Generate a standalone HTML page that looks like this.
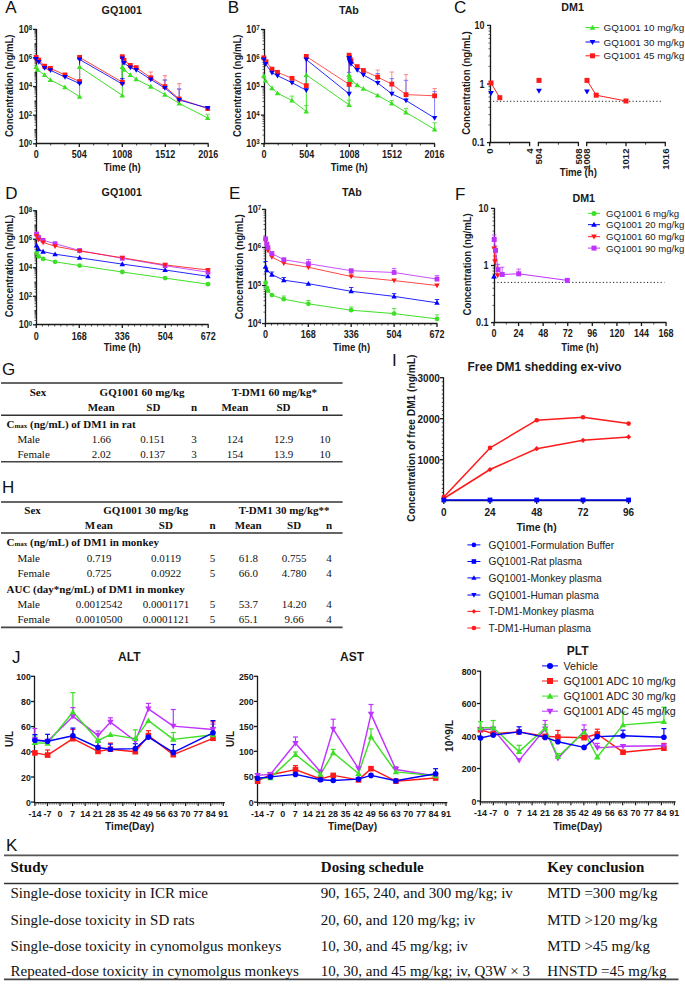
<!DOCTYPE html><html><head><meta charset="utf-8"><style>html,body{margin:0;padding:0;background:#fff;width:685px;height:984px;overflow:hidden}svg{display:block}</style></head><body>
<svg width="685" height="984" viewBox="0 0 685 984">
<rect width="685" height="984" fill="#fff"/>
<text x="5.2" y="13.2" font-family="Liberation Sans" font-size="17" font-weight="normal" text-anchor="start" fill="#111" >A</text>
<text x="227.7" y="13.2" font-family="Liberation Sans" font-size="17" font-weight="normal" text-anchor="start" fill="#111" >B</text>
<text x="454" y="13.2" font-family="Liberation Sans" font-size="17" font-weight="normal" text-anchor="start" fill="#111" >C</text>
<text x="5.2" y="198.5" font-family="Liberation Sans" font-size="17" font-weight="normal" text-anchor="start" fill="#111" >D</text>
<text x="229" y="199" font-family="Liberation Sans" font-size="17" font-weight="normal" text-anchor="start" fill="#111" >E</text>
<text x="455" y="199.5" font-family="Liberation Sans" font-size="17" font-weight="normal" text-anchor="start" fill="#111" >F</text>
<text x="2" y="374.6" font-family="Liberation Sans" font-size="17" font-weight="normal" text-anchor="start" fill="#111" >G</text>
<text x="2" y="493" font-family="Liberation Sans" font-size="17" font-weight="normal" text-anchor="start" fill="#111" >H</text>
<text x="392" y="366" font-family="Liberation Sans" font-size="17" font-weight="normal" text-anchor="start" fill="#111" >I</text>
<text x="12" y="663" font-family="Liberation Sans" font-size="17" font-weight="normal" text-anchor="start" fill="#111" >J</text>
<text x="6" y="851" font-family="Liberation Sans" font-size="17" font-weight="normal" text-anchor="start" fill="#111" >K</text>
<text x="121.8" y="13.6" font-family="Liberation Sans" font-size="10.7" font-weight="bold" text-anchor="middle" fill="#1a1a1a" >GQ1001</text>
<line x1="36.5" y1="28.9" x2="36.5" y2="144.4" stroke="#1a1a1a" stroke-width="1.3" />
<line x1="33" y1="143.8" x2="36.5" y2="143.8" stroke="#1a1a1a" stroke-width="1.3" />
<line x1="34.5" y1="139.5" x2="36.5" y2="139.5" stroke="#1a1a1a" stroke-width="0.7" />
<line x1="34.5" y1="136.98" x2="36.5" y2="136.98" stroke="#1a1a1a" stroke-width="0.7" />
<line x1="34.5" y1="135.19" x2="36.5" y2="135.19" stroke="#1a1a1a" stroke-width="0.7" />
<line x1="34.5" y1="133.8" x2="36.5" y2="133.8" stroke="#1a1a1a" stroke-width="0.7" />
<line x1="34.5" y1="132.67" x2="36.5" y2="132.67" stroke="#1a1a1a" stroke-width="0.7" />
<line x1="34.5" y1="131.72" x2="36.5" y2="131.72" stroke="#1a1a1a" stroke-width="0.7" />
<line x1="34.5" y1="130.89" x2="36.5" y2="130.89" stroke="#1a1a1a" stroke-width="0.7" />
<line x1="34.5" y1="130.15" x2="36.5" y2="130.15" stroke="#1a1a1a" stroke-width="0.7" />
<line x1="34.5" y1="129.5" x2="36.5" y2="129.5" stroke="#1a1a1a" stroke-width="0.9" />
<line x1="34.5" y1="125.2" x2="36.5" y2="125.2" stroke="#1a1a1a" stroke-width="0.7" />
<line x1="34.5" y1="122.68" x2="36.5" y2="122.68" stroke="#1a1a1a" stroke-width="0.7" />
<line x1="34.5" y1="120.89" x2="36.5" y2="120.89" stroke="#1a1a1a" stroke-width="0.7" />
<line x1="34.5" y1="119.5" x2="36.5" y2="119.5" stroke="#1a1a1a" stroke-width="0.7" />
<line x1="34.5" y1="118.37" x2="36.5" y2="118.37" stroke="#1a1a1a" stroke-width="0.7" />
<line x1="34.5" y1="117.42" x2="36.5" y2="117.42" stroke="#1a1a1a" stroke-width="0.7" />
<line x1="34.5" y1="116.59" x2="36.5" y2="116.59" stroke="#1a1a1a" stroke-width="0.7" />
<line x1="34.5" y1="115.85" x2="36.5" y2="115.85" stroke="#1a1a1a" stroke-width="0.7" />
<line x1="33" y1="115.2" x2="36.5" y2="115.2" stroke="#1a1a1a" stroke-width="1.3" />
<line x1="34.5" y1="110.9" x2="36.5" y2="110.9" stroke="#1a1a1a" stroke-width="0.7" />
<line x1="34.5" y1="108.38" x2="36.5" y2="108.38" stroke="#1a1a1a" stroke-width="0.7" />
<line x1="34.5" y1="106.59" x2="36.5" y2="106.59" stroke="#1a1a1a" stroke-width="0.7" />
<line x1="34.5" y1="105.2" x2="36.5" y2="105.2" stroke="#1a1a1a" stroke-width="0.7" />
<line x1="34.5" y1="104.07" x2="36.5" y2="104.07" stroke="#1a1a1a" stroke-width="0.7" />
<line x1="34.5" y1="103.12" x2="36.5" y2="103.12" stroke="#1a1a1a" stroke-width="0.7" />
<line x1="34.5" y1="102.29" x2="36.5" y2="102.29" stroke="#1a1a1a" stroke-width="0.7" />
<line x1="34.5" y1="101.55" x2="36.5" y2="101.55" stroke="#1a1a1a" stroke-width="0.7" />
<line x1="34.5" y1="100.9" x2="36.5" y2="100.9" stroke="#1a1a1a" stroke-width="0.9" />
<line x1="34.5" y1="96.6" x2="36.5" y2="96.6" stroke="#1a1a1a" stroke-width="0.7" />
<line x1="34.5" y1="94.08" x2="36.5" y2="94.08" stroke="#1a1a1a" stroke-width="0.7" />
<line x1="34.5" y1="92.29" x2="36.5" y2="92.29" stroke="#1a1a1a" stroke-width="0.7" />
<line x1="34.5" y1="90.9" x2="36.5" y2="90.9" stroke="#1a1a1a" stroke-width="0.7" />
<line x1="34.5" y1="89.77" x2="36.5" y2="89.77" stroke="#1a1a1a" stroke-width="0.7" />
<line x1="34.5" y1="88.82" x2="36.5" y2="88.82" stroke="#1a1a1a" stroke-width="0.7" />
<line x1="34.5" y1="87.99" x2="36.5" y2="87.99" stroke="#1a1a1a" stroke-width="0.7" />
<line x1="34.5" y1="87.25" x2="36.5" y2="87.25" stroke="#1a1a1a" stroke-width="0.7" />
<line x1="33" y1="86.6" x2="36.5" y2="86.6" stroke="#1a1a1a" stroke-width="1.3" />
<line x1="34.5" y1="82.3" x2="36.5" y2="82.3" stroke="#1a1a1a" stroke-width="0.7" />
<line x1="34.5" y1="79.78" x2="36.5" y2="79.78" stroke="#1a1a1a" stroke-width="0.7" />
<line x1="34.5" y1="77.99" x2="36.5" y2="77.99" stroke="#1a1a1a" stroke-width="0.7" />
<line x1="34.5" y1="76.6" x2="36.5" y2="76.6" stroke="#1a1a1a" stroke-width="0.7" />
<line x1="34.5" y1="75.47" x2="36.5" y2="75.47" stroke="#1a1a1a" stroke-width="0.7" />
<line x1="34.5" y1="74.52" x2="36.5" y2="74.52" stroke="#1a1a1a" stroke-width="0.7" />
<line x1="34.5" y1="73.69" x2="36.5" y2="73.69" stroke="#1a1a1a" stroke-width="0.7" />
<line x1="34.5" y1="72.95" x2="36.5" y2="72.95" stroke="#1a1a1a" stroke-width="0.7" />
<line x1="34.5" y1="72.3" x2="36.5" y2="72.3" stroke="#1a1a1a" stroke-width="0.9" />
<line x1="34.5" y1="68" x2="36.5" y2="68" stroke="#1a1a1a" stroke-width="0.7" />
<line x1="34.5" y1="65.48" x2="36.5" y2="65.48" stroke="#1a1a1a" stroke-width="0.7" />
<line x1="34.5" y1="63.69" x2="36.5" y2="63.69" stroke="#1a1a1a" stroke-width="0.7" />
<line x1="34.5" y1="62.3" x2="36.5" y2="62.3" stroke="#1a1a1a" stroke-width="0.7" />
<line x1="34.5" y1="61.17" x2="36.5" y2="61.17" stroke="#1a1a1a" stroke-width="0.7" />
<line x1="34.5" y1="60.22" x2="36.5" y2="60.22" stroke="#1a1a1a" stroke-width="0.7" />
<line x1="34.5" y1="59.39" x2="36.5" y2="59.39" stroke="#1a1a1a" stroke-width="0.7" />
<line x1="34.5" y1="58.65" x2="36.5" y2="58.65" stroke="#1a1a1a" stroke-width="0.7" />
<line x1="33" y1="58" x2="36.5" y2="58" stroke="#1a1a1a" stroke-width="1.3" />
<line x1="34.5" y1="53.7" x2="36.5" y2="53.7" stroke="#1a1a1a" stroke-width="0.7" />
<line x1="34.5" y1="51.18" x2="36.5" y2="51.18" stroke="#1a1a1a" stroke-width="0.7" />
<line x1="34.5" y1="49.39" x2="36.5" y2="49.39" stroke="#1a1a1a" stroke-width="0.7" />
<line x1="34.5" y1="48" x2="36.5" y2="48" stroke="#1a1a1a" stroke-width="0.7" />
<line x1="34.5" y1="46.87" x2="36.5" y2="46.87" stroke="#1a1a1a" stroke-width="0.7" />
<line x1="34.5" y1="45.92" x2="36.5" y2="45.92" stroke="#1a1a1a" stroke-width="0.7" />
<line x1="34.5" y1="45.09" x2="36.5" y2="45.09" stroke="#1a1a1a" stroke-width="0.7" />
<line x1="34.5" y1="44.35" x2="36.5" y2="44.35" stroke="#1a1a1a" stroke-width="0.7" />
<line x1="34.5" y1="43.7" x2="36.5" y2="43.7" stroke="#1a1a1a" stroke-width="0.9" />
<line x1="34.5" y1="39.4" x2="36.5" y2="39.4" stroke="#1a1a1a" stroke-width="0.7" />
<line x1="34.5" y1="36.88" x2="36.5" y2="36.88" stroke="#1a1a1a" stroke-width="0.7" />
<line x1="34.5" y1="35.09" x2="36.5" y2="35.09" stroke="#1a1a1a" stroke-width="0.7" />
<line x1="34.5" y1="33.7" x2="36.5" y2="33.7" stroke="#1a1a1a" stroke-width="0.7" />
<line x1="34.5" y1="32.57" x2="36.5" y2="32.57" stroke="#1a1a1a" stroke-width="0.7" />
<line x1="34.5" y1="31.62" x2="36.5" y2="31.62" stroke="#1a1a1a" stroke-width="0.7" />
<line x1="34.5" y1="30.79" x2="36.5" y2="30.79" stroke="#1a1a1a" stroke-width="0.7" />
<line x1="34.5" y1="30.05" x2="36.5" y2="30.05" stroke="#1a1a1a" stroke-width="0.7" />
<line x1="33" y1="29.4" x2="36.5" y2="29.4" stroke="#1a1a1a" stroke-width="1.3" />
<text transform="translate(32.1 147.4) scale(1 1.13)" font-family="Liberation Sans" font-weight="bold" font-size="9" text-anchor="end" fill="#1a1a1a">10<tspan font-size="6.2" dy="-2.5">0</tspan></text>
<text transform="translate(32.1 118.8) scale(1 1.13)" font-family="Liberation Sans" font-weight="bold" font-size="9" text-anchor="end" fill="#1a1a1a">10<tspan font-size="6.2" dy="-2.5">2</tspan></text>
<text transform="translate(32.1 90.2) scale(1 1.13)" font-family="Liberation Sans" font-weight="bold" font-size="9" text-anchor="end" fill="#1a1a1a">10<tspan font-size="6.2" dy="-2.5">4</tspan></text>
<text transform="translate(32.1 61.6) scale(1 1.13)" font-family="Liberation Sans" font-weight="bold" font-size="9" text-anchor="end" fill="#1a1a1a">10<tspan font-size="6.2" dy="-2.5">6</tspan></text>
<text transform="translate(32.1 33) scale(1 1.13)" font-family="Liberation Sans" font-weight="bold" font-size="9" text-anchor="end" fill="#1a1a1a">10<tspan font-size="6.2" dy="-2.5">8</tspan></text>
<line x1="35.7" y1="143.5" x2="208.6" y2="143.5" stroke="#1a1a1a" stroke-width="1.3" />
<line x1="36.3" y1="143.5" x2="36.3" y2="147" stroke="#1a1a1a" stroke-width="1.3" />
<line x1="79.3" y1="143.5" x2="79.3" y2="147" stroke="#1a1a1a" stroke-width="1.3" />
<line x1="122.3" y1="143.5" x2="122.3" y2="147" stroke="#1a1a1a" stroke-width="1.3" />
<line x1="165.3" y1="143.5" x2="165.3" y2="147" stroke="#1a1a1a" stroke-width="1.3" />
<line x1="208.2" y1="143.5" x2="208.2" y2="147" stroke="#1a1a1a" stroke-width="1.3" />
<line x1="50.63" y1="143.5" x2="50.63" y2="145.5" stroke="#1a1a1a" stroke-width="0.8" />
<line x1="64.96" y1="143.5" x2="64.96" y2="145.5" stroke="#1a1a1a" stroke-width="0.8" />
<line x1="93.62" y1="143.5" x2="93.62" y2="145.5" stroke="#1a1a1a" stroke-width="0.8" />
<line x1="107.95" y1="143.5" x2="107.95" y2="145.5" stroke="#1a1a1a" stroke-width="0.8" />
<line x1="136.61" y1="143.5" x2="136.61" y2="145.5" stroke="#1a1a1a" stroke-width="0.8" />
<line x1="150.94" y1="143.5" x2="150.94" y2="145.5" stroke="#1a1a1a" stroke-width="0.8" />
<line x1="179.6" y1="143.5" x2="179.6" y2="145.5" stroke="#1a1a1a" stroke-width="0.8" />
<line x1="193.93" y1="143.5" x2="193.93" y2="145.5" stroke="#1a1a1a" stroke-width="0.8" />
<text transform="translate(36.3 158) scale(1 1.13)" font-family="Liberation Sans" font-size="9" font-weight="bold" text-anchor="middle" fill="#1a1a1a" >0</text>
<text transform="translate(79.3 158) scale(1 1.13)" font-family="Liberation Sans" font-size="9" font-weight="bold" text-anchor="middle" fill="#1a1a1a" >504</text>
<text transform="translate(122.3 158) scale(1 1.13)" font-family="Liberation Sans" font-size="9" font-weight="bold" text-anchor="middle" fill="#1a1a1a" >1008</text>
<text transform="translate(165.3 158) scale(1 1.13)" font-family="Liberation Sans" font-size="9" font-weight="bold" text-anchor="middle" fill="#1a1a1a" >1512</text>
<text transform="translate(208.2 158) scale(1 1.13)" font-family="Liberation Sans" font-size="9" font-weight="bold" text-anchor="middle" fill="#1a1a1a" >2016</text>
<text transform="translate(122.2 170.6) scale(1 1.13)" font-family="Liberation Sans" font-size="9.6" font-weight="bold" text-anchor="middle" fill="#1a1a1a" >Time (h)</text>
<text x="0" y="0" transform="translate(13.3,85.8) rotate(-90)" font-family="Liberation Sans" font-weight="bold" font-size="10.5" text-anchor="middle" fill="#1a1a1a" textLength="102.5" lengthAdjust="spacingAndGlyphs">Concentration (ng/mL)</text>
<polyline points="36.1,57.4 38.8,60 44.6,66.2 50.4,68.4 65,74.9 79.6,81.5 79.6,57.4 122.3,82.2 122.3,56.7 124,60.3 130.3,65.4 136.2,67.6 150.8,77.8 164.9,86.6 179.2,99 207.7,108.5" fill="none" stroke="#ff1a1a" stroke-width="1" stroke-linejoin="round" stroke-opacity="0.85"/>
<polyline points="36.1,59 38.8,62 44.6,68 50.4,70.3 65,77 79.6,83.5 79.6,59.5 122.3,84 122.3,58.5 124,63 130.3,67.5 136.2,70 150.8,79.5 164.9,88 179.2,100 207.7,108" fill="none" stroke="#0000ff" stroke-width="1" stroke-linejoin="round" stroke-opacity="0.85"/>
<polyline points="36.1,66.9 37.5,69.8 44.6,74.9 50.4,80 65,87.3 79.6,96.8 79.6,66.9 122.3,95.4 122.3,66.9 124,69.8 130.3,74.9 136.2,79.3 150.8,86.6 164.9,94.6 179.2,103.4 207.7,118" fill="none" stroke="#3ee026" stroke-width="1" stroke-linejoin="round" stroke-opacity="1"/>
<line x1="207.7" y1="114.3" x2="207.7" y2="118" stroke="#3ee026" stroke-width="0.8" />
<line x1="205.5" y1="114.3" x2="209.9" y2="114.3" stroke="#3ee026" stroke-width="0.8" />
<line x1="164.9" y1="80" x2="164.9" y2="88" stroke="#0000ff" stroke-width="0.8" />
<line x1="162.7" y1="80" x2="167.1" y2="80" stroke="#0000ff" stroke-width="0.8" />
<line x1="179.2" y1="89" x2="179.2" y2="100" stroke="#0000ff" stroke-width="0.8" />
<line x1="177" y1="89" x2="181.4" y2="89" stroke="#0000ff" stroke-width="0.8" />
<line x1="122.3" y1="78.6" x2="122.3" y2="84" stroke="#0000ff" stroke-width="0.8" />
<line x1="120.1" y1="78.6" x2="124.5" y2="78.6" stroke="#0000ff" stroke-width="0.8" />
<line x1="150.8" y1="72" x2="150.8" y2="77.8" stroke="#ff6060" stroke-width="0.8" />
<line x1="148.6" y1="72" x2="153" y2="72" stroke="#ff6060" stroke-width="0.8" />
<line x1="164.9" y1="75.7" x2="164.9" y2="86.6" stroke="#ff6060" stroke-width="0.8" />
<line x1="162.7" y1="75.7" x2="167.1" y2="75.7" stroke="#ff6060" stroke-width="0.8" />
<line x1="179.2" y1="83.7" x2="179.2" y2="99" stroke="#ff6060" stroke-width="0.8" />
<line x1="177" y1="83.7" x2="181.4" y2="83.7" stroke="#ff6060" stroke-width="0.8" />
<polygon points="36.1,64.14 38.86,68.94 33.34,68.94" fill="#3ee026"/>
<polygon points="37.5,67.04 40.26,71.84 34.74,71.84" fill="#3ee026"/>
<polygon points="44.6,72.14 47.36,76.94 41.84,76.94" fill="#3ee026"/>
<polygon points="50.4,77.24 53.16,82.04 47.64,82.04" fill="#3ee026"/>
<polygon points="65,84.54 67.76,89.34 62.24,89.34" fill="#3ee026"/>
<polygon points="79.6,94.04 82.36,98.84 76.84,98.84" fill="#3ee026"/>
<polygon points="79.6,64.14 82.36,68.94 76.84,68.94" fill="#3ee026"/>
<polygon points="122.3,92.64 125.06,97.44 119.54,97.44" fill="#3ee026"/>
<polygon points="122.3,64.14 125.06,68.94 119.54,68.94" fill="#3ee026"/>
<polygon points="124,67.04 126.76,71.84 121.24,71.84" fill="#3ee026"/>
<polygon points="130.3,72.14 133.06,76.94 127.54,76.94" fill="#3ee026"/>
<polygon points="136.2,76.54 138.96,81.34 133.44,81.34" fill="#3ee026"/>
<polygon points="150.8,83.84 153.56,88.64 148.04,88.64" fill="#3ee026"/>
<polygon points="164.9,91.84 167.66,96.64 162.14,96.64" fill="#3ee026"/>
<polygon points="179.2,100.64 181.96,105.44 176.44,105.44" fill="#3ee026"/>
<polygon points="207.7,115.24 210.46,120.04 204.94,120.04" fill="#3ee026"/>
<rect x="33.7" y="55" width="4.8" height="4.8" fill="#ff1a1a"/>
<rect x="36.4" y="57.6" width="4.8" height="4.8" fill="#ff1a1a"/>
<rect x="42.2" y="63.8" width="4.8" height="4.8" fill="#ff1a1a"/>
<rect x="48" y="66" width="4.8" height="4.8" fill="#ff1a1a"/>
<rect x="62.6" y="72.5" width="4.8" height="4.8" fill="#ff1a1a"/>
<rect x="77.2" y="79.1" width="4.8" height="4.8" fill="#ff1a1a"/>
<rect x="77.2" y="55" width="4.8" height="4.8" fill="#ff1a1a"/>
<rect x="119.9" y="79.8" width="4.8" height="4.8" fill="#ff1a1a"/>
<rect x="119.9" y="54.3" width="4.8" height="4.8" fill="#ff1a1a"/>
<rect x="121.6" y="57.9" width="4.8" height="4.8" fill="#ff1a1a"/>
<rect x="127.9" y="63" width="4.8" height="4.8" fill="#ff1a1a"/>
<rect x="133.8" y="65.2" width="4.8" height="4.8" fill="#ff1a1a"/>
<rect x="148.4" y="75.4" width="4.8" height="4.8" fill="#ff1a1a"/>
<rect x="162.5" y="84.2" width="4.8" height="4.8" fill="#ff1a1a"/>
<rect x="176.8" y="96.6" width="4.8" height="4.8" fill="#ff1a1a"/>
<rect x="205.3" y="106.1" width="4.8" height="4.8" fill="#ff1a1a"/>
<polygon points="36.1,61.76 38.86,56.96 33.34,56.96" fill="#0000ff"/>
<polygon points="38.8,64.76 41.56,59.96 36.04,59.96" fill="#0000ff"/>
<polygon points="44.6,70.76 47.36,65.96 41.84,65.96" fill="#0000ff"/>
<polygon points="50.4,73.06 53.16,68.26 47.64,68.26" fill="#0000ff"/>
<polygon points="65,79.76 67.76,74.96 62.24,74.96" fill="#0000ff"/>
<polygon points="79.6,86.26 82.36,81.46 76.84,81.46" fill="#0000ff"/>
<polygon points="79.6,62.26 82.36,57.46 76.84,57.46" fill="#0000ff"/>
<polygon points="122.3,86.76 125.06,81.96 119.54,81.96" fill="#0000ff"/>
<polygon points="122.3,61.26 125.06,56.46 119.54,56.46" fill="#0000ff"/>
<polygon points="124,65.76 126.76,60.96 121.24,60.96" fill="#0000ff"/>
<polygon points="130.3,70.26 133.06,65.46 127.54,65.46" fill="#0000ff"/>
<polygon points="136.2,72.76 138.96,67.96 133.44,67.96" fill="#0000ff"/>
<polygon points="150.8,82.26 153.56,77.46 148.04,77.46" fill="#0000ff"/>
<polygon points="164.9,90.76 167.66,85.96 162.14,85.96" fill="#0000ff"/>
<polygon points="179.2,102.76 181.96,97.96 176.44,97.96" fill="#0000ff"/>
<polygon points="207.7,110.76 210.46,105.96 204.94,105.96" fill="#0000ff"/>
<text x="348.9" y="13.6" font-family="Liberation Sans" font-size="10.7" font-weight="bold" text-anchor="middle" fill="#1a1a1a" >TAb</text>
<line x1="264.5" y1="29" x2="264.5" y2="144.3" stroke="#1a1a1a" stroke-width="1.3" />
<line x1="261" y1="143.7" x2="264.5" y2="143.7" stroke="#1a1a1a" stroke-width="1.3" />
<line x1="262.5" y1="135.11" x2="264.5" y2="135.11" stroke="#1a1a1a" stroke-width="0.7" />
<line x1="262.5" y1="130.08" x2="264.5" y2="130.08" stroke="#1a1a1a" stroke-width="0.7" />
<line x1="262.5" y1="126.51" x2="264.5" y2="126.51" stroke="#1a1a1a" stroke-width="0.7" />
<line x1="262.5" y1="123.74" x2="264.5" y2="123.74" stroke="#1a1a1a" stroke-width="0.7" />
<line x1="262.5" y1="121.48" x2="264.5" y2="121.48" stroke="#1a1a1a" stroke-width="0.7" />
<line x1="262.5" y1="119.57" x2="264.5" y2="119.57" stroke="#1a1a1a" stroke-width="0.7" />
<line x1="262.5" y1="117.92" x2="264.5" y2="117.92" stroke="#1a1a1a" stroke-width="0.7" />
<line x1="262.5" y1="116.46" x2="264.5" y2="116.46" stroke="#1a1a1a" stroke-width="0.7" />
<line x1="261" y1="115.15" x2="264.5" y2="115.15" stroke="#1a1a1a" stroke-width="1.3" />
<line x1="262.5" y1="106.56" x2="264.5" y2="106.56" stroke="#1a1a1a" stroke-width="0.7" />
<line x1="262.5" y1="101.53" x2="264.5" y2="101.53" stroke="#1a1a1a" stroke-width="0.7" />
<line x1="262.5" y1="97.96" x2="264.5" y2="97.96" stroke="#1a1a1a" stroke-width="0.7" />
<line x1="262.5" y1="95.19" x2="264.5" y2="95.19" stroke="#1a1a1a" stroke-width="0.7" />
<line x1="262.5" y1="92.93" x2="264.5" y2="92.93" stroke="#1a1a1a" stroke-width="0.7" />
<line x1="262.5" y1="91.02" x2="264.5" y2="91.02" stroke="#1a1a1a" stroke-width="0.7" />
<line x1="262.5" y1="89.37" x2="264.5" y2="89.37" stroke="#1a1a1a" stroke-width="0.7" />
<line x1="262.5" y1="87.91" x2="264.5" y2="87.91" stroke="#1a1a1a" stroke-width="0.7" />
<line x1="261" y1="86.6" x2="264.5" y2="86.6" stroke="#1a1a1a" stroke-width="1.3" />
<line x1="262.5" y1="78.01" x2="264.5" y2="78.01" stroke="#1a1a1a" stroke-width="0.7" />
<line x1="262.5" y1="72.98" x2="264.5" y2="72.98" stroke="#1a1a1a" stroke-width="0.7" />
<line x1="262.5" y1="69.41" x2="264.5" y2="69.41" stroke="#1a1a1a" stroke-width="0.7" />
<line x1="262.5" y1="66.64" x2="264.5" y2="66.64" stroke="#1a1a1a" stroke-width="0.7" />
<line x1="262.5" y1="64.38" x2="264.5" y2="64.38" stroke="#1a1a1a" stroke-width="0.7" />
<line x1="262.5" y1="62.47" x2="264.5" y2="62.47" stroke="#1a1a1a" stroke-width="0.7" />
<line x1="262.5" y1="60.82" x2="264.5" y2="60.82" stroke="#1a1a1a" stroke-width="0.7" />
<line x1="262.5" y1="59.36" x2="264.5" y2="59.36" stroke="#1a1a1a" stroke-width="0.7" />
<line x1="261" y1="58.05" x2="264.5" y2="58.05" stroke="#1a1a1a" stroke-width="1.3" />
<line x1="262.5" y1="49.46" x2="264.5" y2="49.46" stroke="#1a1a1a" stroke-width="0.7" />
<line x1="262.5" y1="44.43" x2="264.5" y2="44.43" stroke="#1a1a1a" stroke-width="0.7" />
<line x1="262.5" y1="40.86" x2="264.5" y2="40.86" stroke="#1a1a1a" stroke-width="0.7" />
<line x1="262.5" y1="38.09" x2="264.5" y2="38.09" stroke="#1a1a1a" stroke-width="0.7" />
<line x1="262.5" y1="35.83" x2="264.5" y2="35.83" stroke="#1a1a1a" stroke-width="0.7" />
<line x1="262.5" y1="33.92" x2="264.5" y2="33.92" stroke="#1a1a1a" stroke-width="0.7" />
<line x1="262.5" y1="32.27" x2="264.5" y2="32.27" stroke="#1a1a1a" stroke-width="0.7" />
<line x1="262.5" y1="30.81" x2="264.5" y2="30.81" stroke="#1a1a1a" stroke-width="0.7" />
<line x1="261" y1="29.5" x2="264.5" y2="29.5" stroke="#1a1a1a" stroke-width="1.3" />
<text transform="translate(259.8 147.3) scale(1 1.13)" font-family="Liberation Sans" font-weight="bold" font-size="9" text-anchor="end" fill="#1a1a1a">10<tspan font-size="6.2" dy="-2.5">3</tspan></text>
<text transform="translate(259.8 118.75) scale(1 1.13)" font-family="Liberation Sans" font-weight="bold" font-size="9" text-anchor="end" fill="#1a1a1a">10<tspan font-size="6.2" dy="-2.5">4</tspan></text>
<text transform="translate(259.8 90.2) scale(1 1.13)" font-family="Liberation Sans" font-weight="bold" font-size="9" text-anchor="end" fill="#1a1a1a">10<tspan font-size="6.2" dy="-2.5">5</tspan></text>
<text transform="translate(259.8 61.65) scale(1 1.13)" font-family="Liberation Sans" font-weight="bold" font-size="9" text-anchor="end" fill="#1a1a1a">10<tspan font-size="6.2" dy="-2.5">6</tspan></text>
<text transform="translate(259.8 33.1) scale(1 1.13)" font-family="Liberation Sans" font-weight="bold" font-size="9" text-anchor="end" fill="#1a1a1a">10<tspan font-size="6.2" dy="-2.5">7</tspan></text>
<line x1="263.4" y1="143.5" x2="434.9" y2="143.5" stroke="#1a1a1a" stroke-width="1.3" />
<line x1="264" y1="143.5" x2="264" y2="147" stroke="#1a1a1a" stroke-width="1.3" />
<line x1="306.8" y1="143.5" x2="306.8" y2="147" stroke="#1a1a1a" stroke-width="1.3" />
<line x1="349.4" y1="143.5" x2="349.4" y2="147" stroke="#1a1a1a" stroke-width="1.3" />
<line x1="392" y1="143.5" x2="392" y2="147" stroke="#1a1a1a" stroke-width="1.3" />
<line x1="434.6" y1="143.5" x2="434.6" y2="147" stroke="#1a1a1a" stroke-width="1.3" />
<line x1="278.22" y1="143.5" x2="278.22" y2="145.5" stroke="#1a1a1a" stroke-width="0.8" />
<line x1="292.44" y1="143.5" x2="292.44" y2="145.5" stroke="#1a1a1a" stroke-width="0.8" />
<line x1="320.88" y1="143.5" x2="320.88" y2="145.5" stroke="#1a1a1a" stroke-width="0.8" />
<line x1="335.1" y1="143.5" x2="335.1" y2="145.5" stroke="#1a1a1a" stroke-width="0.8" />
<line x1="363.54" y1="143.5" x2="363.54" y2="145.5" stroke="#1a1a1a" stroke-width="0.8" />
<line x1="377.76" y1="143.5" x2="377.76" y2="145.5" stroke="#1a1a1a" stroke-width="0.8" />
<line x1="406.2" y1="143.5" x2="406.2" y2="145.5" stroke="#1a1a1a" stroke-width="0.8" />
<line x1="420.42" y1="143.5" x2="420.42" y2="145.5" stroke="#1a1a1a" stroke-width="0.8" />
<text transform="translate(264 157.9) scale(1 1.13)" font-family="Liberation Sans" font-size="9" font-weight="bold" text-anchor="middle" fill="#1a1a1a" >0</text>
<text transform="translate(306.8 157.9) scale(1 1.13)" font-family="Liberation Sans" font-size="9" font-weight="bold" text-anchor="middle" fill="#1a1a1a" >504</text>
<text transform="translate(349.4 157.9) scale(1 1.13)" font-family="Liberation Sans" font-size="9" font-weight="bold" text-anchor="middle" fill="#1a1a1a" >1008</text>
<text transform="translate(392 157.9) scale(1 1.13)" font-family="Liberation Sans" font-size="9" font-weight="bold" text-anchor="middle" fill="#1a1a1a" >1512</text>
<text transform="translate(434.6 157.9) scale(1 1.13)" font-family="Liberation Sans" font-size="9" font-weight="bold" text-anchor="middle" fill="#1a1a1a" >2016</text>
<text transform="translate(349.2 170.6) scale(1 1.13)" font-family="Liberation Sans" font-size="9.6" font-weight="bold" text-anchor="middle" fill="#1a1a1a" >Time (h)</text>
<text x="0" y="0" transform="translate(240.8,85.8) rotate(-90)" font-family="Liberation Sans" font-weight="bold" font-size="10.5" text-anchor="middle" fill="#1a1a1a" textLength="102.5" lengthAdjust="spacingAndGlyphs">Concentration (ng/mL)</text>
<polyline points="263.8,57.8 266,61.8 272,69.1 277.5,72.3 292,78.3 306.3,85.6 306.3,56.4 349.1,84.4 349.1,55.2 351,61 357.2,66.6 363.4,70.5 377.7,77.1 391.8,84.1 406,94.6 434.6,95.8" fill="none" stroke="#ff1a1a" stroke-width="1" stroke-linejoin="round" stroke-opacity="0.75"/>
<polyline points="264,59.6 265.5,64 272,72.7 277.5,75.7 292,82.7 306.3,90.3 306.3,59.6 349.1,93.9 349.1,58.1 351,64 357.2,70.1 363.4,74.9 377.7,83 391.8,93.9 406,100.5 434.6,118" fill="none" stroke="#0000ff" stroke-width="1" stroke-linejoin="round" stroke-opacity="0.85"/>
<polyline points="263.8,75.7 265.5,80.8 272,88.1 277.5,93.2 292,100.5 306.3,111.4 306.3,74.9 349.1,104.9 349.1,74.9 351,80 357.2,85.1 363.4,88.8 377.7,95.4 391.8,103.4 406,112.4 434.6,129.4" fill="none" stroke="#3ee026" stroke-width="1" stroke-linejoin="round" stroke-opacity="1"/>
<line x1="292" y1="96.1" x2="292" y2="100.5" stroke="#3ee026" stroke-width="0.8" />
<line x1="289.8" y1="96.1" x2="294.2" y2="96.1" stroke="#3ee026" stroke-width="0.8" />
<line x1="306.3" y1="105.6" x2="306.3" y2="111.4" stroke="#3ee026" stroke-width="0.8" />
<line x1="304.1" y1="105.6" x2="308.5" y2="105.6" stroke="#3ee026" stroke-width="0.8" />
<line x1="349.1" y1="100.2" x2="349.1" y2="104.9" stroke="#3ee026" stroke-width="0.8" />
<line x1="346.9" y1="100.2" x2="351.3" y2="100.2" stroke="#3ee026" stroke-width="0.8" />
<line x1="391.8" y1="100.5" x2="391.8" y2="103.4" stroke="#3ee026" stroke-width="0.8" />
<line x1="389.6" y1="100.5" x2="394" y2="100.5" stroke="#3ee026" stroke-width="0.8" />
<line x1="406" y1="108.5" x2="406" y2="112.4" stroke="#3ee026" stroke-width="0.8" />
<line x1="403.8" y1="108.5" x2="408.2" y2="108.5" stroke="#3ee026" stroke-width="0.8" />
<line x1="434.6" y1="122.7" x2="434.6" y2="129.4" stroke="#3ee026" stroke-width="0.8" />
<line x1="432.4" y1="122.7" x2="436.8" y2="122.7" stroke="#3ee026" stroke-width="0.8" />
<line x1="377.7" y1="70.1" x2="377.7" y2="77.1" stroke="#ff7070" stroke-width="0.8" />
<line x1="375.5" y1="70.1" x2="379.9" y2="70.1" stroke="#ff7070" stroke-width="0.8" />
<line x1="391.8" y1="72" x2="391.8" y2="84.1" stroke="#ff7070" stroke-width="0.8" />
<line x1="389.6" y1="72" x2="394" y2="72" stroke="#ff7070" stroke-width="0.8" />
<line x1="406" y1="74.6" x2="406" y2="94.6" stroke="#ff7070" stroke-width="0.8" />
<line x1="403.8" y1="74.6" x2="408.2" y2="74.6" stroke="#ff7070" stroke-width="0.8" />
<line x1="434.6" y1="88.5" x2="434.6" y2="95.8" stroke="#ff7070" stroke-width="0.8" />
<line x1="432.4" y1="88.5" x2="436.8" y2="88.5" stroke="#ff7070" stroke-width="0.8" />
<line x1="349.1" y1="72.4" x2="349.1" y2="93.9" stroke="#6060ff" stroke-width="0.8" />
<line x1="346.9" y1="72.4" x2="351.3" y2="72.4" stroke="#6060ff" stroke-width="0.8" />
<line x1="377.7" y1="73.5" x2="377.7" y2="83" stroke="#6060ff" stroke-width="0.8" />
<line x1="375.5" y1="73.5" x2="379.9" y2="73.5" stroke="#6060ff" stroke-width="0.8" />
<line x1="391.8" y1="78.6" x2="391.8" y2="93.9" stroke="#6060ff" stroke-width="0.8" />
<line x1="389.6" y1="78.6" x2="394" y2="78.6" stroke="#6060ff" stroke-width="0.8" />
<line x1="406" y1="80.3" x2="406" y2="100.5" stroke="#6060ff" stroke-width="0.8" />
<line x1="403.8" y1="80.3" x2="408.2" y2="80.3" stroke="#6060ff" stroke-width="0.8" />
<line x1="434.6" y1="91.4" x2="434.6" y2="118" stroke="#6060ff" stroke-width="0.8" />
<line x1="432.4" y1="91.4" x2="436.8" y2="91.4" stroke="#6060ff" stroke-width="0.8" />
<polygon points="263.8,72.94 266.56,77.74 261.04,77.74" fill="#3ee026"/>
<polygon points="265.5,78.04 268.26,82.84 262.74,82.84" fill="#3ee026"/>
<polygon points="272,85.34 274.76,90.14 269.24,90.14" fill="#3ee026"/>
<polygon points="277.5,90.44 280.26,95.24 274.74,95.24" fill="#3ee026"/>
<polygon points="292,97.74 294.76,102.54 289.24,102.54" fill="#3ee026"/>
<polygon points="306.3,108.64 309.06,113.44 303.54,113.44" fill="#3ee026"/>
<polygon points="306.3,72.14 309.06,76.94 303.54,76.94" fill="#3ee026"/>
<polygon points="349.1,102.14 351.86,106.94 346.34,106.94" fill="#3ee026"/>
<polygon points="349.1,72.14 351.86,76.94 346.34,76.94" fill="#3ee026"/>
<polygon points="351,77.24 353.76,82.04 348.24,82.04" fill="#3ee026"/>
<polygon points="357.2,82.34 359.96,87.14 354.44,87.14" fill="#3ee026"/>
<polygon points="363.4,86.04 366.16,90.84 360.64,90.84" fill="#3ee026"/>
<polygon points="377.7,92.64 380.46,97.44 374.94,97.44" fill="#3ee026"/>
<polygon points="391.8,100.64 394.56,105.44 389.04,105.44" fill="#3ee026"/>
<polygon points="406,109.64 408.76,114.44 403.24,114.44" fill="#3ee026"/>
<polygon points="434.6,126.64 437.36,131.44 431.84,131.44" fill="#3ee026"/>
<polygon points="349.3,74.44 352.06,79.24 346.54,79.24" fill="#3ee026"/>
<polygon points="349.7,76.74 352.46,81.54 346.94,81.54" fill="#3ee026"/>
<polygon points="350.3,79.24 353.06,84.04 347.54,84.04" fill="#3ee026"/>
<rect x="261.4" y="55.4" width="4.8" height="4.8" fill="#ff1a1a"/>
<rect x="263.6" y="59.4" width="4.8" height="4.8" fill="#ff1a1a"/>
<rect x="269.6" y="66.7" width="4.8" height="4.8" fill="#ff1a1a"/>
<rect x="275.1" y="69.9" width="4.8" height="4.8" fill="#ff1a1a"/>
<rect x="289.6" y="75.9" width="4.8" height="4.8" fill="#ff1a1a"/>
<rect x="303.9" y="83.2" width="4.8" height="4.8" fill="#ff1a1a"/>
<rect x="303.9" y="54" width="4.8" height="4.8" fill="#ff1a1a"/>
<rect x="346.7" y="82" width="4.8" height="4.8" fill="#ff1a1a"/>
<rect x="346.7" y="52.8" width="4.8" height="4.8" fill="#ff1a1a"/>
<rect x="348.6" y="58.6" width="4.8" height="4.8" fill="#ff1a1a"/>
<rect x="354.8" y="64.2" width="4.8" height="4.8" fill="#ff1a1a"/>
<rect x="361" y="68.1" width="4.8" height="4.8" fill="#ff1a1a"/>
<rect x="375.3" y="74.7" width="4.8" height="4.8" fill="#ff1a1a"/>
<rect x="389.4" y="81.7" width="4.8" height="4.8" fill="#ff1a1a"/>
<rect x="403.6" y="92.2" width="4.8" height="4.8" fill="#ff1a1a"/>
<rect x="432.2" y="93.4" width="4.8" height="4.8" fill="#ff1a1a"/>
<rect x="347.1" y="55.1" width="4.8" height="4.8" fill="#ff1a1a"/>
<rect x="347.8" y="57.1" width="4.8" height="4.8" fill="#ff1a1a"/>
<polygon points="264,62.36 266.76,57.56 261.24,57.56" fill="#0000ff"/>
<polygon points="265.5,66.76 268.26,61.96 262.74,61.96" fill="#0000ff"/>
<polygon points="272,75.46 274.76,70.66 269.24,70.66" fill="#0000ff"/>
<polygon points="277.5,78.46 280.26,73.66 274.74,73.66" fill="#0000ff"/>
<polygon points="292,85.46 294.76,80.66 289.24,80.66" fill="#0000ff"/>
<polygon points="306.3,93.06 309.06,88.26 303.54,88.26" fill="#0000ff"/>
<polygon points="306.3,62.36 309.06,57.56 303.54,57.56" fill="#0000ff"/>
<polygon points="349.1,96.66 351.86,91.86 346.34,91.86" fill="#0000ff"/>
<polygon points="349.1,60.86 351.86,56.06 346.34,56.06" fill="#0000ff"/>
<polygon points="351,66.76 353.76,61.96 348.24,61.96" fill="#0000ff"/>
<polygon points="357.2,72.86 359.96,68.06 354.44,68.06" fill="#0000ff"/>
<polygon points="363.4,77.66 366.16,72.86 360.64,72.86" fill="#0000ff"/>
<polygon points="377.7,85.76 380.46,80.96 374.94,80.96" fill="#0000ff"/>
<polygon points="391.8,96.66 394.56,91.86 389.04,91.86" fill="#0000ff"/>
<polygon points="406,103.26 408.76,98.46 403.24,98.46" fill="#0000ff"/>
<polygon points="434.6,120.76 437.36,115.96 431.84,115.96" fill="#0000ff"/>
<polygon points="349.5,63.26 352.26,58.46 346.74,58.46" fill="#0000ff"/>
<polygon points="350.2,65.26 352.96,60.46 347.44,60.46" fill="#0000ff"/>
<text x="572.6" y="11.3" font-family="Liberation Sans" font-size="10.7" font-weight="bold" text-anchor="middle" fill="#1a1a1a" >DM1</text>
<line x1="490.5" y1="24.9" x2="490.5" y2="143.2" stroke="#1a1a1a" stroke-width="1.3" />
<line x1="487" y1="142.6" x2="490.5" y2="142.6" stroke="#1a1a1a" stroke-width="1.3" />
<line x1="488.5" y1="124.96" x2="490.5" y2="124.96" stroke="#1a1a1a" stroke-width="0.7" />
<line x1="488.5" y1="114.64" x2="490.5" y2="114.64" stroke="#1a1a1a" stroke-width="0.7" />
<line x1="488.5" y1="107.32" x2="490.5" y2="107.32" stroke="#1a1a1a" stroke-width="0.7" />
<line x1="488.5" y1="101.64" x2="490.5" y2="101.64" stroke="#1a1a1a" stroke-width="0.7" />
<line x1="488.5" y1="97" x2="490.5" y2="97" stroke="#1a1a1a" stroke-width="0.7" />
<line x1="488.5" y1="93.08" x2="490.5" y2="93.08" stroke="#1a1a1a" stroke-width="0.7" />
<line x1="488.5" y1="89.68" x2="490.5" y2="89.68" stroke="#1a1a1a" stroke-width="0.7" />
<line x1="488.5" y1="86.68" x2="490.5" y2="86.68" stroke="#1a1a1a" stroke-width="0.7" />
<line x1="487" y1="84" x2="490.5" y2="84" stroke="#1a1a1a" stroke-width="1.3" />
<line x1="488.5" y1="66.36" x2="490.5" y2="66.36" stroke="#1a1a1a" stroke-width="0.7" />
<line x1="488.5" y1="56.04" x2="490.5" y2="56.04" stroke="#1a1a1a" stroke-width="0.7" />
<line x1="488.5" y1="48.72" x2="490.5" y2="48.72" stroke="#1a1a1a" stroke-width="0.7" />
<line x1="488.5" y1="43.04" x2="490.5" y2="43.04" stroke="#1a1a1a" stroke-width="0.7" />
<line x1="488.5" y1="38.4" x2="490.5" y2="38.4" stroke="#1a1a1a" stroke-width="0.7" />
<line x1="488.5" y1="34.48" x2="490.5" y2="34.48" stroke="#1a1a1a" stroke-width="0.7" />
<line x1="488.5" y1="31.08" x2="490.5" y2="31.08" stroke="#1a1a1a" stroke-width="0.7" />
<line x1="488.5" y1="28.08" x2="490.5" y2="28.08" stroke="#1a1a1a" stroke-width="0.7" />
<line x1="487" y1="25.4" x2="490.5" y2="25.4" stroke="#1a1a1a" stroke-width="1.3" />
<text transform="translate(484.5 146.3) scale(1 1.13)" font-family="Liberation Sans" font-size="9" font-weight="bold" text-anchor="end" fill="#1a1a1a" >0.1</text>
<text transform="translate(484.5 87.7) scale(1 1.13)" font-family="Liberation Sans" font-size="9" font-weight="bold" text-anchor="end" fill="#1a1a1a" >1</text>
<text transform="translate(484.5 29.1) scale(1 1.13)" font-family="Liberation Sans" font-size="9" font-weight="bold" text-anchor="end" fill="#1a1a1a" >10</text>
<line x1="489.1" y1="142.5" x2="530.2" y2="142.5" stroke="#1a1a1a" stroke-width="1.3" />
<line x1="489.7" y1="142.5" x2="489.7" y2="146.2" stroke="#1a1a1a" stroke-width="1.3" />
<line x1="529.6" y1="142.5" x2="529.6" y2="146.2" stroke="#1a1a1a" stroke-width="1.3" />
<line x1="509.65" y1="142.5" x2="509.65" y2="144.7" stroke="#1a1a1a" stroke-width="0.9" />
<line x1="537.8" y1="142.5" x2="579" y2="142.5" stroke="#1a1a1a" stroke-width="1.3" />
<line x1="538.4" y1="142.5" x2="538.4" y2="146.2" stroke="#1a1a1a" stroke-width="1.3" />
<line x1="578.4" y1="142.5" x2="578.4" y2="146.2" stroke="#1a1a1a" stroke-width="1.3" />
<line x1="558.4" y1="142.5" x2="558.4" y2="144.7" stroke="#1a1a1a" stroke-width="0.9" />
<line x1="586.1" y1="142.5" x2="665.9" y2="142.5" stroke="#1a1a1a" stroke-width="1.3" />
<line x1="586.7" y1="142.5" x2="586.7" y2="146.2" stroke="#1a1a1a" stroke-width="1.3" />
<line x1="626" y1="142.5" x2="626" y2="146.2" stroke="#1a1a1a" stroke-width="1.3" />
<line x1="665.3" y1="142.5" x2="665.3" y2="146.2" stroke="#1a1a1a" stroke-width="1.3" />
<line x1="606.35" y1="142.5" x2="606.35" y2="144.7" stroke="#1a1a1a" stroke-width="0.9" />
<line x1="645.65" y1="142.5" x2="645.65" y2="144.7" stroke="#1a1a1a" stroke-width="0.9" />
<text x="0" y="0" transform="translate(493,148.5) rotate(-90)" font-family="Liberation Sans" font-weight="bold" font-size="9.6" text-anchor="end" fill="#1a1a1a">0</text>
<text x="0" y="0" transform="translate(532.9,148.5) rotate(-90)" font-family="Liberation Sans" font-weight="bold" font-size="9.6" text-anchor="end" fill="#1a1a1a">4</text>
<text x="0" y="0" transform="translate(541.7,148.5) rotate(-90)" font-family="Liberation Sans" font-weight="bold" font-size="9.6" text-anchor="end" fill="#1a1a1a">504</text>
<text x="0" y="0" transform="translate(581.7,148.5) rotate(-90)" font-family="Liberation Sans" font-weight="bold" font-size="9.6" text-anchor="end" fill="#1a1a1a">508</text>
<text x="0" y="0" transform="translate(590,148.5) rotate(-90)" font-family="Liberation Sans" font-weight="bold" font-size="9.6" text-anchor="end" fill="#1a1a1a">1008</text>
<text x="0" y="0" transform="translate(629.3,148.5) rotate(-90)" font-family="Liberation Sans" font-weight="bold" font-size="9.6" text-anchor="end" fill="#1a1a1a">1012</text>
<text x="0" y="0" transform="translate(668.6,148.5) rotate(-90)" font-family="Liberation Sans" font-weight="bold" font-size="9.6" text-anchor="end" fill="#1a1a1a">1016</text>
<text transform="translate(578.3 176) scale(1 1.13)" font-family="Liberation Sans" font-size="9.6" font-weight="bold" text-anchor="middle" fill="#1a1a1a" >Time (h)</text>
<text x="0" y="0" transform="translate(470.4,83.1) rotate(-90)" font-family="Liberation Sans" font-weight="bold" font-size="10.5" text-anchor="middle" fill="#1a1a1a" textLength="103.5" lengthAdjust="spacingAndGlyphs">Concentration (ng/mL)</text>
<line x1="489.7" y1="101.3" x2="663" y2="101.3" stroke="#222" stroke-width="1" stroke-dasharray="1.2 2.2"/>
<polyline points="491,83 499.8,97.7" fill="none" stroke="#ff1a1a" stroke-width="1" stroke-linejoin="round" stroke-opacity="1"/>
<polyline points="587,80.4 596.2,95.2 626,101" fill="none" stroke="#ff1a1a" stroke-width="1" stroke-linejoin="round" stroke-opacity="1"/>
<rect x="488.5" y="80.5" width="5" height="5" fill="#ff1a1a"/>
<rect x="497.3" y="95.2" width="5" height="5" fill="#ff1a1a"/>
<rect x="536.5" y="77.9" width="5" height="5" fill="#ff1a1a"/>
<rect x="584.5" y="77.9" width="5" height="5" fill="#ff1a1a"/>
<rect x="593.7" y="92.7" width="5" height="5" fill="#ff1a1a"/>
<rect x="623.5" y="98.5" width="5" height="5" fill="#ff1a1a"/>
<polygon points="491,95.88 493.88,90.88 488.12,90.88" fill="#0000ff"/>
<polygon points="539,93.67 541.88,88.67 536.12,88.67" fill="#0000ff"/>
<polygon points="587,94.58 589.88,89.58 584.12,89.58" fill="#0000ff"/>
<line x1="585.5" y1="27.6" x2="599.5" y2="27.6" stroke="#3ee026" stroke-width="1" />
<polygon points="592.5,24.73 595.38,29.73 589.62,29.73" fill="#3ee026"/>
<text x="603.5" y="31.16" font-family="Liberation Sans" font-size="9.9" font-weight="normal" text-anchor="start" fill="#222" >GQ1001 10 mg/kg</text>
<line x1="585.5" y1="42" x2="599.5" y2="42" stroke="#0000ff" stroke-width="1" />
<polygon points="592.5,44.88 595.38,39.88 589.62,39.88" fill="#0000ff"/>
<text x="603.5" y="45.56" font-family="Liberation Sans" font-size="9.9" font-weight="normal" text-anchor="start" fill="#222" >GQ1001 30 mg/kg</text>
<line x1="585.5" y1="55.8" x2="599.5" y2="55.8" stroke="#ff1a1a" stroke-width="1" />
<rect x="590" y="53.3" width="5" height="5" fill="#ff1a1a"/>
<text x="603.5" y="59.36" font-family="Liberation Sans" font-size="9.9" font-weight="normal" text-anchor="start" fill="#222" >GQ1001 45 mg/kg</text>
<text x="121.8" y="196.2" font-family="Liberation Sans" font-size="10.7" font-weight="bold" text-anchor="middle" fill="#1a1a1a" >GQ1001</text>
<line x1="36.5" y1="210.22" x2="36.5" y2="325.4" stroke="#1a1a1a" stroke-width="1.3" />
<line x1="33" y1="324.8" x2="36.5" y2="324.8" stroke="#1a1a1a" stroke-width="1.3" />
<line x1="34.5" y1="320.51" x2="36.5" y2="320.51" stroke="#1a1a1a" stroke-width="0.7" />
<line x1="34.5" y1="318" x2="36.5" y2="318" stroke="#1a1a1a" stroke-width="0.7" />
<line x1="34.5" y1="316.21" x2="36.5" y2="316.21" stroke="#1a1a1a" stroke-width="0.7" />
<line x1="34.5" y1="314.83" x2="36.5" y2="314.83" stroke="#1a1a1a" stroke-width="0.7" />
<line x1="34.5" y1="313.7" x2="36.5" y2="313.7" stroke="#1a1a1a" stroke-width="0.7" />
<line x1="34.5" y1="312.75" x2="36.5" y2="312.75" stroke="#1a1a1a" stroke-width="0.7" />
<line x1="34.5" y1="311.92" x2="36.5" y2="311.92" stroke="#1a1a1a" stroke-width="0.7" />
<line x1="34.5" y1="311.19" x2="36.5" y2="311.19" stroke="#1a1a1a" stroke-width="0.7" />
<line x1="34.5" y1="310.54" x2="36.5" y2="310.54" stroke="#1a1a1a" stroke-width="0.9" />
<line x1="34.5" y1="306.25" x2="36.5" y2="306.25" stroke="#1a1a1a" stroke-width="0.7" />
<line x1="34.5" y1="303.74" x2="36.5" y2="303.74" stroke="#1a1a1a" stroke-width="0.7" />
<line x1="34.5" y1="301.95" x2="36.5" y2="301.95" stroke="#1a1a1a" stroke-width="0.7" />
<line x1="34.5" y1="300.57" x2="36.5" y2="300.57" stroke="#1a1a1a" stroke-width="0.7" />
<line x1="34.5" y1="299.44" x2="36.5" y2="299.44" stroke="#1a1a1a" stroke-width="0.7" />
<line x1="34.5" y1="298.49" x2="36.5" y2="298.49" stroke="#1a1a1a" stroke-width="0.7" />
<line x1="34.5" y1="297.66" x2="36.5" y2="297.66" stroke="#1a1a1a" stroke-width="0.7" />
<line x1="34.5" y1="296.93" x2="36.5" y2="296.93" stroke="#1a1a1a" stroke-width="0.7" />
<line x1="33" y1="296.28" x2="36.5" y2="296.28" stroke="#1a1a1a" stroke-width="1.3" />
<line x1="34.5" y1="291.99" x2="36.5" y2="291.99" stroke="#1a1a1a" stroke-width="0.7" />
<line x1="34.5" y1="289.48" x2="36.5" y2="289.48" stroke="#1a1a1a" stroke-width="0.7" />
<line x1="34.5" y1="287.69" x2="36.5" y2="287.69" stroke="#1a1a1a" stroke-width="0.7" />
<line x1="34.5" y1="286.31" x2="36.5" y2="286.31" stroke="#1a1a1a" stroke-width="0.7" />
<line x1="34.5" y1="285.18" x2="36.5" y2="285.18" stroke="#1a1a1a" stroke-width="0.7" />
<line x1="34.5" y1="284.23" x2="36.5" y2="284.23" stroke="#1a1a1a" stroke-width="0.7" />
<line x1="34.5" y1="283.4" x2="36.5" y2="283.4" stroke="#1a1a1a" stroke-width="0.7" />
<line x1="34.5" y1="282.67" x2="36.5" y2="282.67" stroke="#1a1a1a" stroke-width="0.7" />
<line x1="34.5" y1="282.02" x2="36.5" y2="282.02" stroke="#1a1a1a" stroke-width="0.9" />
<line x1="34.5" y1="277.73" x2="36.5" y2="277.73" stroke="#1a1a1a" stroke-width="0.7" />
<line x1="34.5" y1="275.22" x2="36.5" y2="275.22" stroke="#1a1a1a" stroke-width="0.7" />
<line x1="34.5" y1="273.43" x2="36.5" y2="273.43" stroke="#1a1a1a" stroke-width="0.7" />
<line x1="34.5" y1="272.05" x2="36.5" y2="272.05" stroke="#1a1a1a" stroke-width="0.7" />
<line x1="34.5" y1="270.92" x2="36.5" y2="270.92" stroke="#1a1a1a" stroke-width="0.7" />
<line x1="34.5" y1="269.97" x2="36.5" y2="269.97" stroke="#1a1a1a" stroke-width="0.7" />
<line x1="34.5" y1="269.14" x2="36.5" y2="269.14" stroke="#1a1a1a" stroke-width="0.7" />
<line x1="34.5" y1="268.41" x2="36.5" y2="268.41" stroke="#1a1a1a" stroke-width="0.7" />
<line x1="33" y1="267.76" x2="36.5" y2="267.76" stroke="#1a1a1a" stroke-width="1.3" />
<line x1="34.5" y1="263.47" x2="36.5" y2="263.47" stroke="#1a1a1a" stroke-width="0.7" />
<line x1="34.5" y1="260.96" x2="36.5" y2="260.96" stroke="#1a1a1a" stroke-width="0.7" />
<line x1="34.5" y1="259.17" x2="36.5" y2="259.17" stroke="#1a1a1a" stroke-width="0.7" />
<line x1="34.5" y1="257.79" x2="36.5" y2="257.79" stroke="#1a1a1a" stroke-width="0.7" />
<line x1="34.5" y1="256.66" x2="36.5" y2="256.66" stroke="#1a1a1a" stroke-width="0.7" />
<line x1="34.5" y1="255.71" x2="36.5" y2="255.71" stroke="#1a1a1a" stroke-width="0.7" />
<line x1="34.5" y1="254.88" x2="36.5" y2="254.88" stroke="#1a1a1a" stroke-width="0.7" />
<line x1="34.5" y1="254.15" x2="36.5" y2="254.15" stroke="#1a1a1a" stroke-width="0.7" />
<line x1="34.5" y1="253.5" x2="36.5" y2="253.5" stroke="#1a1a1a" stroke-width="0.9" />
<line x1="34.5" y1="249.21" x2="36.5" y2="249.21" stroke="#1a1a1a" stroke-width="0.7" />
<line x1="34.5" y1="246.7" x2="36.5" y2="246.7" stroke="#1a1a1a" stroke-width="0.7" />
<line x1="34.5" y1="244.91" x2="36.5" y2="244.91" stroke="#1a1a1a" stroke-width="0.7" />
<line x1="34.5" y1="243.53" x2="36.5" y2="243.53" stroke="#1a1a1a" stroke-width="0.7" />
<line x1="34.5" y1="242.4" x2="36.5" y2="242.4" stroke="#1a1a1a" stroke-width="0.7" />
<line x1="34.5" y1="241.45" x2="36.5" y2="241.45" stroke="#1a1a1a" stroke-width="0.7" />
<line x1="34.5" y1="240.62" x2="36.5" y2="240.62" stroke="#1a1a1a" stroke-width="0.7" />
<line x1="34.5" y1="239.89" x2="36.5" y2="239.89" stroke="#1a1a1a" stroke-width="0.7" />
<line x1="33" y1="239.24" x2="36.5" y2="239.24" stroke="#1a1a1a" stroke-width="1.3" />
<line x1="34.5" y1="234.95" x2="36.5" y2="234.95" stroke="#1a1a1a" stroke-width="0.7" />
<line x1="34.5" y1="232.44" x2="36.5" y2="232.44" stroke="#1a1a1a" stroke-width="0.7" />
<line x1="34.5" y1="230.65" x2="36.5" y2="230.65" stroke="#1a1a1a" stroke-width="0.7" />
<line x1="34.5" y1="229.27" x2="36.5" y2="229.27" stroke="#1a1a1a" stroke-width="0.7" />
<line x1="34.5" y1="228.14" x2="36.5" y2="228.14" stroke="#1a1a1a" stroke-width="0.7" />
<line x1="34.5" y1="227.19" x2="36.5" y2="227.19" stroke="#1a1a1a" stroke-width="0.7" />
<line x1="34.5" y1="226.36" x2="36.5" y2="226.36" stroke="#1a1a1a" stroke-width="0.7" />
<line x1="34.5" y1="225.63" x2="36.5" y2="225.63" stroke="#1a1a1a" stroke-width="0.7" />
<line x1="34.5" y1="224.98" x2="36.5" y2="224.98" stroke="#1a1a1a" stroke-width="0.9" />
<line x1="34.5" y1="220.69" x2="36.5" y2="220.69" stroke="#1a1a1a" stroke-width="0.7" />
<line x1="34.5" y1="218.18" x2="36.5" y2="218.18" stroke="#1a1a1a" stroke-width="0.7" />
<line x1="34.5" y1="216.39" x2="36.5" y2="216.39" stroke="#1a1a1a" stroke-width="0.7" />
<line x1="34.5" y1="215.01" x2="36.5" y2="215.01" stroke="#1a1a1a" stroke-width="0.7" />
<line x1="34.5" y1="213.88" x2="36.5" y2="213.88" stroke="#1a1a1a" stroke-width="0.7" />
<line x1="34.5" y1="212.93" x2="36.5" y2="212.93" stroke="#1a1a1a" stroke-width="0.7" />
<line x1="34.5" y1="212.1" x2="36.5" y2="212.1" stroke="#1a1a1a" stroke-width="0.7" />
<line x1="34.5" y1="211.37" x2="36.5" y2="211.37" stroke="#1a1a1a" stroke-width="0.7" />
<line x1="33" y1="210.72" x2="36.5" y2="210.72" stroke="#1a1a1a" stroke-width="1.3" />
<text transform="translate(32.1 328.4) scale(1 1.13)" font-family="Liberation Sans" font-weight="bold" font-size="9" text-anchor="end" fill="#1a1a1a">10<tspan font-size="6.2" dy="-2.5">0</tspan></text>
<text transform="translate(32.1 299.88) scale(1 1.13)" font-family="Liberation Sans" font-weight="bold" font-size="9" text-anchor="end" fill="#1a1a1a">10<tspan font-size="6.2" dy="-2.5">2</tspan></text>
<text transform="translate(32.1 271.36) scale(1 1.13)" font-family="Liberation Sans" font-weight="bold" font-size="9" text-anchor="end" fill="#1a1a1a">10<tspan font-size="6.2" dy="-2.5">4</tspan></text>
<text transform="translate(32.1 242.84) scale(1 1.13)" font-family="Liberation Sans" font-weight="bold" font-size="9" text-anchor="end" fill="#1a1a1a">10<tspan font-size="6.2" dy="-2.5">6</tspan></text>
<text transform="translate(32.1 214.32) scale(1 1.13)" font-family="Liberation Sans" font-weight="bold" font-size="9" text-anchor="end" fill="#1a1a1a">10<tspan font-size="6.2" dy="-2.5">8</tspan></text>
<line x1="35.7" y1="324.5" x2="208.6" y2="324.5" stroke="#1a1a1a" stroke-width="1.3" />
<line x1="36.3" y1="324.5" x2="36.3" y2="328" stroke="#1a1a1a" stroke-width="1.3" />
<line x1="79.3" y1="324.5" x2="79.3" y2="328" stroke="#1a1a1a" stroke-width="1.3" />
<line x1="122.3" y1="324.5" x2="122.3" y2="328" stroke="#1a1a1a" stroke-width="1.3" />
<line x1="165.3" y1="324.5" x2="165.3" y2="328" stroke="#1a1a1a" stroke-width="1.3" />
<line x1="208.2" y1="324.5" x2="208.2" y2="328" stroke="#1a1a1a" stroke-width="1.3" />
<line x1="42.44" y1="324.5" x2="42.44" y2="326.5" stroke="#1a1a1a" stroke-width="0.8" />
<line x1="48.57" y1="324.5" x2="48.57" y2="326.5" stroke="#1a1a1a" stroke-width="0.8" />
<line x1="54.71" y1="324.5" x2="54.71" y2="326.5" stroke="#1a1a1a" stroke-width="0.8" />
<line x1="60.85" y1="324.5" x2="60.85" y2="326.5" stroke="#1a1a1a" stroke-width="0.8" />
<line x1="66.98" y1="324.5" x2="66.98" y2="326.5" stroke="#1a1a1a" stroke-width="0.8" />
<line x1="73.12" y1="324.5" x2="73.12" y2="326.5" stroke="#1a1a1a" stroke-width="0.8" />
<line x1="85.4" y1="324.5" x2="85.4" y2="326.5" stroke="#1a1a1a" stroke-width="0.8" />
<line x1="91.53" y1="324.5" x2="91.53" y2="326.5" stroke="#1a1a1a" stroke-width="0.8" />
<line x1="97.67" y1="324.5" x2="97.67" y2="326.5" stroke="#1a1a1a" stroke-width="0.8" />
<line x1="103.81" y1="324.5" x2="103.81" y2="326.5" stroke="#1a1a1a" stroke-width="0.8" />
<line x1="109.94" y1="324.5" x2="109.94" y2="326.5" stroke="#1a1a1a" stroke-width="0.8" />
<line x1="116.08" y1="324.5" x2="116.08" y2="326.5" stroke="#1a1a1a" stroke-width="0.8" />
<line x1="128.35" y1="324.5" x2="128.35" y2="326.5" stroke="#1a1a1a" stroke-width="0.8" />
<line x1="134.49" y1="324.5" x2="134.49" y2="326.5" stroke="#1a1a1a" stroke-width="0.8" />
<line x1="140.63" y1="324.5" x2="140.63" y2="326.5" stroke="#1a1a1a" stroke-width="0.8" />
<line x1="146.77" y1="324.5" x2="146.77" y2="326.5" stroke="#1a1a1a" stroke-width="0.8" />
<line x1="152.9" y1="324.5" x2="152.9" y2="326.5" stroke="#1a1a1a" stroke-width="0.8" />
<line x1="159.04" y1="324.5" x2="159.04" y2="326.5" stroke="#1a1a1a" stroke-width="0.8" />
<line x1="171.31" y1="324.5" x2="171.31" y2="326.5" stroke="#1a1a1a" stroke-width="0.8" />
<line x1="177.45" y1="324.5" x2="177.45" y2="326.5" stroke="#1a1a1a" stroke-width="0.8" />
<line x1="183.59" y1="324.5" x2="183.59" y2="326.5" stroke="#1a1a1a" stroke-width="0.8" />
<line x1="189.72" y1="324.5" x2="189.72" y2="326.5" stroke="#1a1a1a" stroke-width="0.8" />
<line x1="195.86" y1="324.5" x2="195.86" y2="326.5" stroke="#1a1a1a" stroke-width="0.8" />
<line x1="202" y1="324.5" x2="202" y2="326.5" stroke="#1a1a1a" stroke-width="0.8" />
<text transform="translate(36.3 339.6) scale(1 1.13)" font-family="Liberation Sans" font-size="9" font-weight="bold" text-anchor="middle" fill="#1a1a1a" >0</text>
<text transform="translate(79.3 339.6) scale(1 1.13)" font-family="Liberation Sans" font-size="9" font-weight="bold" text-anchor="middle" fill="#1a1a1a" >168</text>
<text transform="translate(122.3 339.6) scale(1 1.13)" font-family="Liberation Sans" font-size="9" font-weight="bold" text-anchor="middle" fill="#1a1a1a" >336</text>
<text transform="translate(165.3 339.6) scale(1 1.13)" font-family="Liberation Sans" font-size="9" font-weight="bold" text-anchor="middle" fill="#1a1a1a" >504</text>
<text transform="translate(208.2 339.6) scale(1 1.13)" font-family="Liberation Sans" font-size="9" font-weight="bold" text-anchor="middle" fill="#1a1a1a" >672</text>
<text transform="translate(122.2 351.4) scale(1 1.13)" font-family="Liberation Sans" font-size="9.6" font-weight="bold" text-anchor="middle" fill="#1a1a1a" >Time (h)</text>
<text x="0" y="0" transform="translate(13.3,266) rotate(-90)" font-family="Liberation Sans" font-weight="bold" font-size="10.5" text-anchor="middle" fill="#1a1a1a" textLength="102.5" lengthAdjust="spacingAndGlyphs">Concentration (ng/mL)</text>
<polyline points="36.6,252.7 38.5,256.4 43.1,258.9 55.1,261.8 79.6,265.6 122.3,272 165.1,278.1 208,284.2" fill="none" stroke="#3ee026" stroke-width="1" stroke-linejoin="round" stroke-opacity="1"/>
<polyline points="36.6,245.4 38.5,249.1 43.1,251.6 55.1,254.2 79.6,257.8 122.3,264.1 165.1,270 208,276.3" fill="none" stroke="#0000ff" stroke-width="1" stroke-linejoin="round" stroke-opacity="0.85"/>
<polyline points="36.6,234 38.5,237.4 43.1,240.3 55.1,243.7 79.6,250.5 122.3,258.3 165.1,265.7 208,272.2" fill="none" stroke="#bf33ff" stroke-width="1" stroke-linejoin="round" stroke-opacity="0.85"/>
<polyline points="36.6,236 38.5,239.6 43.1,242.5 55.1,246.2 79.6,251 122.3,257.8 165.1,264.9 208,270" fill="none" stroke="#ff1a1a" stroke-width="1" stroke-linejoin="round" stroke-opacity="0.85"/>
<circle cx="36.6" cy="252.7" r="2.4" fill="#3ee026"/>
<circle cx="38.5" cy="256.4" r="2.4" fill="#3ee026"/>
<circle cx="43.1" cy="258.9" r="2.4" fill="#3ee026"/>
<circle cx="55.1" cy="261.8" r="2.4" fill="#3ee026"/>
<circle cx="79.6" cy="265.6" r="2.4" fill="#3ee026"/>
<circle cx="122.3" cy="272" r="2.4" fill="#3ee026"/>
<circle cx="165.1" cy="278.1" r="2.4" fill="#3ee026"/>
<circle cx="208" cy="284.2" r="2.4" fill="#3ee026"/>
<polygon points="36.6,242.64 39.36,247.44 33.84,247.44" fill="#0000ff"/>
<polygon points="38.5,246.34 41.26,251.14 35.74,251.14" fill="#0000ff"/>
<polygon points="43.1,248.84 45.86,253.64 40.34,253.64" fill="#0000ff"/>
<polygon points="55.1,251.44 57.86,256.24 52.34,256.24" fill="#0000ff"/>
<polygon points="79.6,255.04 82.36,259.84 76.84,259.84" fill="#0000ff"/>
<polygon points="122.3,261.34 125.06,266.14 119.54,266.14" fill="#0000ff"/>
<polygon points="165.1,267.24 167.86,272.04 162.34,272.04" fill="#0000ff"/>
<polygon points="208,273.54 210.76,278.34 205.24,278.34" fill="#0000ff"/>
<rect x="34.2" y="231.6" width="4.8" height="4.8" fill="#bf33ff"/>
<rect x="36.1" y="235" width="4.8" height="4.8" fill="#bf33ff"/>
<rect x="40.7" y="237.9" width="4.8" height="4.8" fill="#bf33ff"/>
<rect x="52.7" y="241.3" width="4.8" height="4.8" fill="#bf33ff"/>
<rect x="77.2" y="248.1" width="4.8" height="4.8" fill="#bf33ff"/>
<rect x="119.9" y="255.9" width="4.8" height="4.8" fill="#bf33ff"/>
<rect x="162.7" y="263.3" width="4.8" height="4.8" fill="#bf33ff"/>
<rect x="205.6" y="269.8" width="4.8" height="4.8" fill="#bf33ff"/>
<polygon points="36.6,238.76 39.36,233.96 33.84,233.96" fill="#ff1a1a"/>
<polygon points="38.5,242.36 41.26,237.56 35.74,237.56" fill="#ff1a1a"/>
<polygon points="43.1,245.26 45.86,240.46 40.34,240.46" fill="#ff1a1a"/>
<polygon points="55.1,248.96 57.86,244.16 52.34,244.16" fill="#ff1a1a"/>
<polygon points="79.6,253.76 82.36,248.96 76.84,248.96" fill="#ff1a1a"/>
<polygon points="122.3,260.56 125.06,255.76 119.54,255.76" fill="#ff1a1a"/>
<polygon points="165.1,267.66 167.86,262.86 162.34,262.86" fill="#ff1a1a"/>
<polygon points="208,272.76 210.76,267.96 205.24,267.96" fill="#ff1a1a"/>
<text x="351.9" y="196.2" font-family="Liberation Sans" font-size="10.7" font-weight="bold" text-anchor="middle" fill="#1a1a1a" >TAb</text>
<line x1="265.5" y1="208.89" x2="265.5" y2="324.2" stroke="#1a1a1a" stroke-width="1.3" />
<line x1="262" y1="323.6" x2="265.5" y2="323.6" stroke="#1a1a1a" stroke-width="1.3" />
<line x1="263.5" y1="312.14" x2="265.5" y2="312.14" stroke="#1a1a1a" stroke-width="0.7" />
<line x1="263.5" y1="305.44" x2="265.5" y2="305.44" stroke="#1a1a1a" stroke-width="0.7" />
<line x1="263.5" y1="300.68" x2="265.5" y2="300.68" stroke="#1a1a1a" stroke-width="0.7" />
<line x1="263.5" y1="296.99" x2="265.5" y2="296.99" stroke="#1a1a1a" stroke-width="0.7" />
<line x1="263.5" y1="293.98" x2="265.5" y2="293.98" stroke="#1a1a1a" stroke-width="0.7" />
<line x1="263.5" y1="291.43" x2="265.5" y2="291.43" stroke="#1a1a1a" stroke-width="0.7" />
<line x1="263.5" y1="289.22" x2="265.5" y2="289.22" stroke="#1a1a1a" stroke-width="0.7" />
<line x1="263.5" y1="287.27" x2="265.5" y2="287.27" stroke="#1a1a1a" stroke-width="0.7" />
<line x1="262" y1="285.53" x2="265.5" y2="285.53" stroke="#1a1a1a" stroke-width="1.3" />
<line x1="263.5" y1="274.07" x2="265.5" y2="274.07" stroke="#1a1a1a" stroke-width="0.7" />
<line x1="263.5" y1="267.37" x2="265.5" y2="267.37" stroke="#1a1a1a" stroke-width="0.7" />
<line x1="263.5" y1="262.61" x2="265.5" y2="262.61" stroke="#1a1a1a" stroke-width="0.7" />
<line x1="263.5" y1="258.92" x2="265.5" y2="258.92" stroke="#1a1a1a" stroke-width="0.7" />
<line x1="263.5" y1="255.91" x2="265.5" y2="255.91" stroke="#1a1a1a" stroke-width="0.7" />
<line x1="263.5" y1="253.36" x2="265.5" y2="253.36" stroke="#1a1a1a" stroke-width="0.7" />
<line x1="263.5" y1="251.15" x2="265.5" y2="251.15" stroke="#1a1a1a" stroke-width="0.7" />
<line x1="263.5" y1="249.2" x2="265.5" y2="249.2" stroke="#1a1a1a" stroke-width="0.7" />
<line x1="262" y1="247.46" x2="265.5" y2="247.46" stroke="#1a1a1a" stroke-width="1.3" />
<line x1="263.5" y1="236" x2="265.5" y2="236" stroke="#1a1a1a" stroke-width="0.7" />
<line x1="263.5" y1="229.3" x2="265.5" y2="229.3" stroke="#1a1a1a" stroke-width="0.7" />
<line x1="263.5" y1="224.54" x2="265.5" y2="224.54" stroke="#1a1a1a" stroke-width="0.7" />
<line x1="263.5" y1="220.85" x2="265.5" y2="220.85" stroke="#1a1a1a" stroke-width="0.7" />
<line x1="263.5" y1="217.84" x2="265.5" y2="217.84" stroke="#1a1a1a" stroke-width="0.7" />
<line x1="263.5" y1="215.29" x2="265.5" y2="215.29" stroke="#1a1a1a" stroke-width="0.7" />
<line x1="263.5" y1="213.08" x2="265.5" y2="213.08" stroke="#1a1a1a" stroke-width="0.7" />
<line x1="263.5" y1="211.13" x2="265.5" y2="211.13" stroke="#1a1a1a" stroke-width="0.7" />
<line x1="262" y1="209.39" x2="265.5" y2="209.39" stroke="#1a1a1a" stroke-width="1.3" />
<text transform="translate(261.2 327.2) scale(1 1.13)" font-family="Liberation Sans" font-weight="bold" font-size="9" text-anchor="end" fill="#1a1a1a">10<tspan font-size="6.2" dy="-2.5">4</tspan></text>
<text transform="translate(261.2 289.13) scale(1 1.13)" font-family="Liberation Sans" font-weight="bold" font-size="9" text-anchor="end" fill="#1a1a1a">10<tspan font-size="6.2" dy="-2.5">5</tspan></text>
<text transform="translate(261.2 251.06) scale(1 1.13)" font-family="Liberation Sans" font-weight="bold" font-size="9" text-anchor="end" fill="#1a1a1a">10<tspan font-size="6.2" dy="-2.5">6</tspan></text>
<text transform="translate(261.2 212.99) scale(1 1.13)" font-family="Liberation Sans" font-weight="bold" font-size="9" text-anchor="end" fill="#1a1a1a">10<tspan font-size="6.2" dy="-2.5">7</tspan></text>
<line x1="264.8" y1="323.5" x2="437.4" y2="323.5" stroke="#1a1a1a" stroke-width="1.3" />
<line x1="265.4" y1="323.5" x2="265.4" y2="327" stroke="#1a1a1a" stroke-width="1.3" />
<line x1="308.3" y1="323.5" x2="308.3" y2="327" stroke="#1a1a1a" stroke-width="1.3" />
<line x1="351.2" y1="323.5" x2="351.2" y2="327" stroke="#1a1a1a" stroke-width="1.3" />
<line x1="394.1" y1="323.5" x2="394.1" y2="327" stroke="#1a1a1a" stroke-width="1.3" />
<line x1="437" y1="323.5" x2="437" y2="327" stroke="#1a1a1a" stroke-width="1.3" />
<line x1="271.53" y1="323.5" x2="271.53" y2="325.5" stroke="#1a1a1a" stroke-width="0.8" />
<line x1="277.66" y1="323.5" x2="277.66" y2="325.5" stroke="#1a1a1a" stroke-width="0.8" />
<line x1="283.79" y1="323.5" x2="283.79" y2="325.5" stroke="#1a1a1a" stroke-width="0.8" />
<line x1="289.92" y1="323.5" x2="289.92" y2="325.5" stroke="#1a1a1a" stroke-width="0.8" />
<line x1="296.05" y1="323.5" x2="296.05" y2="325.5" stroke="#1a1a1a" stroke-width="0.8" />
<line x1="302.18" y1="323.5" x2="302.18" y2="325.5" stroke="#1a1a1a" stroke-width="0.8" />
<line x1="314.44" y1="323.5" x2="314.44" y2="325.5" stroke="#1a1a1a" stroke-width="0.8" />
<line x1="320.57" y1="323.5" x2="320.57" y2="325.5" stroke="#1a1a1a" stroke-width="0.8" />
<line x1="326.7" y1="323.5" x2="326.7" y2="325.5" stroke="#1a1a1a" stroke-width="0.8" />
<line x1="332.83" y1="323.5" x2="332.83" y2="325.5" stroke="#1a1a1a" stroke-width="0.8" />
<line x1="338.96" y1="323.5" x2="338.96" y2="325.5" stroke="#1a1a1a" stroke-width="0.8" />
<line x1="345.09" y1="323.5" x2="345.09" y2="325.5" stroke="#1a1a1a" stroke-width="0.8" />
<line x1="357.35" y1="323.5" x2="357.35" y2="325.5" stroke="#1a1a1a" stroke-width="0.8" />
<line x1="363.48" y1="323.5" x2="363.48" y2="325.5" stroke="#1a1a1a" stroke-width="0.8" />
<line x1="369.61" y1="323.5" x2="369.61" y2="325.5" stroke="#1a1a1a" stroke-width="0.8" />
<line x1="375.74" y1="323.5" x2="375.74" y2="325.5" stroke="#1a1a1a" stroke-width="0.8" />
<line x1="381.87" y1="323.5" x2="381.87" y2="325.5" stroke="#1a1a1a" stroke-width="0.8" />
<line x1="388" y1="323.5" x2="388" y2="325.5" stroke="#1a1a1a" stroke-width="0.8" />
<line x1="400.26" y1="323.5" x2="400.26" y2="325.5" stroke="#1a1a1a" stroke-width="0.8" />
<line x1="406.39" y1="323.5" x2="406.39" y2="325.5" stroke="#1a1a1a" stroke-width="0.8" />
<line x1="412.52" y1="323.5" x2="412.52" y2="325.5" stroke="#1a1a1a" stroke-width="0.8" />
<line x1="418.65" y1="323.5" x2="418.65" y2="325.5" stroke="#1a1a1a" stroke-width="0.8" />
<line x1="424.78" y1="323.5" x2="424.78" y2="325.5" stroke="#1a1a1a" stroke-width="0.8" />
<line x1="430.91" y1="323.5" x2="430.91" y2="325.5" stroke="#1a1a1a" stroke-width="0.8" />
<text transform="translate(265.4 337.8) scale(1 1.13)" font-family="Liberation Sans" font-size="9" font-weight="bold" text-anchor="middle" fill="#1a1a1a" >0</text>
<text transform="translate(308.3 337.8) scale(1 1.13)" font-family="Liberation Sans" font-size="9" font-weight="bold" text-anchor="middle" fill="#1a1a1a" >168</text>
<text transform="translate(351.2 337.8) scale(1 1.13)" font-family="Liberation Sans" font-size="9" font-weight="bold" text-anchor="middle" fill="#1a1a1a" >336</text>
<text transform="translate(394.1 337.8) scale(1 1.13)" font-family="Liberation Sans" font-size="9" font-weight="bold" text-anchor="middle" fill="#1a1a1a" >504</text>
<text transform="translate(437 337.8) scale(1 1.13)" font-family="Liberation Sans" font-size="9" font-weight="bold" text-anchor="middle" fill="#1a1a1a" >672</text>
<text transform="translate(351.6 350.8) scale(1 1.13)" font-family="Liberation Sans" font-size="9.6" font-weight="bold" text-anchor="middle" fill="#1a1a1a" >Time (h)</text>
<text x="0" y="0" transform="translate(242.8,266.7) rotate(-90)" font-family="Liberation Sans" font-weight="bold" font-size="10.5" text-anchor="middle" fill="#1a1a1a" textLength="105" lengthAdjust="spacingAndGlyphs">Concentration (ng/mL)</text>
<polyline points="265.6,282.7 266.8,287.8 267.9,290.7 271.9,295.1 283.8,299.2 308.4,303.8 351.2,310.2 394.1,313.6 437,318.9" fill="none" stroke="#3ee026" stroke-width="1" stroke-linejoin="round" stroke-opacity="1"/>
<polyline points="265.6,266.6 266.8,270.3 271.9,274.6 283.8,280.2 308.4,283.7 351.2,291.3 394.1,296.4 437,302.8" fill="none" stroke="#0000ff" stroke-width="1" stroke-linejoin="round" stroke-opacity="0.85"/>
<polyline points="265.6,241.1 266.8,245.5 267.9,250.5 271.9,257.1 283.8,263.2 308.4,267.3 351.2,276.5 394.1,280.6 437,285.5" fill="none" stroke="#ff1a1a" stroke-width="1" stroke-linejoin="round" stroke-opacity="0.8"/>
<polyline points="265.6,238.9 266.8,244 267.9,247.6 271.9,253.5 283.8,259.7 308.4,263.7 351.2,270.7 394.1,272.5 437,279.1" fill="none" stroke="#bf33ff" stroke-width="1" stroke-linejoin="round" stroke-opacity="0.85"/>
<line x1="394.1" y1="268.4" x2="394.1" y2="272.5" stroke="#bf33ff" stroke-width="0.8" />
<line x1="391.9" y1="268.4" x2="396.3" y2="268.4" stroke="#bf33ff" stroke-width="0.8" />
<line x1="437" y1="275.6" x2="437" y2="279.1" stroke="#bf33ff" stroke-width="0.8" />
<line x1="434.8" y1="275.6" x2="439.2" y2="275.6" stroke="#bf33ff" stroke-width="0.8" />
<line x1="308.4" y1="259.5" x2="308.4" y2="263.7" stroke="#bf33ff" stroke-width="0.8" />
<line x1="306.2" y1="259.5" x2="310.6" y2="259.5" stroke="#bf33ff" stroke-width="0.8" />
<line x1="265.6" y1="261.5" x2="265.6" y2="266.6" stroke="#0000ff" stroke-width="0.8" />
<line x1="263.4" y1="261.5" x2="267.8" y2="261.5" stroke="#0000ff" stroke-width="0.8" />
<line x1="351.2" y1="287.5" x2="351.2" y2="291.3" stroke="#0000ff" stroke-width="0.8" />
<line x1="349" y1="287.5" x2="353.4" y2="287.5" stroke="#0000ff" stroke-width="0.8" />
<line x1="394.1" y1="293.6" x2="394.1" y2="296.4" stroke="#0000ff" stroke-width="0.8" />
<line x1="391.9" y1="293.6" x2="396.3" y2="293.6" stroke="#0000ff" stroke-width="0.8" />
<line x1="437" y1="299.5" x2="437" y2="302.8" stroke="#0000ff" stroke-width="0.8" />
<line x1="434.8" y1="299.5" x2="439.2" y2="299.5" stroke="#0000ff" stroke-width="0.8" />
<line x1="283.8" y1="277.5" x2="283.8" y2="280.2" stroke="#0000ff" stroke-width="0.8" />
<line x1="281.6" y1="277.5" x2="286" y2="277.5" stroke="#0000ff" stroke-width="0.8" />
<line x1="271.9" y1="272" x2="271.9" y2="274.6" stroke="#0000ff" stroke-width="0.8" />
<line x1="269.7" y1="272" x2="274.1" y2="272" stroke="#0000ff" stroke-width="0.8" />
<line x1="351.2" y1="307.1" x2="351.2" y2="310.2" stroke="#3ee026" stroke-width="0.8" />
<line x1="349" y1="307.1" x2="353.4" y2="307.1" stroke="#3ee026" stroke-width="0.8" />
<line x1="394.1" y1="308.5" x2="394.1" y2="313.6" stroke="#3ee026" stroke-width="0.8" />
<line x1="391.9" y1="308.5" x2="396.3" y2="308.5" stroke="#3ee026" stroke-width="0.8" />
<line x1="437" y1="314.8" x2="437" y2="318.9" stroke="#3ee026" stroke-width="0.8" />
<line x1="434.8" y1="314.8" x2="439.2" y2="314.8" stroke="#3ee026" stroke-width="0.8" />
<line x1="283.8" y1="296" x2="283.8" y2="299.2" stroke="#3ee026" stroke-width="0.8" />
<line x1="281.6" y1="296" x2="286" y2="296" stroke="#3ee026" stroke-width="0.8" />
<line x1="308.4" y1="300.5" x2="308.4" y2="303.8" stroke="#3ee026" stroke-width="0.8" />
<line x1="306.2" y1="300.5" x2="310.6" y2="300.5" stroke="#3ee026" stroke-width="0.8" />
<line x1="351.2" y1="273" x2="351.2" y2="276.5" stroke="#ff1a1a" stroke-width="0.8" />
<line x1="349" y1="273" x2="353.4" y2="273" stroke="#ff1a1a" stroke-width="0.8" />
<circle cx="265.6" cy="282.7" r="2.4" fill="#3ee026"/>
<circle cx="266.8" cy="287.8" r="2.4" fill="#3ee026"/>
<circle cx="267.9" cy="290.7" r="2.4" fill="#3ee026"/>
<circle cx="271.9" cy="295.1" r="2.4" fill="#3ee026"/>
<circle cx="283.8" cy="299.2" r="2.4" fill="#3ee026"/>
<circle cx="308.4" cy="303.8" r="2.4" fill="#3ee026"/>
<circle cx="351.2" cy="310.2" r="2.4" fill="#3ee026"/>
<circle cx="394.1" cy="313.6" r="2.4" fill="#3ee026"/>
<circle cx="437" cy="318.9" r="2.4" fill="#3ee026"/>
<polygon points="265.6,263.84 268.36,268.64 262.84,268.64" fill="#0000ff"/>
<polygon points="266.8,267.54 269.56,272.34 264.04,272.34" fill="#0000ff"/>
<polygon points="271.9,271.84 274.66,276.64 269.14,276.64" fill="#0000ff"/>
<polygon points="283.8,277.44 286.56,282.24 281.04,282.24" fill="#0000ff"/>
<polygon points="308.4,280.94 311.16,285.74 305.64,285.74" fill="#0000ff"/>
<polygon points="351.2,288.54 353.96,293.34 348.44,293.34" fill="#0000ff"/>
<polygon points="394.1,293.64 396.86,298.44 391.34,298.44" fill="#0000ff"/>
<polygon points="437,300.04 439.76,304.84 434.24,304.84" fill="#0000ff"/>
<polygon points="265.6,243.86 268.36,239.06 262.84,239.06" fill="#ff1a1a"/>
<polygon points="266.8,248.26 269.56,243.46 264.04,243.46" fill="#ff1a1a"/>
<polygon points="267.9,253.26 270.66,248.46 265.14,248.46" fill="#ff1a1a"/>
<polygon points="271.9,259.86 274.66,255.06 269.14,255.06" fill="#ff1a1a"/>
<polygon points="283.8,265.96 286.56,261.16 281.04,261.16" fill="#ff1a1a"/>
<polygon points="308.4,270.06 311.16,265.26 305.64,265.26" fill="#ff1a1a"/>
<polygon points="351.2,279.26 353.96,274.46 348.44,274.46" fill="#ff1a1a"/>
<polygon points="394.1,283.36 396.86,278.56 391.34,278.56" fill="#ff1a1a"/>
<polygon points="437,288.26 439.76,283.46 434.24,283.46" fill="#ff1a1a"/>
<rect x="263.2" y="236.5" width="4.8" height="4.8" fill="#bf33ff"/>
<rect x="264.4" y="241.6" width="4.8" height="4.8" fill="#bf33ff"/>
<rect x="265.5" y="245.2" width="4.8" height="4.8" fill="#bf33ff"/>
<rect x="269.5" y="251.1" width="4.8" height="4.8" fill="#bf33ff"/>
<rect x="281.4" y="257.3" width="4.8" height="4.8" fill="#bf33ff"/>
<rect x="306" y="261.3" width="4.8" height="4.8" fill="#bf33ff"/>
<rect x="348.8" y="268.3" width="4.8" height="4.8" fill="#bf33ff"/>
<rect x="391.7" y="270.1" width="4.8" height="4.8" fill="#bf33ff"/>
<rect x="434.6" y="276.7" width="4.8" height="4.8" fill="#bf33ff"/>
<text x="583.8" y="202.2" font-family="Liberation Sans" font-size="10.7" font-weight="bold" text-anchor="middle" fill="#1a1a1a" >DM1</text>
<line x1="494.5" y1="207.9" x2="494.5" y2="323.2" stroke="#1a1a1a" stroke-width="1.3" />
<line x1="491" y1="322.6" x2="494.5" y2="322.6" stroke="#1a1a1a" stroke-width="1.3" />
<line x1="492.5" y1="305.41" x2="494.5" y2="305.41" stroke="#1a1a1a" stroke-width="0.7" />
<line x1="492.5" y1="295.36" x2="494.5" y2="295.36" stroke="#1a1a1a" stroke-width="0.7" />
<line x1="492.5" y1="288.22" x2="494.5" y2="288.22" stroke="#1a1a1a" stroke-width="0.7" />
<line x1="492.5" y1="282.69" x2="494.5" y2="282.69" stroke="#1a1a1a" stroke-width="0.7" />
<line x1="492.5" y1="278.17" x2="494.5" y2="278.17" stroke="#1a1a1a" stroke-width="0.7" />
<line x1="492.5" y1="274.34" x2="494.5" y2="274.34" stroke="#1a1a1a" stroke-width="0.7" />
<line x1="492.5" y1="271.03" x2="494.5" y2="271.03" stroke="#1a1a1a" stroke-width="0.7" />
<line x1="492.5" y1="268.11" x2="494.5" y2="268.11" stroke="#1a1a1a" stroke-width="0.7" />
<line x1="491" y1="265.5" x2="494.5" y2="265.5" stroke="#1a1a1a" stroke-width="1.3" />
<line x1="492.5" y1="248.31" x2="494.5" y2="248.31" stroke="#1a1a1a" stroke-width="0.7" />
<line x1="492.5" y1="238.26" x2="494.5" y2="238.26" stroke="#1a1a1a" stroke-width="0.7" />
<line x1="492.5" y1="231.12" x2="494.5" y2="231.12" stroke="#1a1a1a" stroke-width="0.7" />
<line x1="492.5" y1="225.59" x2="494.5" y2="225.59" stroke="#1a1a1a" stroke-width="0.7" />
<line x1="492.5" y1="221.07" x2="494.5" y2="221.07" stroke="#1a1a1a" stroke-width="0.7" />
<line x1="492.5" y1="217.24" x2="494.5" y2="217.24" stroke="#1a1a1a" stroke-width="0.7" />
<line x1="492.5" y1="213.93" x2="494.5" y2="213.93" stroke="#1a1a1a" stroke-width="0.7" />
<line x1="492.5" y1="211.01" x2="494.5" y2="211.01" stroke="#1a1a1a" stroke-width="0.7" />
<line x1="491" y1="208.4" x2="494.5" y2="208.4" stroke="#1a1a1a" stroke-width="1.3" />
<text transform="translate(488.5 326.3) scale(1 1.13)" font-family="Liberation Sans" font-size="9" font-weight="bold" text-anchor="end" fill="#1a1a1a" >0.1</text>
<text transform="translate(488.5 269.2) scale(1 1.13)" font-family="Liberation Sans" font-size="9" font-weight="bold" text-anchor="end" fill="#1a1a1a" >1</text>
<text transform="translate(488.5 212.1) scale(1 1.13)" font-family="Liberation Sans" font-size="9" font-weight="bold" text-anchor="end" fill="#1a1a1a" >10</text>
<line x1="493.4" y1="322.5" x2="666.4" y2="322.5" stroke="#1a1a1a" stroke-width="1.3" />
<line x1="494" y1="322.5" x2="494" y2="326" stroke="#1a1a1a" stroke-width="1.3" />
<line x1="518.58" y1="322.5" x2="518.58" y2="326" stroke="#1a1a1a" stroke-width="1.3" />
<line x1="543.16" y1="322.5" x2="543.16" y2="326" stroke="#1a1a1a" stroke-width="1.3" />
<line x1="567.74" y1="322.5" x2="567.74" y2="326" stroke="#1a1a1a" stroke-width="1.3" />
<line x1="592.32" y1="322.5" x2="592.32" y2="326" stroke="#1a1a1a" stroke-width="1.3" />
<line x1="616.9" y1="322.5" x2="616.9" y2="326" stroke="#1a1a1a" stroke-width="1.3" />
<line x1="641.48" y1="322.5" x2="641.48" y2="326" stroke="#1a1a1a" stroke-width="1.3" />
<line x1="666.06" y1="322.5" x2="666.06" y2="326" stroke="#1a1a1a" stroke-width="1.3" />
<line x1="506.29" y1="322.5" x2="506.29" y2="324.5" stroke="#1a1a1a" stroke-width="0.8" />
<line x1="530.87" y1="322.5" x2="530.87" y2="324.5" stroke="#1a1a1a" stroke-width="0.8" />
<line x1="555.45" y1="322.5" x2="555.45" y2="324.5" stroke="#1a1a1a" stroke-width="0.8" />
<line x1="580.03" y1="322.5" x2="580.03" y2="324.5" stroke="#1a1a1a" stroke-width="0.8" />
<line x1="604.61" y1="322.5" x2="604.61" y2="324.5" stroke="#1a1a1a" stroke-width="0.8" />
<line x1="629.19" y1="322.5" x2="629.19" y2="324.5" stroke="#1a1a1a" stroke-width="0.8" />
<line x1="653.77" y1="322.5" x2="653.77" y2="324.5" stroke="#1a1a1a" stroke-width="0.8" />
<text transform="translate(494 336.8) scale(1 1.13)" font-family="Liberation Sans" font-size="9" font-weight="bold" text-anchor="middle" fill="#1a1a1a" >0</text>
<text transform="translate(518.58 336.8) scale(1 1.13)" font-family="Liberation Sans" font-size="9" font-weight="bold" text-anchor="middle" fill="#1a1a1a" >24</text>
<text transform="translate(543.16 336.8) scale(1 1.13)" font-family="Liberation Sans" font-size="9" font-weight="bold" text-anchor="middle" fill="#1a1a1a" >48</text>
<text transform="translate(567.74 336.8) scale(1 1.13)" font-family="Liberation Sans" font-size="9" font-weight="bold" text-anchor="middle" fill="#1a1a1a" >72</text>
<text transform="translate(592.32 336.8) scale(1 1.13)" font-family="Liberation Sans" font-size="9" font-weight="bold" text-anchor="middle" fill="#1a1a1a" >96</text>
<text transform="translate(616.9 336.8) scale(1 1.13)" font-family="Liberation Sans" font-size="9" font-weight="bold" text-anchor="middle" fill="#1a1a1a" >120</text>
<text transform="translate(641.48 336.8) scale(1 1.13)" font-family="Liberation Sans" font-size="9" font-weight="bold" text-anchor="middle" fill="#1a1a1a" >144</text>
<text transform="translate(666.06 336.8) scale(1 1.13)" font-family="Liberation Sans" font-size="9" font-weight="bold" text-anchor="middle" fill="#1a1a1a" >168</text>
<text transform="translate(579.8 351) scale(1 1.13)" font-family="Liberation Sans" font-size="9.6" font-weight="bold" text-anchor="middle" fill="#1a1a1a" >Time (h)</text>
<text x="0" y="0" transform="translate(471.4,264.4) rotate(-90)" font-family="Liberation Sans" font-weight="bold" font-size="10.5" text-anchor="middle" fill="#1a1a1a" textLength="102.2" lengthAdjust="spacingAndGlyphs">Concentration (ng/mL)</text>
<line x1="494" y1="282.4" x2="664.4" y2="282.4" stroke="#222" stroke-width="1" stroke-dasharray="1.2 2.2"/>
<polyline points="494.2,248.7 495,261.4 497.6,275.3" fill="none" stroke="#ff1a1a" stroke-width="1" stroke-linejoin="round" stroke-opacity="1"/>
<polyline points="494.2,239.5 495.5,250.4 498,269.7 502.2,274.5 518.7,273.8 567.3,280.4" fill="none" stroke="#bf33ff" stroke-width="1" stroke-linejoin="round" stroke-opacity="1"/>
<line x1="498" y1="264.3" x2="498" y2="269.7" stroke="#bf33ff" stroke-width="0.8" />
<line x1="495.8" y1="264.3" x2="500.2" y2="264.3" stroke="#bf33ff" stroke-width="0.8" />
<line x1="502.2" y1="267.2" x2="502.2" y2="274.5" stroke="#bf33ff" stroke-width="0.8" />
<line x1="500" y1="267.2" x2="504.4" y2="267.2" stroke="#bf33ff" stroke-width="0.8" />
<line x1="518.7" y1="269.1" x2="518.7" y2="273.8" stroke="#bf33ff" stroke-width="0.8" />
<line x1="516.5" y1="269.1" x2="520.9" y2="269.1" stroke="#bf33ff" stroke-width="0.8" />
<line x1="494.2" y1="235" x2="494.2" y2="239.5" stroke="#bf33ff" stroke-width="0.8" />
<line x1="492" y1="235" x2="496.4" y2="235" stroke="#bf33ff" stroke-width="0.8" />
<line x1="495.5" y1="246" x2="495.5" y2="250.4" stroke="#bf33ff" stroke-width="0.8" />
<line x1="493.3" y1="246" x2="497.7" y2="246" stroke="#bf33ff" stroke-width="0.8" />
<line x1="495" y1="256" x2="495" y2="261.4" stroke="#ff1a1a" stroke-width="0.8" />
<line x1="492.8" y1="256" x2="497.2" y2="256" stroke="#ff1a1a" stroke-width="0.8" />
<polygon points="494,273.52 496.88,278.52 491.12,278.52" fill="#0000ff"/>
<polygon points="494.2,251.57 497.07,246.57 491.32,246.57" fill="#ff1a1a"/>
<polygon points="495,264.27 497.88,259.27 492.12,259.27" fill="#ff1a1a"/>
<polygon points="497.6,278.18 500.48,273.18 494.73,273.18" fill="#ff1a1a"/>
<rect x="491.7" y="237" width="5" height="5" fill="#bf33ff"/>
<rect x="493" y="247.9" width="5" height="5" fill="#bf33ff"/>
<rect x="495.5" y="267.2" width="5" height="5" fill="#bf33ff"/>
<rect x="499.7" y="272" width="5" height="5" fill="#bf33ff"/>
<rect x="516.2" y="271.3" width="5" height="5" fill="#bf33ff"/>
<rect x="564.8" y="277.9" width="5" height="5" fill="#bf33ff"/>
<line x1="588" y1="213.4" x2="600" y2="213.4" stroke="#3ee026" stroke-width="1" />
<circle cx="594" cy="213.4" r="2.5" fill="#3ee026"/>
<text x="606" y="216.86" font-family="Liberation Sans" font-size="9.6" font-weight="normal" text-anchor="start" fill="#222" >GQ1001 6 mg/kg</text>
<line x1="588" y1="224.7" x2="600" y2="224.7" stroke="#0000ff" stroke-width="1" />
<polygon points="594,221.82 596.88,226.82 591.12,226.82" fill="#0000ff"/>
<text x="606" y="228.16" font-family="Liberation Sans" font-size="9.6" font-weight="normal" text-anchor="start" fill="#222" >GQ1001 20 mg/kg</text>
<line x1="588" y1="236.7" x2="600" y2="236.7" stroke="#ff1a1a" stroke-width="1" />
<polygon points="594,239.57 596.88,234.57 591.12,234.57" fill="#ff1a1a"/>
<text x="606" y="240.16" font-family="Liberation Sans" font-size="9.6" font-weight="normal" text-anchor="start" fill="#222" >GQ1001 60 mg/kg</text>
<line x1="588" y1="248.1" x2="600" y2="248.1" stroke="#bf33ff" stroke-width="1" />
<rect x="591.5" y="245.6" width="5" height="5" fill="#bf33ff"/>
<text x="606" y="251.56" font-family="Liberation Sans" font-size="9.6" font-weight="normal" text-anchor="start" fill="#222" >GQ1001 90 mg/kg</text>
<line x1="1" y1="383" x2="342.6" y2="383" stroke="#666" stroke-width="2" />
<line x1="1" y1="415.3" x2="342.6" y2="415.3" stroke="#333" stroke-width="1.5" />
<line x1="1" y1="461.8" x2="342.6" y2="461.8" stroke="#444" stroke-width="1.6" />
<text x="37.9" y="395.8" font-family="Liberation Serif" font-size="11" font-weight="bold" text-anchor="middle" fill="#111" >Sex</text>
<text x="142.1" y="395.8" font-family="Liberation Serif" font-size="11" font-weight="bold" text-anchor="middle" fill="#111" >GQ1001 60 mg/kg</text>
<text x="274.4" y="395.8" font-family="Liberation Serif" font-size="11" font-weight="bold" text-anchor="middle" fill="#111" >T-DM1 60 mg/kg*</text>
<text x="101.1" y="410.9" font-family="Liberation Serif" font-size="11" font-weight="bold" text-anchor="middle" fill="#111" >Mean</text>
<text x="153.3" y="410.9" font-family="Liberation Serif" font-size="11" font-weight="bold" text-anchor="middle" fill="#111" >SD</text>
<text x="194" y="410.9" font-family="Liberation Serif" font-size="11" font-weight="bold" text-anchor="middle" fill="#111" >n</text>
<text x="234.9" y="410.9" font-family="Liberation Serif" font-size="11" font-weight="bold" text-anchor="middle" fill="#111" >Mean</text>
<text x="283.5" y="410.9" font-family="Liberation Serif" font-size="11" font-weight="bold" text-anchor="middle" fill="#111" >SD</text>
<text x="325" y="410.9" font-family="Liberation Serif" font-size="11" font-weight="bold" text-anchor="middle" fill="#111" >n</text>
<text x="6.5" y="427.9" font-family="Liberation Serif" font-size="11" font-weight="bold" fill="#111">C<tspan font-size="7" dy="0.5">max</tspan><tspan dy="-0.5"> (ng/mL) of DM1 in rat</tspan></text>
<text x="17.4" y="443.1" font-family="Liberation Serif" font-size="11" font-weight="normal" text-anchor="start" fill="#111" >Male</text>
<text x="101.4" y="443.1" font-family="Liberation Serif" font-size="11" font-weight="normal" text-anchor="middle" fill="#111" >1.66</text>
<text x="152.7" y="443.1" font-family="Liberation Serif" font-size="11" font-weight="normal" text-anchor="middle" fill="#111" >0.151</text>
<text x="194" y="443.1" font-family="Liberation Serif" font-size="11" font-weight="normal" text-anchor="middle" fill="#111" >3</text>
<text x="234.9" y="443.1" font-family="Liberation Serif" font-size="11" font-weight="normal" text-anchor="middle" fill="#111" >124</text>
<text x="283.5" y="443.1" font-family="Liberation Serif" font-size="11" font-weight="normal" text-anchor="middle" fill="#111" >12.9</text>
<text x="325" y="443.1" font-family="Liberation Serif" font-size="11" font-weight="normal" text-anchor="middle" fill="#111" >10</text>
<text x="17.4" y="458.4" font-family="Liberation Serif" font-size="11" font-weight="normal" text-anchor="start" fill="#111" >Female</text>
<text x="101.4" y="458.4" font-family="Liberation Serif" font-size="11" font-weight="normal" text-anchor="middle" fill="#111" >2.02</text>
<text x="152.7" y="458.4" font-family="Liberation Serif" font-size="11" font-weight="normal" text-anchor="middle" fill="#111" >0.137</text>
<text x="194" y="458.4" font-family="Liberation Serif" font-size="11" font-weight="normal" text-anchor="middle" fill="#111" >3</text>
<text x="234.9" y="458.4" font-family="Liberation Serif" font-size="11" font-weight="normal" text-anchor="middle" fill="#111" >154</text>
<text x="283.5" y="458.4" font-family="Liberation Serif" font-size="11" font-weight="normal" text-anchor="middle" fill="#111" >13.9</text>
<text x="325" y="458.4" font-family="Liberation Serif" font-size="11" font-weight="normal" text-anchor="middle" fill="#111" >10</text>
<line x1="1" y1="502" x2="342.6" y2="502" stroke="#666" stroke-width="2" />
<line x1="1" y1="533" x2="342.6" y2="533" stroke="#333" stroke-width="1.5" />
<line x1="1" y1="627.4" x2="342.6" y2="627.4" stroke="#444" stroke-width="1.6" />
<text x="32.6" y="513.6" font-family="Liberation Serif" font-size="11" font-weight="bold" text-anchor="middle" fill="#111" >Sex</text>
<text x="145.7" y="513.6" font-family="Liberation Serif" font-size="11" font-weight="bold" text-anchor="middle" fill="#111" >GQ1001 30 mg/kg</text>
<text x="284.2" y="513.6" font-family="Liberation Serif" font-size="11" font-weight="bold" text-anchor="middle" fill="#111" >T-DM1 30 mg/kg**</text>
<text x="98.8" y="529.1" font-family="Liberation Serif" font-size="11" font-weight="bold" text-anchor="middle" fill="#111" >M<tspan dx="1.3">ean</tspan></text>
<text x="165.8" y="529.1" font-family="Liberation Serif" font-size="11" font-weight="bold" text-anchor="middle" fill="#111" >SD</text>
<text x="212.6" y="529.1" font-family="Liberation Serif" font-size="11" font-weight="bold" text-anchor="middle" fill="#111" >n</text>
<text x="248.3" y="529.1" font-family="Liberation Serif" font-size="11" font-weight="bold" text-anchor="middle" fill="#111" >Mean</text>
<text x="294.1" y="529.1" font-family="Liberation Serif" font-size="11" font-weight="bold" text-anchor="middle" fill="#111" >SD</text>
<text x="329" y="529.1" font-family="Liberation Serif" font-size="11" font-weight="bold" text-anchor="middle" fill="#111" >n</text>
<text x="6.5" y="545.9" font-family="Liberation Serif" font-size="11" font-weight="bold" fill="#111">C<tspan font-size="7" dy="0.5">max</tspan><tspan dy="-0.5"> (ng/mL) of DM1 in monkey</tspan></text>
<text x="6.5" y="592.9" font-family="Liberation Serif" font-size="11" font-weight="bold" text-anchor="start" fill="#111" >AUC (day*ng/mL) of DM1 in monkey</text>
<text x="17.4" y="561.8" font-family="Liberation Serif" font-size="11" font-weight="normal" text-anchor="start" fill="#111" >Male</text>
<text x="99" y="561.8" font-family="Liberation Serif" font-size="11" font-weight="normal" text-anchor="middle" fill="#111" >0.719</text>
<text x="166" y="561.8" font-family="Liberation Serif" font-size="11" font-weight="normal" text-anchor="middle" fill="#111" >0.0119</text>
<text x="212.6" y="561.8" font-family="Liberation Serif" font-size="11" font-weight="normal" text-anchor="middle" fill="#111" >5</text>
<text x="248.3" y="561.8" font-family="Liberation Serif" font-size="11" font-weight="normal" text-anchor="middle" fill="#111" >61.8</text>
<text x="294.1" y="561.8" font-family="Liberation Serif" font-size="11" font-weight="normal" text-anchor="middle" fill="#111" >0.755</text>
<text x="329" y="561.8" font-family="Liberation Serif" font-size="11" font-weight="normal" text-anchor="middle" fill="#111" >4</text>
<text x="17.4" y="577.1" font-family="Liberation Serif" font-size="11" font-weight="normal" text-anchor="start" fill="#111" >Female</text>
<text x="99" y="577.1" font-family="Liberation Serif" font-size="11" font-weight="normal" text-anchor="middle" fill="#111" >0.725</text>
<text x="166" y="577.1" font-family="Liberation Serif" font-size="11" font-weight="normal" text-anchor="middle" fill="#111" >0.0922</text>
<text x="212.6" y="577.1" font-family="Liberation Serif" font-size="11" font-weight="normal" text-anchor="middle" fill="#111" >5</text>
<text x="248.3" y="577.1" font-family="Liberation Serif" font-size="11" font-weight="normal" text-anchor="middle" fill="#111" >66.0</text>
<text x="294.1" y="577.1" font-family="Liberation Serif" font-size="11" font-weight="normal" text-anchor="middle" fill="#111" >4.780</text>
<text x="329" y="577.1" font-family="Liberation Serif" font-size="11" font-weight="normal" text-anchor="middle" fill="#111" >4</text>
<text x="17.4" y="607.8" font-family="Liberation Serif" font-size="11" font-weight="normal" text-anchor="start" fill="#111" >Male</text>
<text x="99" y="607.8" font-family="Liberation Serif" font-size="11" font-weight="normal" text-anchor="middle" fill="#111" >0.0012542</text>
<text x="166" y="607.8" font-family="Liberation Serif" font-size="11" font-weight="normal" text-anchor="middle" fill="#111" >0.0001171</text>
<text x="212.6" y="607.8" font-family="Liberation Serif" font-size="11" font-weight="normal" text-anchor="middle" fill="#111" >5</text>
<text x="248.3" y="607.8" font-family="Liberation Serif" font-size="11" font-weight="normal" text-anchor="middle" fill="#111" >53.7</text>
<text x="294.1" y="607.8" font-family="Liberation Serif" font-size="11" font-weight="normal" text-anchor="middle" fill="#111" >14.20</text>
<text x="329" y="607.8" font-family="Liberation Serif" font-size="11" font-weight="normal" text-anchor="middle" fill="#111" >4</text>
<text x="17.4" y="623.2" font-family="Liberation Serif" font-size="11" font-weight="normal" text-anchor="start" fill="#111" >Female</text>
<text x="99" y="623.2" font-family="Liberation Serif" font-size="11" font-weight="normal" text-anchor="middle" fill="#111" >0.0010500</text>
<text x="166" y="623.2" font-family="Liberation Serif" font-size="11" font-weight="normal" text-anchor="middle" fill="#111" >0.0001121</text>
<text x="212.6" y="623.2" font-family="Liberation Serif" font-size="11" font-weight="normal" text-anchor="middle" fill="#111" >5</text>
<text x="248.3" y="623.2" font-family="Liberation Serif" font-size="11" font-weight="normal" text-anchor="middle" fill="#111" >65.1</text>
<text x="294.1" y="623.2" font-family="Liberation Serif" font-size="11" font-weight="normal" text-anchor="middle" fill="#111" >9.66</text>
<text x="329" y="623.2" font-family="Liberation Serif" font-size="11" font-weight="normal" text-anchor="middle" fill="#111" >4</text>
<line x1="4" y1="855.3" x2="678.5" y2="855.3" stroke="#555" stroke-width="1.8" />
<line x1="4" y1="883.6" x2="678.5" y2="883.6" stroke="#333" stroke-width="1.5" />
<line x1="4" y1="979.3" x2="678.5" y2="979.3" stroke="#444" stroke-width="1.8" />
<text x="10.5" y="872.3" font-family="Liberation Serif" font-size="15" font-weight="bold" text-anchor="start" fill="#111" >Study</text>
<text x="320.8" y="872.3" font-family="Liberation Serif" font-size="15" font-weight="bold" text-anchor="start" fill="#111" >Dosing schedule</text>
<text x="547.3" y="872.3" font-family="Liberation Serif" font-size="15" font-weight="bold" text-anchor="start" fill="#111" >Key conclusion</text>
<text x="10.5" y="897.8" font-family="Liberation Serif" font-size="15" font-weight="normal" text-anchor="start" fill="#111" >Single-dose toxicity in ICR mice</text>
<text x="320.8" y="897.8" font-family="Liberation Serif" font-size="15" font-weight="normal" text-anchor="start" fill="#111" >90, 165, 240, and 300 mg/kg; iv</text>
<text x="547.3" y="897.8" font-family="Liberation Serif" font-size="15" font-weight="normal" text-anchor="start" fill="#111" >MTD =300 mg/kg</text>
<text x="10.5" y="924.8" font-family="Liberation Serif" font-size="15" font-weight="normal" text-anchor="start" fill="#111" >Single-dose toxicity in SD rats</text>
<text x="320.8" y="924.8" font-family="Liberation Serif" font-size="15" font-weight="normal" text-anchor="start" fill="#111" >20, 60, and 120 mg/kg; iv</text>
<text x="547.3" y="924.8" font-family="Liberation Serif" font-size="15" font-weight="normal" text-anchor="start" fill="#111" >MTD &gt;120 mg/kg</text>
<text x="10.5" y="950.6" font-family="Liberation Serif" font-size="15" font-weight="normal" text-anchor="start" fill="#111" >Single-dose toxicity in cynomolgus monkeys</text>
<text x="320.8" y="950.6" font-family="Liberation Serif" font-size="15" font-weight="normal" text-anchor="start" fill="#111" >10, 30, and 45 mg/kg; iv</text>
<text x="547.3" y="950.6" font-family="Liberation Serif" font-size="15" font-weight="normal" text-anchor="start" fill="#111" >MTD &gt;45 mg/kg</text>
<text x="10.5" y="976.1" font-family="Liberation Serif" font-size="15" font-weight="normal" text-anchor="start" fill="#111" >Repeated-dose toxicity in cynomolgus monkeys</text>
<text x="320.8" y="976.1" font-family="Liberation Serif" font-size="15" font-weight="normal" text-anchor="start" fill="#111" >10, 30, and 45 mg/kg; iv, Q3W × 3</text>
<text x="547.3" y="976.1" font-family="Liberation Serif" font-size="15" font-weight="normal" text-anchor="start" fill="#111" >HNSTD =45 mg/kg</text>
<text x="544.6" y="371.3" font-family="Liberation Sans" font-size="11.9" font-weight="bold" text-anchor="middle" fill="#1a1a1a" >Free DM1 shedding ex-vivo</text>
<line x1="443.5" y1="377.2" x2="443.5" y2="501.3" stroke="#1a1a1a" stroke-width="1.3" />
<line x1="440" y1="377.7" x2="443.5" y2="377.7" stroke="#1a1a1a" stroke-width="1.3" />
<text transform="translate(439.8 381.6) scale(1 1.13)" font-family="Liberation Sans" font-size="10" font-weight="bold" text-anchor="end" fill="#1a1a1a" >3000</text>
<line x1="440" y1="418.7" x2="443.5" y2="418.7" stroke="#1a1a1a" stroke-width="1.3" />
<text transform="translate(439.8 422.6) scale(1 1.13)" font-family="Liberation Sans" font-size="10" font-weight="bold" text-anchor="end" fill="#1a1a1a" >2000</text>
<line x1="440" y1="459.7" x2="443.5" y2="459.7" stroke="#1a1a1a" stroke-width="1.3" />
<text transform="translate(439.8 463.6) scale(1 1.13)" font-family="Liberation Sans" font-size="10" font-weight="bold" text-anchor="end" fill="#1a1a1a" >1000</text>
<line x1="443.2" y1="500.5" x2="629" y2="500.5" stroke="#1a1a1a" stroke-width="1.3" />
<line x1="443.8" y1="500.5" x2="443.8" y2="504" stroke="#1a1a1a" stroke-width="1.3" />
<line x1="490" y1="500.5" x2="490" y2="504" stroke="#1a1a1a" stroke-width="1.3" />
<line x1="536.7" y1="500.5" x2="536.7" y2="504" stroke="#1a1a1a" stroke-width="1.3" />
<line x1="583" y1="500.5" x2="583" y2="504" stroke="#1a1a1a" stroke-width="1.3" />
<line x1="628.6" y1="500.5" x2="628.6" y2="504" stroke="#1a1a1a" stroke-width="1.3" />
<text transform="translate(443.8 516) scale(1 1.13)" font-family="Liberation Sans" font-size="10" font-weight="bold" text-anchor="middle" fill="#1a1a1a" >0</text>
<text transform="translate(490 516) scale(1 1.13)" font-family="Liberation Sans" font-size="10" font-weight="bold" text-anchor="middle" fill="#1a1a1a" >24</text>
<text transform="translate(536.7 516) scale(1 1.13)" font-family="Liberation Sans" font-size="10" font-weight="bold" text-anchor="middle" fill="#1a1a1a" >48</text>
<text transform="translate(583 516) scale(1 1.13)" font-family="Liberation Sans" font-size="10" font-weight="bold" text-anchor="middle" fill="#1a1a1a" >72</text>
<text transform="translate(628.6 516) scale(1 1.13)" font-family="Liberation Sans" font-size="10" font-weight="bold" text-anchor="middle" fill="#1a1a1a" >96</text>
<text transform="translate(536.5 531.3) scale(1 1.13)" font-family="Liberation Sans" font-size="10.4" font-weight="bold" text-anchor="middle" fill="#1a1a1a" >Time (h)</text>
<text x="0" y="0" transform="translate(414.8,438.2) rotate(-90)" font-family="Liberation Sans" font-weight="bold" font-size="10.8" text-anchor="middle" fill="#1a1a1a" textLength="167" lengthAdjust="spacingAndGlyphs">Concentration of free DM1 (ng/mL)</text>
<line x1="441.8" y1="496.6" x2="443.8" y2="496.6" stroke="#1a1a1a" stroke-width="0.8" />
<line x1="441.8" y1="492.5" x2="443.8" y2="492.5" stroke="#1a1a1a" stroke-width="0.8" />
<line x1="441.8" y1="488.4" x2="443.8" y2="488.4" stroke="#1a1a1a" stroke-width="0.8" />
<line x1="441.8" y1="484.3" x2="443.8" y2="484.3" stroke="#1a1a1a" stroke-width="0.8" />
<line x1="441.8" y1="480.2" x2="443.8" y2="480.2" stroke="#1a1a1a" stroke-width="0.8" />
<line x1="441.8" y1="476.1" x2="443.8" y2="476.1" stroke="#1a1a1a" stroke-width="0.8" />
<line x1="441.8" y1="472" x2="443.8" y2="472" stroke="#1a1a1a" stroke-width="0.8" />
<line x1="441.8" y1="467.9" x2="443.8" y2="467.9" stroke="#1a1a1a" stroke-width="0.8" />
<line x1="441.8" y1="463.8" x2="443.8" y2="463.8" stroke="#1a1a1a" stroke-width="0.8" />
<line x1="441.8" y1="455.6" x2="443.8" y2="455.6" stroke="#1a1a1a" stroke-width="0.8" />
<line x1="441.8" y1="451.5" x2="443.8" y2="451.5" stroke="#1a1a1a" stroke-width="0.8" />
<line x1="441.8" y1="447.4" x2="443.8" y2="447.4" stroke="#1a1a1a" stroke-width="0.8" />
<line x1="441.8" y1="443.3" x2="443.8" y2="443.3" stroke="#1a1a1a" stroke-width="0.8" />
<line x1="441.8" y1="439.2" x2="443.8" y2="439.2" stroke="#1a1a1a" stroke-width="0.8" />
<line x1="441.8" y1="435.1" x2="443.8" y2="435.1" stroke="#1a1a1a" stroke-width="0.8" />
<line x1="441.8" y1="431" x2="443.8" y2="431" stroke="#1a1a1a" stroke-width="0.8" />
<line x1="441.8" y1="426.9" x2="443.8" y2="426.9" stroke="#1a1a1a" stroke-width="0.8" />
<line x1="441.8" y1="422.8" x2="443.8" y2="422.8" stroke="#1a1a1a" stroke-width="0.8" />
<line x1="441.8" y1="414.6" x2="443.8" y2="414.6" stroke="#1a1a1a" stroke-width="0.8" />
<line x1="441.8" y1="410.5" x2="443.8" y2="410.5" stroke="#1a1a1a" stroke-width="0.8" />
<line x1="441.8" y1="406.4" x2="443.8" y2="406.4" stroke="#1a1a1a" stroke-width="0.8" />
<line x1="441.8" y1="402.3" x2="443.8" y2="402.3" stroke="#1a1a1a" stroke-width="0.8" />
<line x1="441.8" y1="398.2" x2="443.8" y2="398.2" stroke="#1a1a1a" stroke-width="0.8" />
<line x1="441.8" y1="394.1" x2="443.8" y2="394.1" stroke="#1a1a1a" stroke-width="0.8" />
<line x1="441.8" y1="390" x2="443.8" y2="390" stroke="#1a1a1a" stroke-width="0.8" />
<line x1="441.8" y1="385.9" x2="443.8" y2="385.9" stroke="#1a1a1a" stroke-width="0.8" />
<line x1="441.8" y1="381.8" x2="443.8" y2="381.8" stroke="#1a1a1a" stroke-width="0.8" />
<polyline points="443.8,496.9 490,447.9 536.7,420.2 583,417.2 628.6,423.6" fill="none" stroke="#ff1a1a" stroke-width="1.5" stroke-linejoin="round" stroke-opacity="1"/>
<polyline points="443.8,498.5 490,469.5 536.7,448.7 583,440.3 628.6,436.9" fill="none" stroke="#ff1a1a" stroke-width="1.5" stroke-linejoin="round" stroke-opacity="1"/>
<polyline points="443.8,500 490,500 536.7,500 583,500 628.6,500" fill="none" stroke="#0000ff" stroke-width="1.5" stroke-linejoin="round" stroke-opacity="1"/>
<circle cx="443.8" cy="496.9" r="2.3" fill="#ff1a1a"/>
<circle cx="490" cy="447.9" r="2.3" fill="#ff1a1a"/>
<circle cx="536.7" cy="420.2" r="2.3" fill="#ff1a1a"/>
<circle cx="583" cy="417.2" r="2.3" fill="#ff1a1a"/>
<circle cx="628.6" cy="423.6" r="2.3" fill="#ff1a1a"/>
<polygon points="443.8,495.9 446.4,498.5 443.8,501.1 441.2,498.5" fill="#ff1a1a"/>
<polygon points="490,466.9 492.6,469.5 490,472.1 487.4,469.5" fill="#ff1a1a"/>
<polygon points="536.7,446.1 539.3,448.7 536.7,451.3 534.1,448.7" fill="#ff1a1a"/>
<polygon points="583,437.7 585.6,440.3 583,442.9 580.4,440.3" fill="#ff1a1a"/>
<polygon points="628.6,434.3 631.2,436.9 628.6,439.5 626,436.9" fill="#ff1a1a"/>
<rect x="441.4" y="497.6" width="4.8" height="4.8" fill="#0000ff"/>
<rect x="487.6" y="497.6" width="4.8" height="4.8" fill="#0000ff"/>
<rect x="534.3" y="497.6" width="4.8" height="4.8" fill="#0000ff"/>
<rect x="580.6" y="497.6" width="4.8" height="4.8" fill="#0000ff"/>
<rect x="626.2" y="497.6" width="4.8" height="4.8" fill="#0000ff"/>
<line x1="467.4" y1="544.9" x2="480.4" y2="544.9" stroke="#0000ff" stroke-width="1" />
<circle cx="473.9" cy="544.9" r="2.3" fill="#0000ff"/>
<text x="488.5" y="548.57" font-family="Liberation Sans" font-size="10.2" font-weight="normal" text-anchor="start" fill="#222" >GQ1001-Formulation Buffer</text>
<line x1="467.4" y1="561.5" x2="480.4" y2="561.5" stroke="#0000ff" stroke-width="1" />
<rect x="471.6" y="559.2" width="4.6" height="4.6" fill="#0000ff"/>
<text x="488.5" y="565.17" font-family="Liberation Sans" font-size="10.2" font-weight="normal" text-anchor="start" fill="#222" >GQ1001-Rat plasma</text>
<line x1="467.4" y1="577.9" x2="480.4" y2="577.9" stroke="#0000ff" stroke-width="1" />
<polygon points="473.9,575.25 476.54,579.86 471.25,579.86" fill="#0000ff"/>
<text x="488.5" y="581.57" font-family="Liberation Sans" font-size="10.2" font-weight="normal" text-anchor="start" fill="#222" >GQ1001-Monkey plasma</text>
<line x1="467.4" y1="595" x2="480.4" y2="595" stroke="#0000ff" stroke-width="1" />
<polygon points="473.9,597.64 476.54,593.04 471.25,593.04" fill="#0000ff"/>
<text x="488.5" y="598.67" font-family="Liberation Sans" font-size="10.2" font-weight="normal" text-anchor="start" fill="#222" >GQ1001-Human plasma</text>
<line x1="467.4" y1="611.4" x2="480.4" y2="611.4" stroke="#ff1a1a" stroke-width="1" />
<polygon points="473.9,609.1 476.2,611.4 473.9,613.7 471.6,611.4" fill="#ff1a1a"/>
<text x="488.5" y="615.07" font-family="Liberation Sans" font-size="10.2" font-weight="normal" text-anchor="start" fill="#222" >T-DM1-Monkey plasma</text>
<line x1="467.4" y1="628" x2="480.4" y2="628" stroke="#ff1a1a" stroke-width="1" />
<circle cx="473.9" cy="628" r="2.3" fill="#ff1a1a"/>
<text x="488.5" y="631.67" font-family="Liberation Sans" font-size="10.2" font-weight="normal" text-anchor="start" fill="#222" >T-DM1-Human plasma</text>
<text x="129.3" y="660.8" font-family="Liberation Sans" font-size="12" font-weight="bold" text-anchor="middle" fill="#1a1a1a" >ALT</text>
<line x1="34.5" y1="675.8" x2="34.5" y2="803.2" stroke="#1a1a1a" stroke-width="1.3" />
<line x1="31" y1="676.3" x2="34.5" y2="676.3" stroke="#1a1a1a" stroke-width="1.3" />
<text transform="translate(30.9 679.8) scale(1 1.13)" font-family="Liberation Sans" font-size="8.8" font-weight="bold" text-anchor="end" fill="#1a1a1a" >100</text>
<line x1="31" y1="701.5" x2="34.5" y2="701.5" stroke="#1a1a1a" stroke-width="1.3" />
<text transform="translate(30.9 705) scale(1 1.13)" font-family="Liberation Sans" font-size="8.8" font-weight="bold" text-anchor="end" fill="#1a1a1a" >80</text>
<line x1="31" y1="726.6" x2="34.5" y2="726.6" stroke="#1a1a1a" stroke-width="1.3" />
<text transform="translate(30.9 730.1) scale(1 1.13)" font-family="Liberation Sans" font-size="8.8" font-weight="bold" text-anchor="end" fill="#1a1a1a" >60</text>
<line x1="31" y1="751.8" x2="34.5" y2="751.8" stroke="#1a1a1a" stroke-width="1.3" />
<text transform="translate(30.9 755.3) scale(1 1.13)" font-family="Liberation Sans" font-size="8.8" font-weight="bold" text-anchor="end" fill="#1a1a1a" >40</text>
<line x1="31" y1="777" x2="34.5" y2="777" stroke="#1a1a1a" stroke-width="1.3" />
<text transform="translate(30.9 780.5) scale(1 1.13)" font-family="Liberation Sans" font-size="8.8" font-weight="bold" text-anchor="end" fill="#1a1a1a" >20</text>
<line x1="31" y1="802.1" x2="34.5" y2="802.1" stroke="#1a1a1a" stroke-width="1.3" />
<text transform="translate(30.9 805.6) scale(1 1.13)" font-family="Liberation Sans" font-size="8.8" font-weight="bold" text-anchor="end" fill="#1a1a1a" >0</text>
<line x1="34.3" y1="802.6" x2="224.8" y2="802.6" stroke="#1a1a1a" stroke-width="1.3" />
<line x1="34.9" y1="802.6" x2="34.9" y2="806.1" stroke="#1a1a1a" stroke-width="1.2" />
<line x1="36.69" y1="802.6" x2="36.69" y2="804.6" stroke="#1a1a1a" stroke-width="0.6" />
<line x1="38.49" y1="802.6" x2="38.49" y2="804.6" stroke="#1a1a1a" stroke-width="0.6" />
<line x1="40.28" y1="802.6" x2="40.28" y2="804.6" stroke="#1a1a1a" stroke-width="0.6" />
<line x1="42.08" y1="802.6" x2="42.08" y2="804.6" stroke="#1a1a1a" stroke-width="0.6" />
<line x1="43.87" y1="802.6" x2="43.87" y2="804.6" stroke="#1a1a1a" stroke-width="0.6" />
<line x1="45.67" y1="802.6" x2="45.67" y2="804.6" stroke="#1a1a1a" stroke-width="0.6" />
<line x1="47.46" y1="802.6" x2="47.46" y2="806.1" stroke="#1a1a1a" stroke-width="1.2" />
<line x1="49.25" y1="802.6" x2="49.25" y2="804.6" stroke="#1a1a1a" stroke-width="0.6" />
<line x1="51.05" y1="802.6" x2="51.05" y2="804.6" stroke="#1a1a1a" stroke-width="0.6" />
<line x1="52.84" y1="802.6" x2="52.84" y2="804.6" stroke="#1a1a1a" stroke-width="0.6" />
<line x1="54.64" y1="802.6" x2="54.64" y2="804.6" stroke="#1a1a1a" stroke-width="0.6" />
<line x1="56.43" y1="802.6" x2="56.43" y2="804.6" stroke="#1a1a1a" stroke-width="0.6" />
<line x1="58.23" y1="802.6" x2="58.23" y2="804.6" stroke="#1a1a1a" stroke-width="0.6" />
<line x1="60.02" y1="802.6" x2="60.02" y2="806.1" stroke="#1a1a1a" stroke-width="1.2" />
<line x1="61.81" y1="802.6" x2="61.81" y2="804.6" stroke="#1a1a1a" stroke-width="0.6" />
<line x1="63.61" y1="802.6" x2="63.61" y2="804.6" stroke="#1a1a1a" stroke-width="0.6" />
<line x1="65.4" y1="802.6" x2="65.4" y2="804.6" stroke="#1a1a1a" stroke-width="0.6" />
<line x1="67.2" y1="802.6" x2="67.2" y2="804.6" stroke="#1a1a1a" stroke-width="0.6" />
<line x1="68.99" y1="802.6" x2="68.99" y2="804.6" stroke="#1a1a1a" stroke-width="0.6" />
<line x1="70.79" y1="802.6" x2="70.79" y2="804.6" stroke="#1a1a1a" stroke-width="0.6" />
<line x1="72.58" y1="802.6" x2="72.58" y2="806.1" stroke="#1a1a1a" stroke-width="1.2" />
<line x1="74.37" y1="802.6" x2="74.37" y2="804.6" stroke="#1a1a1a" stroke-width="0.6" />
<line x1="76.17" y1="802.6" x2="76.17" y2="804.6" stroke="#1a1a1a" stroke-width="0.6" />
<line x1="77.96" y1="802.6" x2="77.96" y2="804.6" stroke="#1a1a1a" stroke-width="0.6" />
<line x1="79.76" y1="802.6" x2="79.76" y2="804.6" stroke="#1a1a1a" stroke-width="0.6" />
<line x1="81.55" y1="802.6" x2="81.55" y2="804.6" stroke="#1a1a1a" stroke-width="0.6" />
<line x1="83.35" y1="802.6" x2="83.35" y2="804.6" stroke="#1a1a1a" stroke-width="0.6" />
<line x1="85.14" y1="802.6" x2="85.14" y2="806.1" stroke="#1a1a1a" stroke-width="1.2" />
<line x1="86.93" y1="802.6" x2="86.93" y2="804.6" stroke="#1a1a1a" stroke-width="0.6" />
<line x1="88.73" y1="802.6" x2="88.73" y2="804.6" stroke="#1a1a1a" stroke-width="0.6" />
<line x1="90.52" y1="802.6" x2="90.52" y2="804.6" stroke="#1a1a1a" stroke-width="0.6" />
<line x1="92.32" y1="802.6" x2="92.32" y2="804.6" stroke="#1a1a1a" stroke-width="0.6" />
<line x1="94.11" y1="802.6" x2="94.11" y2="804.6" stroke="#1a1a1a" stroke-width="0.6" />
<line x1="95.91" y1="802.6" x2="95.91" y2="804.6" stroke="#1a1a1a" stroke-width="0.6" />
<line x1="97.7" y1="802.6" x2="97.7" y2="806.1" stroke="#1a1a1a" stroke-width="1.2" />
<line x1="99.49" y1="802.6" x2="99.49" y2="804.6" stroke="#1a1a1a" stroke-width="0.6" />
<line x1="101.29" y1="802.6" x2="101.29" y2="804.6" stroke="#1a1a1a" stroke-width="0.6" />
<line x1="103.08" y1="802.6" x2="103.08" y2="804.6" stroke="#1a1a1a" stroke-width="0.6" />
<line x1="104.88" y1="802.6" x2="104.88" y2="804.6" stroke="#1a1a1a" stroke-width="0.6" />
<line x1="106.67" y1="802.6" x2="106.67" y2="804.6" stroke="#1a1a1a" stroke-width="0.6" />
<line x1="108.47" y1="802.6" x2="108.47" y2="804.6" stroke="#1a1a1a" stroke-width="0.6" />
<line x1="110.26" y1="802.6" x2="110.26" y2="806.1" stroke="#1a1a1a" stroke-width="1.2" />
<line x1="112.05" y1="802.6" x2="112.05" y2="804.6" stroke="#1a1a1a" stroke-width="0.6" />
<line x1="113.85" y1="802.6" x2="113.85" y2="804.6" stroke="#1a1a1a" stroke-width="0.6" />
<line x1="115.64" y1="802.6" x2="115.64" y2="804.6" stroke="#1a1a1a" stroke-width="0.6" />
<line x1="117.44" y1="802.6" x2="117.44" y2="804.6" stroke="#1a1a1a" stroke-width="0.6" />
<line x1="119.23" y1="802.6" x2="119.23" y2="804.6" stroke="#1a1a1a" stroke-width="0.6" />
<line x1="121.03" y1="802.6" x2="121.03" y2="804.6" stroke="#1a1a1a" stroke-width="0.6" />
<line x1="122.82" y1="802.6" x2="122.82" y2="806.1" stroke="#1a1a1a" stroke-width="1.2" />
<line x1="124.61" y1="802.6" x2="124.61" y2="804.6" stroke="#1a1a1a" stroke-width="0.6" />
<line x1="126.41" y1="802.6" x2="126.41" y2="804.6" stroke="#1a1a1a" stroke-width="0.6" />
<line x1="128.2" y1="802.6" x2="128.2" y2="804.6" stroke="#1a1a1a" stroke-width="0.6" />
<line x1="130" y1="802.6" x2="130" y2="804.6" stroke="#1a1a1a" stroke-width="0.6" />
<line x1="131.79" y1="802.6" x2="131.79" y2="804.6" stroke="#1a1a1a" stroke-width="0.6" />
<line x1="133.59" y1="802.6" x2="133.59" y2="804.6" stroke="#1a1a1a" stroke-width="0.6" />
<line x1="135.38" y1="802.6" x2="135.38" y2="806.1" stroke="#1a1a1a" stroke-width="1.2" />
<line x1="137.17" y1="802.6" x2="137.17" y2="804.6" stroke="#1a1a1a" stroke-width="0.6" />
<line x1="138.97" y1="802.6" x2="138.97" y2="804.6" stroke="#1a1a1a" stroke-width="0.6" />
<line x1="140.76" y1="802.6" x2="140.76" y2="804.6" stroke="#1a1a1a" stroke-width="0.6" />
<line x1="142.56" y1="802.6" x2="142.56" y2="804.6" stroke="#1a1a1a" stroke-width="0.6" />
<line x1="144.35" y1="802.6" x2="144.35" y2="804.6" stroke="#1a1a1a" stroke-width="0.6" />
<line x1="146.15" y1="802.6" x2="146.15" y2="804.6" stroke="#1a1a1a" stroke-width="0.6" />
<line x1="147.94" y1="802.6" x2="147.94" y2="806.1" stroke="#1a1a1a" stroke-width="1.2" />
<line x1="149.73" y1="802.6" x2="149.73" y2="804.6" stroke="#1a1a1a" stroke-width="0.6" />
<line x1="151.53" y1="802.6" x2="151.53" y2="804.6" stroke="#1a1a1a" stroke-width="0.6" />
<line x1="153.32" y1="802.6" x2="153.32" y2="804.6" stroke="#1a1a1a" stroke-width="0.6" />
<line x1="155.12" y1="802.6" x2="155.12" y2="804.6" stroke="#1a1a1a" stroke-width="0.6" />
<line x1="156.91" y1="802.6" x2="156.91" y2="804.6" stroke="#1a1a1a" stroke-width="0.6" />
<line x1="158.71" y1="802.6" x2="158.71" y2="804.6" stroke="#1a1a1a" stroke-width="0.6" />
<line x1="160.5" y1="802.6" x2="160.5" y2="806.1" stroke="#1a1a1a" stroke-width="1.2" />
<line x1="162.29" y1="802.6" x2="162.29" y2="804.6" stroke="#1a1a1a" stroke-width="0.6" />
<line x1="164.09" y1="802.6" x2="164.09" y2="804.6" stroke="#1a1a1a" stroke-width="0.6" />
<line x1="165.88" y1="802.6" x2="165.88" y2="804.6" stroke="#1a1a1a" stroke-width="0.6" />
<line x1="167.68" y1="802.6" x2="167.68" y2="804.6" stroke="#1a1a1a" stroke-width="0.6" />
<line x1="169.47" y1="802.6" x2="169.47" y2="804.6" stroke="#1a1a1a" stroke-width="0.6" />
<line x1="171.27" y1="802.6" x2="171.27" y2="804.6" stroke="#1a1a1a" stroke-width="0.6" />
<line x1="173.06" y1="802.6" x2="173.06" y2="806.1" stroke="#1a1a1a" stroke-width="1.2" />
<line x1="174.85" y1="802.6" x2="174.85" y2="804.6" stroke="#1a1a1a" stroke-width="0.6" />
<line x1="176.65" y1="802.6" x2="176.65" y2="804.6" stroke="#1a1a1a" stroke-width="0.6" />
<line x1="178.44" y1="802.6" x2="178.44" y2="804.6" stroke="#1a1a1a" stroke-width="0.6" />
<line x1="180.24" y1="802.6" x2="180.24" y2="804.6" stroke="#1a1a1a" stroke-width="0.6" />
<line x1="182.03" y1="802.6" x2="182.03" y2="804.6" stroke="#1a1a1a" stroke-width="0.6" />
<line x1="183.83" y1="802.6" x2="183.83" y2="804.6" stroke="#1a1a1a" stroke-width="0.6" />
<line x1="185.62" y1="802.6" x2="185.62" y2="806.1" stroke="#1a1a1a" stroke-width="1.2" />
<line x1="187.41" y1="802.6" x2="187.41" y2="804.6" stroke="#1a1a1a" stroke-width="0.6" />
<line x1="189.21" y1="802.6" x2="189.21" y2="804.6" stroke="#1a1a1a" stroke-width="0.6" />
<line x1="191" y1="802.6" x2="191" y2="804.6" stroke="#1a1a1a" stroke-width="0.6" />
<line x1="192.8" y1="802.6" x2="192.8" y2="804.6" stroke="#1a1a1a" stroke-width="0.6" />
<line x1="194.59" y1="802.6" x2="194.59" y2="804.6" stroke="#1a1a1a" stroke-width="0.6" />
<line x1="196.39" y1="802.6" x2="196.39" y2="804.6" stroke="#1a1a1a" stroke-width="0.6" />
<line x1="198.18" y1="802.6" x2="198.18" y2="806.1" stroke="#1a1a1a" stroke-width="1.2" />
<line x1="199.97" y1="802.6" x2="199.97" y2="804.6" stroke="#1a1a1a" stroke-width="0.6" />
<line x1="201.77" y1="802.6" x2="201.77" y2="804.6" stroke="#1a1a1a" stroke-width="0.6" />
<line x1="203.56" y1="802.6" x2="203.56" y2="804.6" stroke="#1a1a1a" stroke-width="0.6" />
<line x1="205.36" y1="802.6" x2="205.36" y2="804.6" stroke="#1a1a1a" stroke-width="0.6" />
<line x1="207.15" y1="802.6" x2="207.15" y2="804.6" stroke="#1a1a1a" stroke-width="0.6" />
<line x1="208.95" y1="802.6" x2="208.95" y2="804.6" stroke="#1a1a1a" stroke-width="0.6" />
<line x1="210.74" y1="802.6" x2="210.74" y2="806.1" stroke="#1a1a1a" stroke-width="1.2" />
<line x1="212.53" y1="802.6" x2="212.53" y2="804.6" stroke="#1a1a1a" stroke-width="0.6" />
<line x1="214.33" y1="802.6" x2="214.33" y2="804.6" stroke="#1a1a1a" stroke-width="0.6" />
<line x1="216.12" y1="802.6" x2="216.12" y2="804.6" stroke="#1a1a1a" stroke-width="0.6" />
<line x1="217.92" y1="802.6" x2="217.92" y2="804.6" stroke="#1a1a1a" stroke-width="0.6" />
<line x1="219.71" y1="802.6" x2="219.71" y2="804.6" stroke="#1a1a1a" stroke-width="0.6" />
<line x1="221.51" y1="802.6" x2="221.51" y2="804.6" stroke="#1a1a1a" stroke-width="0.6" />
<line x1="223.3" y1="802.6" x2="223.3" y2="806.1" stroke="#1a1a1a" stroke-width="1.2" />
<text transform="translate(34.9 816.9) scale(1 1.08)" font-family="Liberation Sans" font-size="9" font-weight="bold" text-anchor="middle" fill="#1a1a1a" >-14</text>
<text transform="translate(47.46 816.9) scale(1 1.08)" font-family="Liberation Sans" font-size="9" font-weight="bold" text-anchor="middle" fill="#1a1a1a" >-7</text>
<text transform="translate(60.02 816.9) scale(1 1.08)" font-family="Liberation Sans" font-size="9" font-weight="bold" text-anchor="middle" fill="#1a1a1a" >0</text>
<text transform="translate(72.58 816.9) scale(1 1.08)" font-family="Liberation Sans" font-size="9" font-weight="bold" text-anchor="middle" fill="#1a1a1a" >7</text>
<text transform="translate(85.14 816.9) scale(1 1.08)" font-family="Liberation Sans" font-size="9" font-weight="bold" text-anchor="middle" fill="#1a1a1a" >14</text>
<text transform="translate(97.7 816.9) scale(1 1.08)" font-family="Liberation Sans" font-size="9" font-weight="bold" text-anchor="middle" fill="#1a1a1a" >21</text>
<text transform="translate(110.26 816.9) scale(1 1.08)" font-family="Liberation Sans" font-size="9" font-weight="bold" text-anchor="middle" fill="#1a1a1a" >28</text>
<text transform="translate(122.82 816.9) scale(1 1.08)" font-family="Liberation Sans" font-size="9" font-weight="bold" text-anchor="middle" fill="#1a1a1a" >35</text>
<text transform="translate(135.38 816.9) scale(1 1.08)" font-family="Liberation Sans" font-size="9" font-weight="bold" text-anchor="middle" fill="#1a1a1a" >42</text>
<text transform="translate(147.94 816.9) scale(1 1.08)" font-family="Liberation Sans" font-size="9" font-weight="bold" text-anchor="middle" fill="#1a1a1a" >49</text>
<text transform="translate(160.5 816.9) scale(1 1.08)" font-family="Liberation Sans" font-size="9" font-weight="bold" text-anchor="middle" fill="#1a1a1a" >56</text>
<text transform="translate(173.06 816.9) scale(1 1.08)" font-family="Liberation Sans" font-size="9" font-weight="bold" text-anchor="middle" fill="#1a1a1a" >63</text>
<text transform="translate(185.62 816.9) scale(1 1.08)" font-family="Liberation Sans" font-size="9" font-weight="bold" text-anchor="middle" fill="#1a1a1a" >70</text>
<text transform="translate(198.18 816.9) scale(1 1.08)" font-family="Liberation Sans" font-size="9" font-weight="bold" text-anchor="middle" fill="#1a1a1a" >77</text>
<text transform="translate(210.74 816.9) scale(1 1.08)" font-family="Liberation Sans" font-size="9" font-weight="bold" text-anchor="middle" fill="#1a1a1a" >84</text>
<text transform="translate(223.3 816.9) scale(1 1.08)" font-family="Liberation Sans" font-size="9" font-weight="bold" text-anchor="middle" fill="#1a1a1a" >91</text>
<polyline points="34.9,752.9 47.6,755.1 72.9,738.7 98,751.4 110.4,749.2 135.3,751.7 148.4,735.6 173.3,754.7 213,738.3" fill="none" stroke="#ff1a1a" stroke-width="1.45" stroke-linejoin="round" stroke-opacity="1"/>
<polyline points="34.9,739.7 47.6,741.2 72.9,716.4 98,735.4 110.4,722.2 135.3,741 148.4,708.8 173.3,726.1 213,729.5" fill="none" stroke="#bf33ff" stroke-width="1.45" stroke-linejoin="round" stroke-opacity="1"/>
<polyline points="34.9,742.7 47.6,743.4 72.9,712 98,740.5 110.4,734.6 135.3,738.6 148.4,720.6 173.3,739.4 213,734.8" fill="none" stroke="#3ee026" stroke-width="1.45" stroke-linejoin="round" stroke-opacity="1"/>
<polyline points="34.9,740.2 47.6,741.2 72.9,735.8 98,747.5 110.4,749.2 135.3,748.6 148.4,737.1 173.3,752.4 213,732.8" fill="none" stroke="#0000ff" stroke-width="1.45" stroke-linejoin="round" stroke-opacity="1"/>
<line x1="72.9" y1="692.6" x2="72.9" y2="712" stroke="#3ee026" stroke-width="1.2" />
<line x1="70.4" y1="692.6" x2="75.4" y2="692.6" stroke="#3ee026" stroke-width="1.2" />
<line x1="135.3" y1="729.8" x2="135.3" y2="738.6" stroke="#3ee026" stroke-width="1.2" />
<line x1="132.8" y1="729.8" x2="137.8" y2="729.8" stroke="#3ee026" stroke-width="1.2" />
<line x1="173.3" y1="732.5" x2="173.3" y2="739.4" stroke="#3ee026" stroke-width="1.2" />
<line x1="170.8" y1="732.5" x2="175.8" y2="732.5" stroke="#3ee026" stroke-width="1.2" />
<line x1="213" y1="727.2" x2="213" y2="734.8" stroke="#3ee026" stroke-width="1.2" />
<line x1="210.5" y1="727.2" x2="215.5" y2="727.2" stroke="#3ee026" stroke-width="1.2" />
<line x1="34.9" y1="736" x2="34.9" y2="742.7" stroke="#3ee026" stroke-width="1.2" />
<line x1="32.4" y1="736" x2="37.4" y2="736" stroke="#3ee026" stroke-width="1.2" />
<line x1="72.9" y1="707.6" x2="72.9" y2="716.4" stroke="#bf33ff" stroke-width="1.2" />
<line x1="70.4" y1="707.6" x2="75.4" y2="707.6" stroke="#bf33ff" stroke-width="1.2" />
<line x1="34.9" y1="728.5" x2="34.9" y2="739.7" stroke="#bf33ff" stroke-width="1.2" />
<line x1="32.4" y1="728.5" x2="37.4" y2="728.5" stroke="#bf33ff" stroke-width="1.2" />
<line x1="98" y1="731" x2="98" y2="735.4" stroke="#bf33ff" stroke-width="1.2" />
<line x1="95.5" y1="731" x2="100.5" y2="731" stroke="#bf33ff" stroke-width="1.2" />
<line x1="110.4" y1="717.8" x2="110.4" y2="722.2" stroke="#bf33ff" stroke-width="1.2" />
<line x1="107.9" y1="717.8" x2="112.9" y2="717.8" stroke="#bf33ff" stroke-width="1.2" />
<line x1="148.4" y1="703.4" x2="148.4" y2="708.8" stroke="#bf33ff" stroke-width="1.2" />
<line x1="145.9" y1="703.4" x2="150.9" y2="703.4" stroke="#bf33ff" stroke-width="1.2" />
<line x1="173.3" y1="709.5" x2="173.3" y2="726.1" stroke="#bf33ff" stroke-width="1.2" />
<line x1="170.8" y1="709.5" x2="175.8" y2="709.5" stroke="#bf33ff" stroke-width="1.2" />
<line x1="213" y1="724.1" x2="213" y2="729.5" stroke="#bf33ff" stroke-width="1.2" />
<line x1="210.5" y1="724.1" x2="215.5" y2="724.1" stroke="#bf33ff" stroke-width="1.2" />
<line x1="72.9" y1="729.5" x2="72.9" y2="738.7" stroke="#ff1a1a" stroke-width="1.2" />
<line x1="70.4" y1="729.5" x2="75.4" y2="729.5" stroke="#ff1a1a" stroke-width="1.2" />
<line x1="47.6" y1="750" x2="47.6" y2="755.1" stroke="#ff1a1a" stroke-width="1.2" />
<line x1="45.1" y1="750" x2="50.1" y2="750" stroke="#ff1a1a" stroke-width="1.2" />
<line x1="98" y1="745.6" x2="98" y2="751.4" stroke="#ff1a1a" stroke-width="1.2" />
<line x1="95.5" y1="745.6" x2="100.5" y2="745.6" stroke="#ff1a1a" stroke-width="1.2" />
<line x1="110.4" y1="743.1" x2="110.4" y2="749.2" stroke="#ff1a1a" stroke-width="1.2" />
<line x1="107.9" y1="743.1" x2="112.9" y2="743.1" stroke="#ff1a1a" stroke-width="1.2" />
<line x1="148.4" y1="730.7" x2="148.4" y2="735.6" stroke="#ff1a1a" stroke-width="1.2" />
<line x1="145.9" y1="730.7" x2="150.9" y2="730.7" stroke="#ff1a1a" stroke-width="1.2" />
<line x1="213" y1="721.8" x2="213" y2="738.3" stroke="#ff1a1a" stroke-width="1.2" />
<line x1="210.5" y1="721.8" x2="215.5" y2="721.8" stroke="#ff1a1a" stroke-width="1.2" />
<line x1="34.9" y1="734.6" x2="34.9" y2="740.2" stroke="#0000ff" stroke-width="1.2" />
<line x1="32.4" y1="734.6" x2="37.4" y2="734.6" stroke="#0000ff" stroke-width="1.2" />
<line x1="47.6" y1="734.3" x2="47.6" y2="741.2" stroke="#0000ff" stroke-width="1.2" />
<line x1="45.1" y1="734.3" x2="50.1" y2="734.3" stroke="#0000ff" stroke-width="1.2" />
<line x1="72.9" y1="728.1" x2="72.9" y2="735.8" stroke="#0000ff" stroke-width="1.2" />
<line x1="70.4" y1="728.1" x2="75.4" y2="728.1" stroke="#0000ff" stroke-width="1.2" />
<line x1="98" y1="741.2" x2="98" y2="747.5" stroke="#0000ff" stroke-width="1.2" />
<line x1="95.5" y1="741.2" x2="100.5" y2="741.2" stroke="#0000ff" stroke-width="1.2" />
<line x1="110.4" y1="744.1" x2="110.4" y2="749.2" stroke="#0000ff" stroke-width="1.2" />
<line x1="107.9" y1="744.1" x2="112.9" y2="744.1" stroke="#0000ff" stroke-width="1.2" />
<line x1="135.3" y1="743.7" x2="135.3" y2="748.6" stroke="#0000ff" stroke-width="1.2" />
<line x1="132.8" y1="743.7" x2="137.8" y2="743.7" stroke="#0000ff" stroke-width="1.2" />
<line x1="173.3" y1="744.5" x2="173.3" y2="752.4" stroke="#0000ff" stroke-width="1.2" />
<line x1="170.8" y1="744.5" x2="175.8" y2="744.5" stroke="#0000ff" stroke-width="1.2" />
<line x1="213" y1="720.6" x2="213" y2="732.8" stroke="#0000ff" stroke-width="1.2" />
<line x1="210.5" y1="720.6" x2="215.5" y2="720.6" stroke="#0000ff" stroke-width="1.2" />
<rect x="32.1" y="750.1" width="5.6" height="5.6" fill="#ff1a1a"/>
<rect x="44.8" y="752.3" width="5.6" height="5.6" fill="#ff1a1a"/>
<rect x="70.1" y="735.9" width="5.6" height="5.6" fill="#ff1a1a"/>
<rect x="95.2" y="748.6" width="5.6" height="5.6" fill="#ff1a1a"/>
<rect x="107.6" y="746.4" width="5.6" height="5.6" fill="#ff1a1a"/>
<rect x="132.5" y="748.9" width="5.6" height="5.6" fill="#ff1a1a"/>
<rect x="145.6" y="732.8" width="5.6" height="5.6" fill="#ff1a1a"/>
<rect x="170.5" y="751.9" width="5.6" height="5.6" fill="#ff1a1a"/>
<rect x="210.2" y="735.5" width="5.6" height="5.6" fill="#ff1a1a"/>
<polygon points="34.9,742.92 38.12,737.32 31.68,737.32" fill="#bf33ff"/>
<polygon points="47.6,744.42 50.82,738.82 44.38,738.82" fill="#bf33ff"/>
<polygon points="72.9,719.62 76.12,714.02 69.68,714.02" fill="#bf33ff"/>
<polygon points="98,738.62 101.22,733.02 94.78,733.02" fill="#bf33ff"/>
<polygon points="110.4,725.42 113.62,719.82 107.18,719.82" fill="#bf33ff"/>
<polygon points="135.3,744.22 138.52,738.62 132.08,738.62" fill="#bf33ff"/>
<polygon points="148.4,712.02 151.62,706.42 145.18,706.42" fill="#bf33ff"/>
<polygon points="173.3,729.32 176.52,723.72 170.08,723.72" fill="#bf33ff"/>
<polygon points="213,732.72 216.22,727.12 209.78,727.12" fill="#bf33ff"/>
<polygon points="34.9,739.48 38.12,745.08 31.68,745.08" fill="#3ee026"/>
<polygon points="47.6,740.18 50.82,745.78 44.38,745.78" fill="#3ee026"/>
<polygon points="72.9,708.78 76.12,714.38 69.68,714.38" fill="#3ee026"/>
<polygon points="98,737.28 101.22,742.88 94.78,742.88" fill="#3ee026"/>
<polygon points="110.4,731.38 113.62,736.98 107.18,736.98" fill="#3ee026"/>
<polygon points="135.3,735.38 138.52,740.98 132.08,740.98" fill="#3ee026"/>
<polygon points="148.4,717.38 151.62,722.98 145.18,722.98" fill="#3ee026"/>
<polygon points="173.3,736.18 176.52,741.78 170.08,741.78" fill="#3ee026"/>
<polygon points="213,731.58 216.22,737.18 209.78,737.18" fill="#3ee026"/>
<circle cx="34.9" cy="740.2" r="2.8" fill="#0000ff"/>
<circle cx="47.6" cy="741.2" r="2.8" fill="#0000ff"/>
<circle cx="72.9" cy="735.8" r="2.8" fill="#0000ff"/>
<circle cx="98" cy="747.5" r="2.8" fill="#0000ff"/>
<circle cx="110.4" cy="749.2" r="2.8" fill="#0000ff"/>
<circle cx="135.3" cy="748.6" r="2.8" fill="#0000ff"/>
<circle cx="148.4" cy="737.1" r="2.8" fill="#0000ff"/>
<circle cx="173.3" cy="752.4" r="2.8" fill="#0000ff"/>
<circle cx="213" cy="732.8" r="2.8" fill="#0000ff"/>
<text transform="translate(129.6 829.6) scale(1 1.13)" font-family="Liberation Sans" font-size="10.2" font-weight="bold" text-anchor="middle" fill="#1a1a1a" >Time(Day)</text>
<text x="0" y="0" transform="translate(13.4,739) rotate(-90)" font-family="Liberation Sans" font-weight="bold" font-size="10" text-anchor="middle" fill="#1a1a1a">U/L</text>
<text x="352" y="660.8" font-family="Liberation Sans" font-size="12" font-weight="bold" text-anchor="middle" fill="#1a1a1a" >AST</text>
<line x1="257.5" y1="675.8" x2="257.5" y2="803.2" stroke="#1a1a1a" stroke-width="1.3" />
<line x1="254" y1="676.3" x2="257.5" y2="676.3" stroke="#1a1a1a" stroke-width="1.3" />
<text transform="translate(253.6 679.8) scale(1 1.13)" font-family="Liberation Sans" font-size="8.8" font-weight="bold" text-anchor="end" fill="#1a1a1a" >250</text>
<line x1="254" y1="701.4" x2="257.5" y2="701.4" stroke="#1a1a1a" stroke-width="1.3" />
<text transform="translate(253.6 704.9) scale(1 1.13)" font-family="Liberation Sans" font-size="8.8" font-weight="bold" text-anchor="end" fill="#1a1a1a" >200</text>
<line x1="254" y1="726.5" x2="257.5" y2="726.5" stroke="#1a1a1a" stroke-width="1.3" />
<text transform="translate(253.6 730) scale(1 1.13)" font-family="Liberation Sans" font-size="8.8" font-weight="bold" text-anchor="end" fill="#1a1a1a" >150</text>
<line x1="254" y1="751.3" x2="257.5" y2="751.3" stroke="#1a1a1a" stroke-width="1.3" />
<text transform="translate(253.6 754.8) scale(1 1.13)" font-family="Liberation Sans" font-size="8.8" font-weight="bold" text-anchor="end" fill="#1a1a1a" >100</text>
<line x1="254" y1="776.9" x2="257.5" y2="776.9" stroke="#1a1a1a" stroke-width="1.3" />
<text transform="translate(253.6 780.4) scale(1 1.13)" font-family="Liberation Sans" font-size="8.8" font-weight="bold" text-anchor="end" fill="#1a1a1a" >50</text>
<line x1="254" y1="802.2" x2="257.5" y2="802.2" stroke="#1a1a1a" stroke-width="1.3" />
<text transform="translate(253.6 805.7) scale(1 1.13)" font-family="Liberation Sans" font-size="8.8" font-weight="bold" text-anchor="end" fill="#1a1a1a" >0</text>
<line x1="257" y1="802.6" x2="447.4" y2="802.6" stroke="#1a1a1a" stroke-width="1.3" />
<line x1="257.6" y1="802.6" x2="257.6" y2="806.1" stroke="#1a1a1a" stroke-width="1.2" />
<line x1="259.39" y1="802.6" x2="259.39" y2="804.6" stroke="#1a1a1a" stroke-width="0.6" />
<line x1="261.19" y1="802.6" x2="261.19" y2="804.6" stroke="#1a1a1a" stroke-width="0.6" />
<line x1="262.98" y1="802.6" x2="262.98" y2="804.6" stroke="#1a1a1a" stroke-width="0.6" />
<line x1="264.78" y1="802.6" x2="264.78" y2="804.6" stroke="#1a1a1a" stroke-width="0.6" />
<line x1="266.57" y1="802.6" x2="266.57" y2="804.6" stroke="#1a1a1a" stroke-width="0.6" />
<line x1="268.37" y1="802.6" x2="268.37" y2="804.6" stroke="#1a1a1a" stroke-width="0.6" />
<line x1="270.16" y1="802.6" x2="270.16" y2="806.1" stroke="#1a1a1a" stroke-width="1.2" />
<line x1="271.95" y1="802.6" x2="271.95" y2="804.6" stroke="#1a1a1a" stroke-width="0.6" />
<line x1="273.75" y1="802.6" x2="273.75" y2="804.6" stroke="#1a1a1a" stroke-width="0.6" />
<line x1="275.54" y1="802.6" x2="275.54" y2="804.6" stroke="#1a1a1a" stroke-width="0.6" />
<line x1="277.34" y1="802.6" x2="277.34" y2="804.6" stroke="#1a1a1a" stroke-width="0.6" />
<line x1="279.13" y1="802.6" x2="279.13" y2="804.6" stroke="#1a1a1a" stroke-width="0.6" />
<line x1="280.93" y1="802.6" x2="280.93" y2="804.6" stroke="#1a1a1a" stroke-width="0.6" />
<line x1="282.72" y1="802.6" x2="282.72" y2="806.1" stroke="#1a1a1a" stroke-width="1.2" />
<line x1="284.51" y1="802.6" x2="284.51" y2="804.6" stroke="#1a1a1a" stroke-width="0.6" />
<line x1="286.31" y1="802.6" x2="286.31" y2="804.6" stroke="#1a1a1a" stroke-width="0.6" />
<line x1="288.1" y1="802.6" x2="288.1" y2="804.6" stroke="#1a1a1a" stroke-width="0.6" />
<line x1="289.9" y1="802.6" x2="289.9" y2="804.6" stroke="#1a1a1a" stroke-width="0.6" />
<line x1="291.69" y1="802.6" x2="291.69" y2="804.6" stroke="#1a1a1a" stroke-width="0.6" />
<line x1="293.49" y1="802.6" x2="293.49" y2="804.6" stroke="#1a1a1a" stroke-width="0.6" />
<line x1="295.28" y1="802.6" x2="295.28" y2="806.1" stroke="#1a1a1a" stroke-width="1.2" />
<line x1="297.07" y1="802.6" x2="297.07" y2="804.6" stroke="#1a1a1a" stroke-width="0.6" />
<line x1="298.87" y1="802.6" x2="298.87" y2="804.6" stroke="#1a1a1a" stroke-width="0.6" />
<line x1="300.66" y1="802.6" x2="300.66" y2="804.6" stroke="#1a1a1a" stroke-width="0.6" />
<line x1="302.46" y1="802.6" x2="302.46" y2="804.6" stroke="#1a1a1a" stroke-width="0.6" />
<line x1="304.25" y1="802.6" x2="304.25" y2="804.6" stroke="#1a1a1a" stroke-width="0.6" />
<line x1="306.05" y1="802.6" x2="306.05" y2="804.6" stroke="#1a1a1a" stroke-width="0.6" />
<line x1="307.84" y1="802.6" x2="307.84" y2="806.1" stroke="#1a1a1a" stroke-width="1.2" />
<line x1="309.63" y1="802.6" x2="309.63" y2="804.6" stroke="#1a1a1a" stroke-width="0.6" />
<line x1="311.43" y1="802.6" x2="311.43" y2="804.6" stroke="#1a1a1a" stroke-width="0.6" />
<line x1="313.22" y1="802.6" x2="313.22" y2="804.6" stroke="#1a1a1a" stroke-width="0.6" />
<line x1="315.02" y1="802.6" x2="315.02" y2="804.6" stroke="#1a1a1a" stroke-width="0.6" />
<line x1="316.81" y1="802.6" x2="316.81" y2="804.6" stroke="#1a1a1a" stroke-width="0.6" />
<line x1="318.61" y1="802.6" x2="318.61" y2="804.6" stroke="#1a1a1a" stroke-width="0.6" />
<line x1="320.4" y1="802.6" x2="320.4" y2="806.1" stroke="#1a1a1a" stroke-width="1.2" />
<line x1="322.19" y1="802.6" x2="322.19" y2="804.6" stroke="#1a1a1a" stroke-width="0.6" />
<line x1="323.99" y1="802.6" x2="323.99" y2="804.6" stroke="#1a1a1a" stroke-width="0.6" />
<line x1="325.78" y1="802.6" x2="325.78" y2="804.6" stroke="#1a1a1a" stroke-width="0.6" />
<line x1="327.58" y1="802.6" x2="327.58" y2="804.6" stroke="#1a1a1a" stroke-width="0.6" />
<line x1="329.37" y1="802.6" x2="329.37" y2="804.6" stroke="#1a1a1a" stroke-width="0.6" />
<line x1="331.17" y1="802.6" x2="331.17" y2="804.6" stroke="#1a1a1a" stroke-width="0.6" />
<line x1="332.96" y1="802.6" x2="332.96" y2="806.1" stroke="#1a1a1a" stroke-width="1.2" />
<line x1="334.75" y1="802.6" x2="334.75" y2="804.6" stroke="#1a1a1a" stroke-width="0.6" />
<line x1="336.55" y1="802.6" x2="336.55" y2="804.6" stroke="#1a1a1a" stroke-width="0.6" />
<line x1="338.34" y1="802.6" x2="338.34" y2="804.6" stroke="#1a1a1a" stroke-width="0.6" />
<line x1="340.14" y1="802.6" x2="340.14" y2="804.6" stroke="#1a1a1a" stroke-width="0.6" />
<line x1="341.93" y1="802.6" x2="341.93" y2="804.6" stroke="#1a1a1a" stroke-width="0.6" />
<line x1="343.73" y1="802.6" x2="343.73" y2="804.6" stroke="#1a1a1a" stroke-width="0.6" />
<line x1="345.52" y1="802.6" x2="345.52" y2="806.1" stroke="#1a1a1a" stroke-width="1.2" />
<line x1="347.31" y1="802.6" x2="347.31" y2="804.6" stroke="#1a1a1a" stroke-width="0.6" />
<line x1="349.11" y1="802.6" x2="349.11" y2="804.6" stroke="#1a1a1a" stroke-width="0.6" />
<line x1="350.9" y1="802.6" x2="350.9" y2="804.6" stroke="#1a1a1a" stroke-width="0.6" />
<line x1="352.7" y1="802.6" x2="352.7" y2="804.6" stroke="#1a1a1a" stroke-width="0.6" />
<line x1="354.49" y1="802.6" x2="354.49" y2="804.6" stroke="#1a1a1a" stroke-width="0.6" />
<line x1="356.29" y1="802.6" x2="356.29" y2="804.6" stroke="#1a1a1a" stroke-width="0.6" />
<line x1="358.08" y1="802.6" x2="358.08" y2="806.1" stroke="#1a1a1a" stroke-width="1.2" />
<line x1="359.87" y1="802.6" x2="359.87" y2="804.6" stroke="#1a1a1a" stroke-width="0.6" />
<line x1="361.67" y1="802.6" x2="361.67" y2="804.6" stroke="#1a1a1a" stroke-width="0.6" />
<line x1="363.46" y1="802.6" x2="363.46" y2="804.6" stroke="#1a1a1a" stroke-width="0.6" />
<line x1="365.26" y1="802.6" x2="365.26" y2="804.6" stroke="#1a1a1a" stroke-width="0.6" />
<line x1="367.05" y1="802.6" x2="367.05" y2="804.6" stroke="#1a1a1a" stroke-width="0.6" />
<line x1="368.85" y1="802.6" x2="368.85" y2="804.6" stroke="#1a1a1a" stroke-width="0.6" />
<line x1="370.64" y1="802.6" x2="370.64" y2="806.1" stroke="#1a1a1a" stroke-width="1.2" />
<line x1="372.43" y1="802.6" x2="372.43" y2="804.6" stroke="#1a1a1a" stroke-width="0.6" />
<line x1="374.23" y1="802.6" x2="374.23" y2="804.6" stroke="#1a1a1a" stroke-width="0.6" />
<line x1="376.02" y1="802.6" x2="376.02" y2="804.6" stroke="#1a1a1a" stroke-width="0.6" />
<line x1="377.82" y1="802.6" x2="377.82" y2="804.6" stroke="#1a1a1a" stroke-width="0.6" />
<line x1="379.61" y1="802.6" x2="379.61" y2="804.6" stroke="#1a1a1a" stroke-width="0.6" />
<line x1="381.41" y1="802.6" x2="381.41" y2="804.6" stroke="#1a1a1a" stroke-width="0.6" />
<line x1="383.2" y1="802.6" x2="383.2" y2="806.1" stroke="#1a1a1a" stroke-width="1.2" />
<line x1="384.99" y1="802.6" x2="384.99" y2="804.6" stroke="#1a1a1a" stroke-width="0.6" />
<line x1="386.79" y1="802.6" x2="386.79" y2="804.6" stroke="#1a1a1a" stroke-width="0.6" />
<line x1="388.58" y1="802.6" x2="388.58" y2="804.6" stroke="#1a1a1a" stroke-width="0.6" />
<line x1="390.38" y1="802.6" x2="390.38" y2="804.6" stroke="#1a1a1a" stroke-width="0.6" />
<line x1="392.17" y1="802.6" x2="392.17" y2="804.6" stroke="#1a1a1a" stroke-width="0.6" />
<line x1="393.97" y1="802.6" x2="393.97" y2="804.6" stroke="#1a1a1a" stroke-width="0.6" />
<line x1="395.76" y1="802.6" x2="395.76" y2="806.1" stroke="#1a1a1a" stroke-width="1.2" />
<line x1="397.55" y1="802.6" x2="397.55" y2="804.6" stroke="#1a1a1a" stroke-width="0.6" />
<line x1="399.35" y1="802.6" x2="399.35" y2="804.6" stroke="#1a1a1a" stroke-width="0.6" />
<line x1="401.14" y1="802.6" x2="401.14" y2="804.6" stroke="#1a1a1a" stroke-width="0.6" />
<line x1="402.94" y1="802.6" x2="402.94" y2="804.6" stroke="#1a1a1a" stroke-width="0.6" />
<line x1="404.73" y1="802.6" x2="404.73" y2="804.6" stroke="#1a1a1a" stroke-width="0.6" />
<line x1="406.53" y1="802.6" x2="406.53" y2="804.6" stroke="#1a1a1a" stroke-width="0.6" />
<line x1="408.32" y1="802.6" x2="408.32" y2="806.1" stroke="#1a1a1a" stroke-width="1.2" />
<line x1="410.11" y1="802.6" x2="410.11" y2="804.6" stroke="#1a1a1a" stroke-width="0.6" />
<line x1="411.91" y1="802.6" x2="411.91" y2="804.6" stroke="#1a1a1a" stroke-width="0.6" />
<line x1="413.7" y1="802.6" x2="413.7" y2="804.6" stroke="#1a1a1a" stroke-width="0.6" />
<line x1="415.5" y1="802.6" x2="415.5" y2="804.6" stroke="#1a1a1a" stroke-width="0.6" />
<line x1="417.29" y1="802.6" x2="417.29" y2="804.6" stroke="#1a1a1a" stroke-width="0.6" />
<line x1="419.09" y1="802.6" x2="419.09" y2="804.6" stroke="#1a1a1a" stroke-width="0.6" />
<line x1="420.88" y1="802.6" x2="420.88" y2="806.1" stroke="#1a1a1a" stroke-width="1.2" />
<line x1="422.67" y1="802.6" x2="422.67" y2="804.6" stroke="#1a1a1a" stroke-width="0.6" />
<line x1="424.47" y1="802.6" x2="424.47" y2="804.6" stroke="#1a1a1a" stroke-width="0.6" />
<line x1="426.26" y1="802.6" x2="426.26" y2="804.6" stroke="#1a1a1a" stroke-width="0.6" />
<line x1="428.06" y1="802.6" x2="428.06" y2="804.6" stroke="#1a1a1a" stroke-width="0.6" />
<line x1="429.85" y1="802.6" x2="429.85" y2="804.6" stroke="#1a1a1a" stroke-width="0.6" />
<line x1="431.65" y1="802.6" x2="431.65" y2="804.6" stroke="#1a1a1a" stroke-width="0.6" />
<line x1="433.44" y1="802.6" x2="433.44" y2="806.1" stroke="#1a1a1a" stroke-width="1.2" />
<line x1="435.23" y1="802.6" x2="435.23" y2="804.6" stroke="#1a1a1a" stroke-width="0.6" />
<line x1="437.03" y1="802.6" x2="437.03" y2="804.6" stroke="#1a1a1a" stroke-width="0.6" />
<line x1="438.82" y1="802.6" x2="438.82" y2="804.6" stroke="#1a1a1a" stroke-width="0.6" />
<line x1="440.62" y1="802.6" x2="440.62" y2="804.6" stroke="#1a1a1a" stroke-width="0.6" />
<line x1="442.41" y1="802.6" x2="442.41" y2="804.6" stroke="#1a1a1a" stroke-width="0.6" />
<line x1="444.21" y1="802.6" x2="444.21" y2="804.6" stroke="#1a1a1a" stroke-width="0.6" />
<line x1="446" y1="802.6" x2="446" y2="806.1" stroke="#1a1a1a" stroke-width="1.2" />
<text transform="translate(257.6 816.9) scale(1 1.08)" font-family="Liberation Sans" font-size="9" font-weight="bold" text-anchor="middle" fill="#1a1a1a" >-14</text>
<text transform="translate(270.16 816.9) scale(1 1.08)" font-family="Liberation Sans" font-size="9" font-weight="bold" text-anchor="middle" fill="#1a1a1a" >-7</text>
<text transform="translate(282.72 816.9) scale(1 1.08)" font-family="Liberation Sans" font-size="9" font-weight="bold" text-anchor="middle" fill="#1a1a1a" >0</text>
<text transform="translate(295.28 816.9) scale(1 1.08)" font-family="Liberation Sans" font-size="9" font-weight="bold" text-anchor="middle" fill="#1a1a1a" >7</text>
<text transform="translate(307.84 816.9) scale(1 1.08)" font-family="Liberation Sans" font-size="9" font-weight="bold" text-anchor="middle" fill="#1a1a1a" >14</text>
<text transform="translate(320.4 816.9) scale(1 1.08)" font-family="Liberation Sans" font-size="9" font-weight="bold" text-anchor="middle" fill="#1a1a1a" >21</text>
<text transform="translate(332.96 816.9) scale(1 1.08)" font-family="Liberation Sans" font-size="9" font-weight="bold" text-anchor="middle" fill="#1a1a1a" >28</text>
<text transform="translate(345.52 816.9) scale(1 1.08)" font-family="Liberation Sans" font-size="9" font-weight="bold" text-anchor="middle" fill="#1a1a1a" >35</text>
<text transform="translate(358.08 816.9) scale(1 1.08)" font-family="Liberation Sans" font-size="9" font-weight="bold" text-anchor="middle" fill="#1a1a1a" >42</text>
<text transform="translate(370.64 816.9) scale(1 1.08)" font-family="Liberation Sans" font-size="9" font-weight="bold" text-anchor="middle" fill="#1a1a1a" >49</text>
<text transform="translate(383.2 816.9) scale(1 1.08)" font-family="Liberation Sans" font-size="9" font-weight="bold" text-anchor="middle" fill="#1a1a1a" >56</text>
<text transform="translate(395.76 816.9) scale(1 1.08)" font-family="Liberation Sans" font-size="9" font-weight="bold" text-anchor="middle" fill="#1a1a1a" >63</text>
<text transform="translate(408.32 816.9) scale(1 1.08)" font-family="Liberation Sans" font-size="9" font-weight="bold" text-anchor="middle" fill="#1a1a1a" >70</text>
<text transform="translate(420.88 816.9) scale(1 1.08)" font-family="Liberation Sans" font-size="9" font-weight="bold" text-anchor="middle" fill="#1a1a1a" >77</text>
<text transform="translate(433.44 816.9) scale(1 1.08)" font-family="Liberation Sans" font-size="9" font-weight="bold" text-anchor="middle" fill="#1a1a1a" >84</text>
<text transform="translate(446 816.9) scale(1 1.08)" font-family="Liberation Sans" font-size="9" font-weight="bold" text-anchor="middle" fill="#1a1a1a" >91</text>
<polyline points="257.6,781.2 270.4,774.7 295.5,769.6 320.5,779 333.2,775.4 358.5,779.9 371,768.7 395.9,781.2 435.6,778" fill="none" stroke="#ff1a1a" stroke-width="1.45" stroke-linejoin="round" stroke-opacity="1"/>
<polyline points="257.6,775.4 270.4,774.4 295.5,743.3 320.5,771.8 333.2,729.1 358.5,768.7 371,714.1 395.9,769.5 435.6,776" fill="none" stroke="#bf33ff" stroke-width="1.45" stroke-linejoin="round" stroke-opacity="1"/>
<polyline points="257.6,778.3 270.4,777.9 295.5,754.5 320.5,774.4 333.2,752.8 358.5,773.5 371,736.9 395.9,771.9 435.6,775.9" fill="none" stroke="#3ee026" stroke-width="1.45" stroke-linejoin="round" stroke-opacity="1"/>
<polyline points="257.6,778.3 270.4,776.9 295.5,774.4 320.5,779.8 333.2,780.5 358.5,779.1 371,775.4 395.9,780.7 435.6,773.8" fill="none" stroke="#0000ff" stroke-width="1.45" stroke-linejoin="round" stroke-opacity="1"/>
<line x1="295.5" y1="737" x2="295.5" y2="743.3" stroke="#bf33ff" stroke-width="1.2" />
<line x1="293" y1="737" x2="298" y2="737" stroke="#bf33ff" stroke-width="1.2" />
<line x1="333.2" y1="719.2" x2="333.2" y2="729.1" stroke="#bf33ff" stroke-width="1.2" />
<line x1="330.7" y1="719.2" x2="335.7" y2="719.2" stroke="#bf33ff" stroke-width="1.2" />
<line x1="371" y1="704.5" x2="371" y2="714.1" stroke="#bf33ff" stroke-width="1.2" />
<line x1="368.5" y1="704.5" x2="373.5" y2="704.5" stroke="#bf33ff" stroke-width="1.2" />
<line x1="395.9" y1="766.8" x2="395.9" y2="769.5" stroke="#bf33ff" stroke-width="1.2" />
<line x1="393.4" y1="766.8" x2="398.4" y2="766.8" stroke="#bf33ff" stroke-width="1.2" />
<line x1="257.6" y1="774" x2="257.6" y2="775.4" stroke="#bf33ff" stroke-width="1.2" />
<line x1="255.1" y1="774" x2="260.1" y2="774" stroke="#bf33ff" stroke-width="1.2" />
<line x1="295.5" y1="752" x2="295.5" y2="754.5" stroke="#3ee026" stroke-width="1.2" />
<line x1="293" y1="752" x2="298" y2="752" stroke="#3ee026" stroke-width="1.2" />
<line x1="333.2" y1="749.4" x2="333.2" y2="752.8" stroke="#3ee026" stroke-width="1.2" />
<line x1="330.7" y1="749.4" x2="335.7" y2="749.4" stroke="#3ee026" stroke-width="1.2" />
<line x1="371" y1="728.9" x2="371" y2="736.9" stroke="#3ee026" stroke-width="1.2" />
<line x1="368.5" y1="728.9" x2="373.5" y2="728.9" stroke="#3ee026" stroke-width="1.2" />
<line x1="295.5" y1="765.6" x2="295.5" y2="769.6" stroke="#ff1a1a" stroke-width="1.2" />
<line x1="293" y1="765.6" x2="298" y2="765.6" stroke="#ff1a1a" stroke-width="1.2" />
<line x1="270.4" y1="773.2" x2="270.4" y2="774.7" stroke="#ff1a1a" stroke-width="1.2" />
<line x1="267.9" y1="773.2" x2="272.9" y2="773.2" stroke="#ff1a1a" stroke-width="1.2" />
<line x1="435.6" y1="768.7" x2="435.6" y2="773.8" stroke="#0000ff" stroke-width="1.2" />
<line x1="433.1" y1="768.7" x2="438.1" y2="768.7" stroke="#0000ff" stroke-width="1.2" />
<rect x="254.8" y="778.4" width="5.6" height="5.6" fill="#ff1a1a"/>
<rect x="267.6" y="771.9" width="5.6" height="5.6" fill="#ff1a1a"/>
<rect x="292.7" y="766.8" width="5.6" height="5.6" fill="#ff1a1a"/>
<rect x="317.7" y="776.2" width="5.6" height="5.6" fill="#ff1a1a"/>
<rect x="330.4" y="772.6" width="5.6" height="5.6" fill="#ff1a1a"/>
<rect x="355.7" y="777.1" width="5.6" height="5.6" fill="#ff1a1a"/>
<rect x="368.2" y="765.9" width="5.6" height="5.6" fill="#ff1a1a"/>
<rect x="393.1" y="778.4" width="5.6" height="5.6" fill="#ff1a1a"/>
<rect x="432.8" y="775.2" width="5.6" height="5.6" fill="#ff1a1a"/>
<polygon points="257.6,778.62 260.82,773.02 254.38,773.02" fill="#bf33ff"/>
<polygon points="270.4,777.62 273.62,772.02 267.18,772.02" fill="#bf33ff"/>
<polygon points="295.5,746.52 298.72,740.92 292.28,740.92" fill="#bf33ff"/>
<polygon points="320.5,775.02 323.72,769.42 317.28,769.42" fill="#bf33ff"/>
<polygon points="333.2,732.32 336.42,726.72 329.98,726.72" fill="#bf33ff"/>
<polygon points="358.5,771.92 361.72,766.32 355.28,766.32" fill="#bf33ff"/>
<polygon points="371,717.32 374.22,711.72 367.78,711.72" fill="#bf33ff"/>
<polygon points="395.9,772.72 399.12,767.12 392.68,767.12" fill="#bf33ff"/>
<polygon points="435.6,779.22 438.82,773.62 432.38,773.62" fill="#bf33ff"/>
<polygon points="257.6,775.08 260.82,780.68 254.38,780.68" fill="#3ee026"/>
<polygon points="270.4,774.68 273.62,780.28 267.18,780.28" fill="#3ee026"/>
<polygon points="295.5,751.28 298.72,756.88 292.28,756.88" fill="#3ee026"/>
<polygon points="320.5,771.18 323.72,776.78 317.28,776.78" fill="#3ee026"/>
<polygon points="333.2,749.58 336.42,755.18 329.98,755.18" fill="#3ee026"/>
<polygon points="358.5,770.28 361.72,775.88 355.28,775.88" fill="#3ee026"/>
<polygon points="371,733.68 374.22,739.28 367.78,739.28" fill="#3ee026"/>
<polygon points="395.9,768.68 399.12,774.28 392.68,774.28" fill="#3ee026"/>
<polygon points="435.6,772.68 438.82,778.28 432.38,778.28" fill="#3ee026"/>
<circle cx="257.6" cy="778.3" r="2.8" fill="#0000ff"/>
<circle cx="270.4" cy="776.9" r="2.8" fill="#0000ff"/>
<circle cx="295.5" cy="774.4" r="2.8" fill="#0000ff"/>
<circle cx="320.5" cy="779.8" r="2.8" fill="#0000ff"/>
<circle cx="333.2" cy="780.5" r="2.8" fill="#0000ff"/>
<circle cx="358.5" cy="779.1" r="2.8" fill="#0000ff"/>
<circle cx="371" cy="775.4" r="2.8" fill="#0000ff"/>
<circle cx="395.9" cy="780.7" r="2.8" fill="#0000ff"/>
<circle cx="435.6" cy="773.8" r="2.8" fill="#0000ff"/>
<text transform="translate(352.6 829.6) scale(1 1.13)" font-family="Liberation Sans" font-size="10.2" font-weight="bold" text-anchor="middle" fill="#1a1a1a" >Time(Day)</text>
<text x="0" y="0" transform="translate(234.4,739) rotate(-90)" font-family="Liberation Sans" font-weight="bold" font-size="10" text-anchor="middle" fill="#1a1a1a">U/L</text>
<text x="577.6" y="655" font-family="Liberation Sans" font-size="12" font-weight="bold" text-anchor="middle" fill="#1a1a1a" >PLT</text>
<line x1="480.5" y1="670.7" x2="480.5" y2="802.4" stroke="#1a1a1a" stroke-width="1.3" />
<line x1="477" y1="671.2" x2="480.5" y2="671.2" stroke="#1a1a1a" stroke-width="1.3" />
<text transform="translate(476.4 674.7) scale(1 1.13)" font-family="Liberation Sans" font-size="8.8" font-weight="bold" text-anchor="end" fill="#1a1a1a" >800</text>
<line x1="477" y1="703.5" x2="480.5" y2="703.5" stroke="#1a1a1a" stroke-width="1.3" />
<text transform="translate(476.4 707) scale(1 1.13)" font-family="Liberation Sans" font-size="8.8" font-weight="bold" text-anchor="end" fill="#1a1a1a" >600</text>
<line x1="477" y1="736.1" x2="480.5" y2="736.1" stroke="#1a1a1a" stroke-width="1.3" />
<text transform="translate(476.4 739.6) scale(1 1.13)" font-family="Liberation Sans" font-size="8.8" font-weight="bold" text-anchor="end" fill="#1a1a1a" >400</text>
<line x1="477" y1="768.5" x2="480.5" y2="768.5" stroke="#1a1a1a" stroke-width="1.3" />
<text transform="translate(476.4 772) scale(1 1.13)" font-family="Liberation Sans" font-size="8.8" font-weight="bold" text-anchor="end" fill="#1a1a1a" >200</text>
<line x1="477" y1="801" x2="480.5" y2="801" stroke="#1a1a1a" stroke-width="1.3" />
<text transform="translate(476.4 804.5) scale(1 1.13)" font-family="Liberation Sans" font-size="8.8" font-weight="bold" text-anchor="end" fill="#1a1a1a" >0</text>
<line x1="479.8" y1="801.8" x2="675.6" y2="801.8" stroke="#1a1a1a" stroke-width="1.3" />
<line x1="480.4" y1="801.8" x2="480.4" y2="805.3" stroke="#1a1a1a" stroke-width="1.2" />
<line x1="482.25" y1="801.8" x2="482.25" y2="803.8" stroke="#1a1a1a" stroke-width="0.6" />
<line x1="484.09" y1="801.8" x2="484.09" y2="803.8" stroke="#1a1a1a" stroke-width="0.6" />
<line x1="485.94" y1="801.8" x2="485.94" y2="803.8" stroke="#1a1a1a" stroke-width="0.6" />
<line x1="487.79" y1="801.8" x2="487.79" y2="803.8" stroke="#1a1a1a" stroke-width="0.6" />
<line x1="489.64" y1="801.8" x2="489.64" y2="803.8" stroke="#1a1a1a" stroke-width="0.6" />
<line x1="491.48" y1="801.8" x2="491.48" y2="803.8" stroke="#1a1a1a" stroke-width="0.6" />
<line x1="493.33" y1="801.8" x2="493.33" y2="805.3" stroke="#1a1a1a" stroke-width="1.2" />
<line x1="495.18" y1="801.8" x2="495.18" y2="803.8" stroke="#1a1a1a" stroke-width="0.6" />
<line x1="497.02" y1="801.8" x2="497.02" y2="803.8" stroke="#1a1a1a" stroke-width="0.6" />
<line x1="498.87" y1="801.8" x2="498.87" y2="803.8" stroke="#1a1a1a" stroke-width="0.6" />
<line x1="500.72" y1="801.8" x2="500.72" y2="803.8" stroke="#1a1a1a" stroke-width="0.6" />
<line x1="502.57" y1="801.8" x2="502.57" y2="803.8" stroke="#1a1a1a" stroke-width="0.6" />
<line x1="504.41" y1="801.8" x2="504.41" y2="803.8" stroke="#1a1a1a" stroke-width="0.6" />
<line x1="506.26" y1="801.8" x2="506.26" y2="805.3" stroke="#1a1a1a" stroke-width="1.2" />
<line x1="508.11" y1="801.8" x2="508.11" y2="803.8" stroke="#1a1a1a" stroke-width="0.6" />
<line x1="509.95" y1="801.8" x2="509.95" y2="803.8" stroke="#1a1a1a" stroke-width="0.6" />
<line x1="511.8" y1="801.8" x2="511.8" y2="803.8" stroke="#1a1a1a" stroke-width="0.6" />
<line x1="513.65" y1="801.8" x2="513.65" y2="803.8" stroke="#1a1a1a" stroke-width="0.6" />
<line x1="515.5" y1="801.8" x2="515.5" y2="803.8" stroke="#1a1a1a" stroke-width="0.6" />
<line x1="517.34" y1="801.8" x2="517.34" y2="803.8" stroke="#1a1a1a" stroke-width="0.6" />
<line x1="519.19" y1="801.8" x2="519.19" y2="805.3" stroke="#1a1a1a" stroke-width="1.2" />
<line x1="521.04" y1="801.8" x2="521.04" y2="803.8" stroke="#1a1a1a" stroke-width="0.6" />
<line x1="522.88" y1="801.8" x2="522.88" y2="803.8" stroke="#1a1a1a" stroke-width="0.6" />
<line x1="524.73" y1="801.8" x2="524.73" y2="803.8" stroke="#1a1a1a" stroke-width="0.6" />
<line x1="526.58" y1="801.8" x2="526.58" y2="803.8" stroke="#1a1a1a" stroke-width="0.6" />
<line x1="528.43" y1="801.8" x2="528.43" y2="803.8" stroke="#1a1a1a" stroke-width="0.6" />
<line x1="530.27" y1="801.8" x2="530.27" y2="803.8" stroke="#1a1a1a" stroke-width="0.6" />
<line x1="532.12" y1="801.8" x2="532.12" y2="805.3" stroke="#1a1a1a" stroke-width="1.2" />
<line x1="533.97" y1="801.8" x2="533.97" y2="803.8" stroke="#1a1a1a" stroke-width="0.6" />
<line x1="535.81" y1="801.8" x2="535.81" y2="803.8" stroke="#1a1a1a" stroke-width="0.6" />
<line x1="537.66" y1="801.8" x2="537.66" y2="803.8" stroke="#1a1a1a" stroke-width="0.6" />
<line x1="539.51" y1="801.8" x2="539.51" y2="803.8" stroke="#1a1a1a" stroke-width="0.6" />
<line x1="541.36" y1="801.8" x2="541.36" y2="803.8" stroke="#1a1a1a" stroke-width="0.6" />
<line x1="543.2" y1="801.8" x2="543.2" y2="803.8" stroke="#1a1a1a" stroke-width="0.6" />
<line x1="545.05" y1="801.8" x2="545.05" y2="805.3" stroke="#1a1a1a" stroke-width="1.2" />
<line x1="546.9" y1="801.8" x2="546.9" y2="803.8" stroke="#1a1a1a" stroke-width="0.6" />
<line x1="548.74" y1="801.8" x2="548.74" y2="803.8" stroke="#1a1a1a" stroke-width="0.6" />
<line x1="550.59" y1="801.8" x2="550.59" y2="803.8" stroke="#1a1a1a" stroke-width="0.6" />
<line x1="552.44" y1="801.8" x2="552.44" y2="803.8" stroke="#1a1a1a" stroke-width="0.6" />
<line x1="554.29" y1="801.8" x2="554.29" y2="803.8" stroke="#1a1a1a" stroke-width="0.6" />
<line x1="556.13" y1="801.8" x2="556.13" y2="803.8" stroke="#1a1a1a" stroke-width="0.6" />
<line x1="557.98" y1="801.8" x2="557.98" y2="805.3" stroke="#1a1a1a" stroke-width="1.2" />
<line x1="559.83" y1="801.8" x2="559.83" y2="803.8" stroke="#1a1a1a" stroke-width="0.6" />
<line x1="561.67" y1="801.8" x2="561.67" y2="803.8" stroke="#1a1a1a" stroke-width="0.6" />
<line x1="563.52" y1="801.8" x2="563.52" y2="803.8" stroke="#1a1a1a" stroke-width="0.6" />
<line x1="565.37" y1="801.8" x2="565.37" y2="803.8" stroke="#1a1a1a" stroke-width="0.6" />
<line x1="567.22" y1="801.8" x2="567.22" y2="803.8" stroke="#1a1a1a" stroke-width="0.6" />
<line x1="569.06" y1="801.8" x2="569.06" y2="803.8" stroke="#1a1a1a" stroke-width="0.6" />
<line x1="570.91" y1="801.8" x2="570.91" y2="805.3" stroke="#1a1a1a" stroke-width="1.2" />
<line x1="572.76" y1="801.8" x2="572.76" y2="803.8" stroke="#1a1a1a" stroke-width="0.6" />
<line x1="574.6" y1="801.8" x2="574.6" y2="803.8" stroke="#1a1a1a" stroke-width="0.6" />
<line x1="576.45" y1="801.8" x2="576.45" y2="803.8" stroke="#1a1a1a" stroke-width="0.6" />
<line x1="578.3" y1="801.8" x2="578.3" y2="803.8" stroke="#1a1a1a" stroke-width="0.6" />
<line x1="580.15" y1="801.8" x2="580.15" y2="803.8" stroke="#1a1a1a" stroke-width="0.6" />
<line x1="581.99" y1="801.8" x2="581.99" y2="803.8" stroke="#1a1a1a" stroke-width="0.6" />
<line x1="583.84" y1="801.8" x2="583.84" y2="805.3" stroke="#1a1a1a" stroke-width="1.2" />
<line x1="585.69" y1="801.8" x2="585.69" y2="803.8" stroke="#1a1a1a" stroke-width="0.6" />
<line x1="587.53" y1="801.8" x2="587.53" y2="803.8" stroke="#1a1a1a" stroke-width="0.6" />
<line x1="589.38" y1="801.8" x2="589.38" y2="803.8" stroke="#1a1a1a" stroke-width="0.6" />
<line x1="591.23" y1="801.8" x2="591.23" y2="803.8" stroke="#1a1a1a" stroke-width="0.6" />
<line x1="593.08" y1="801.8" x2="593.08" y2="803.8" stroke="#1a1a1a" stroke-width="0.6" />
<line x1="594.92" y1="801.8" x2="594.92" y2="803.8" stroke="#1a1a1a" stroke-width="0.6" />
<line x1="596.77" y1="801.8" x2="596.77" y2="805.3" stroke="#1a1a1a" stroke-width="1.2" />
<line x1="598.62" y1="801.8" x2="598.62" y2="803.8" stroke="#1a1a1a" stroke-width="0.6" />
<line x1="600.46" y1="801.8" x2="600.46" y2="803.8" stroke="#1a1a1a" stroke-width="0.6" />
<line x1="602.31" y1="801.8" x2="602.31" y2="803.8" stroke="#1a1a1a" stroke-width="0.6" />
<line x1="604.16" y1="801.8" x2="604.16" y2="803.8" stroke="#1a1a1a" stroke-width="0.6" />
<line x1="606.01" y1="801.8" x2="606.01" y2="803.8" stroke="#1a1a1a" stroke-width="0.6" />
<line x1="607.85" y1="801.8" x2="607.85" y2="803.8" stroke="#1a1a1a" stroke-width="0.6" />
<line x1="609.7" y1="801.8" x2="609.7" y2="805.3" stroke="#1a1a1a" stroke-width="1.2" />
<line x1="611.55" y1="801.8" x2="611.55" y2="803.8" stroke="#1a1a1a" stroke-width="0.6" />
<line x1="613.39" y1="801.8" x2="613.39" y2="803.8" stroke="#1a1a1a" stroke-width="0.6" />
<line x1="615.24" y1="801.8" x2="615.24" y2="803.8" stroke="#1a1a1a" stroke-width="0.6" />
<line x1="617.09" y1="801.8" x2="617.09" y2="803.8" stroke="#1a1a1a" stroke-width="0.6" />
<line x1="618.94" y1="801.8" x2="618.94" y2="803.8" stroke="#1a1a1a" stroke-width="0.6" />
<line x1="620.78" y1="801.8" x2="620.78" y2="803.8" stroke="#1a1a1a" stroke-width="0.6" />
<line x1="622.63" y1="801.8" x2="622.63" y2="805.3" stroke="#1a1a1a" stroke-width="1.2" />
<line x1="624.48" y1="801.8" x2="624.48" y2="803.8" stroke="#1a1a1a" stroke-width="0.6" />
<line x1="626.32" y1="801.8" x2="626.32" y2="803.8" stroke="#1a1a1a" stroke-width="0.6" />
<line x1="628.17" y1="801.8" x2="628.17" y2="803.8" stroke="#1a1a1a" stroke-width="0.6" />
<line x1="630.02" y1="801.8" x2="630.02" y2="803.8" stroke="#1a1a1a" stroke-width="0.6" />
<line x1="631.87" y1="801.8" x2="631.87" y2="803.8" stroke="#1a1a1a" stroke-width="0.6" />
<line x1="633.71" y1="801.8" x2="633.71" y2="803.8" stroke="#1a1a1a" stroke-width="0.6" />
<line x1="635.56" y1="801.8" x2="635.56" y2="805.3" stroke="#1a1a1a" stroke-width="1.2" />
<line x1="637.41" y1="801.8" x2="637.41" y2="803.8" stroke="#1a1a1a" stroke-width="0.6" />
<line x1="639.25" y1="801.8" x2="639.25" y2="803.8" stroke="#1a1a1a" stroke-width="0.6" />
<line x1="641.1" y1="801.8" x2="641.1" y2="803.8" stroke="#1a1a1a" stroke-width="0.6" />
<line x1="642.95" y1="801.8" x2="642.95" y2="803.8" stroke="#1a1a1a" stroke-width="0.6" />
<line x1="644.8" y1="801.8" x2="644.8" y2="803.8" stroke="#1a1a1a" stroke-width="0.6" />
<line x1="646.64" y1="801.8" x2="646.64" y2="803.8" stroke="#1a1a1a" stroke-width="0.6" />
<line x1="648.49" y1="801.8" x2="648.49" y2="805.3" stroke="#1a1a1a" stroke-width="1.2" />
<line x1="650.34" y1="801.8" x2="650.34" y2="803.8" stroke="#1a1a1a" stroke-width="0.6" />
<line x1="652.18" y1="801.8" x2="652.18" y2="803.8" stroke="#1a1a1a" stroke-width="0.6" />
<line x1="654.03" y1="801.8" x2="654.03" y2="803.8" stroke="#1a1a1a" stroke-width="0.6" />
<line x1="655.88" y1="801.8" x2="655.88" y2="803.8" stroke="#1a1a1a" stroke-width="0.6" />
<line x1="657.73" y1="801.8" x2="657.73" y2="803.8" stroke="#1a1a1a" stroke-width="0.6" />
<line x1="659.57" y1="801.8" x2="659.57" y2="803.8" stroke="#1a1a1a" stroke-width="0.6" />
<line x1="661.42" y1="801.8" x2="661.42" y2="805.3" stroke="#1a1a1a" stroke-width="1.2" />
<line x1="663.27" y1="801.8" x2="663.27" y2="803.8" stroke="#1a1a1a" stroke-width="0.6" />
<line x1="665.11" y1="801.8" x2="665.11" y2="803.8" stroke="#1a1a1a" stroke-width="0.6" />
<line x1="666.96" y1="801.8" x2="666.96" y2="803.8" stroke="#1a1a1a" stroke-width="0.6" />
<line x1="668.81" y1="801.8" x2="668.81" y2="803.8" stroke="#1a1a1a" stroke-width="0.6" />
<line x1="670.66" y1="801.8" x2="670.66" y2="803.8" stroke="#1a1a1a" stroke-width="0.6" />
<line x1="672.5" y1="801.8" x2="672.5" y2="803.8" stroke="#1a1a1a" stroke-width="0.6" />
<line x1="674.35" y1="801.8" x2="674.35" y2="805.3" stroke="#1a1a1a" stroke-width="1.2" />
<text transform="translate(480.4 816.1) scale(1 1.08)" font-family="Liberation Sans" font-size="9" font-weight="bold" text-anchor="middle" fill="#1a1a1a" >-14</text>
<text transform="translate(493.33 816.1) scale(1 1.08)" font-family="Liberation Sans" font-size="9" font-weight="bold" text-anchor="middle" fill="#1a1a1a" >-7</text>
<text transform="translate(506.26 816.1) scale(1 1.08)" font-family="Liberation Sans" font-size="9" font-weight="bold" text-anchor="middle" fill="#1a1a1a" >0</text>
<text transform="translate(519.19 816.1) scale(1 1.08)" font-family="Liberation Sans" font-size="9" font-weight="bold" text-anchor="middle" fill="#1a1a1a" >7</text>
<text transform="translate(532.12 816.1) scale(1 1.08)" font-family="Liberation Sans" font-size="9" font-weight="bold" text-anchor="middle" fill="#1a1a1a" >14</text>
<text transform="translate(545.05 816.1) scale(1 1.08)" font-family="Liberation Sans" font-size="9" font-weight="bold" text-anchor="middle" fill="#1a1a1a" >21</text>
<text transform="translate(557.98 816.1) scale(1 1.08)" font-family="Liberation Sans" font-size="9" font-weight="bold" text-anchor="middle" fill="#1a1a1a" >28</text>
<text transform="translate(570.91 816.1) scale(1 1.08)" font-family="Liberation Sans" font-size="9" font-weight="bold" text-anchor="middle" fill="#1a1a1a" >35</text>
<text transform="translate(583.84 816.1) scale(1 1.08)" font-family="Liberation Sans" font-size="9" font-weight="bold" text-anchor="middle" fill="#1a1a1a" >42</text>
<text transform="translate(596.77 816.1) scale(1 1.08)" font-family="Liberation Sans" font-size="9" font-weight="bold" text-anchor="middle" fill="#1a1a1a" >49</text>
<text transform="translate(609.7 816.1) scale(1 1.08)" font-family="Liberation Sans" font-size="9" font-weight="bold" text-anchor="middle" fill="#1a1a1a" >56</text>
<text transform="translate(622.63 816.1) scale(1 1.08)" font-family="Liberation Sans" font-size="9" font-weight="bold" text-anchor="middle" fill="#1a1a1a" >63</text>
<text transform="translate(635.56 816.1) scale(1 1.08)" font-family="Liberation Sans" font-size="9" font-weight="bold" text-anchor="middle" fill="#1a1a1a" >70</text>
<text transform="translate(648.49 816.1) scale(1 1.08)" font-family="Liberation Sans" font-size="9" font-weight="bold" text-anchor="middle" fill="#1a1a1a" >77</text>
<text transform="translate(661.42 816.1) scale(1 1.08)" font-family="Liberation Sans" font-size="9" font-weight="bold" text-anchor="middle" fill="#1a1a1a" >84</text>
<text transform="translate(674.35 816.1) scale(1 1.08)" font-family="Liberation Sans" font-size="9" font-weight="bold" text-anchor="middle" fill="#1a1a1a" >91</text>
<polyline points="480.5,729.7 493.2,733.6 519.1,731.9 545.1,736.3 557.9,737 584.1,737.7 597.3,734 623,752.2 663.9,748.2" fill="none" stroke="#ff1a1a" stroke-width="1.45" stroke-linejoin="round" stroke-opacity="1"/>
<polyline points="480.5,729.7 493.2,729 519.1,760.4 545.1,729 557.9,758.2 584.1,731.3 597.3,747.9 623,746.3 663.9,745.8" fill="none" stroke="#bf33ff" stroke-width="1.45" stroke-linejoin="round" stroke-opacity="1"/>
<polyline points="480.5,727.8 493.2,727.8 519.1,751.6 545.1,728.2 557.9,756.7 584.1,732.1 597.3,757 623,724.9 663.9,721.7" fill="none" stroke="#3ee026" stroke-width="1.45" stroke-linejoin="round" stroke-opacity="1"/>
<polyline points="480.5,738 493.2,735.1 519.1,731.9 545.1,737.4 557.9,741.8 584.1,747.4 597.3,736.6 623,735.7 663.9,737.3" fill="none" stroke="#0000ff" stroke-width="1.45" stroke-linejoin="round" stroke-opacity="1"/>
<line x1="480.5" y1="721.7" x2="480.5" y2="727.8" stroke="#3ee026" stroke-width="1.2" />
<line x1="478" y1="721.7" x2="483" y2="721.7" stroke="#3ee026" stroke-width="1.2" />
<line x1="493.2" y1="720.5" x2="493.2" y2="727.8" stroke="#3ee026" stroke-width="1.2" />
<line x1="490.7" y1="720.5" x2="495.7" y2="720.5" stroke="#3ee026" stroke-width="1.2" />
<line x1="519.1" y1="745.3" x2="519.1" y2="751.6" stroke="#3ee026" stroke-width="1.2" />
<line x1="516.6" y1="745.3" x2="521.6" y2="745.3" stroke="#3ee026" stroke-width="1.2" />
<line x1="545.1" y1="724.6" x2="545.1" y2="728.2" stroke="#3ee026" stroke-width="1.2" />
<line x1="542.6" y1="724.6" x2="547.6" y2="724.6" stroke="#3ee026" stroke-width="1.2" />
<line x1="557.9" y1="753.5" x2="557.9" y2="756.7" stroke="#3ee026" stroke-width="1.2" />
<line x1="555.4" y1="753.5" x2="560.4" y2="753.5" stroke="#3ee026" stroke-width="1.2" />
<line x1="623" y1="712" x2="623" y2="724.9" stroke="#3ee026" stroke-width="1.2" />
<line x1="620.5" y1="712" x2="625.5" y2="712" stroke="#3ee026" stroke-width="1.2" />
<line x1="663.9" y1="707.2" x2="663.9" y2="721.7" stroke="#3ee026" stroke-width="1.2" />
<line x1="661.4" y1="707.2" x2="666.4" y2="707.2" stroke="#3ee026" stroke-width="1.2" />
<line x1="545.1" y1="720.5" x2="545.1" y2="729" stroke="#bf33ff" stroke-width="1.2" />
<line x1="542.6" y1="720.5" x2="547.6" y2="720.5" stroke="#bf33ff" stroke-width="1.2" />
<line x1="584.1" y1="724.9" x2="584.1" y2="731.3" stroke="#bf33ff" stroke-width="1.2" />
<line x1="581.6" y1="724.9" x2="586.6" y2="724.9" stroke="#bf33ff" stroke-width="1.2" />
<line x1="597.3" y1="743.4" x2="597.3" y2="747.9" stroke="#bf33ff" stroke-width="1.2" />
<line x1="594.8" y1="743.4" x2="599.8" y2="743.4" stroke="#bf33ff" stroke-width="1.2" />
<line x1="557.9" y1="730.4" x2="557.9" y2="737" stroke="#ff1a1a" stroke-width="1.2" />
<line x1="555.4" y1="730.4" x2="560.4" y2="730.4" stroke="#ff1a1a" stroke-width="1.2" />
<line x1="597.3" y1="729.2" x2="597.3" y2="734" stroke="#ff1a1a" stroke-width="1.2" />
<line x1="594.8" y1="729.2" x2="599.8" y2="729.2" stroke="#ff1a1a" stroke-width="1.2" />
<line x1="663.9" y1="743.4" x2="663.9" y2="748.2" stroke="#ff1a1a" stroke-width="1.2" />
<line x1="661.4" y1="743.4" x2="666.4" y2="743.4" stroke="#ff1a1a" stroke-width="1.2" />
<line x1="519.1" y1="726.8" x2="519.1" y2="731.9" stroke="#0000ff" stroke-width="1.2" />
<line x1="516.6" y1="726.8" x2="521.6" y2="726.8" stroke="#0000ff" stroke-width="1.2" />
<line x1="623" y1="730.2" x2="623" y2="735.7" stroke="#0000ff" stroke-width="1.2" />
<line x1="620.5" y1="730.2" x2="625.5" y2="730.2" stroke="#0000ff" stroke-width="1.2" />
<line x1="663.9" y1="728.6" x2="663.9" y2="737.3" stroke="#0000ff" stroke-width="1.2" />
<line x1="661.4" y1="728.6" x2="666.4" y2="728.6" stroke="#0000ff" stroke-width="1.2" />
<rect x="477.7" y="726.9" width="5.6" height="5.6" fill="#ff1a1a"/>
<rect x="490.4" y="730.8" width="5.6" height="5.6" fill="#ff1a1a"/>
<rect x="516.3" y="729.1" width="5.6" height="5.6" fill="#ff1a1a"/>
<rect x="542.3" y="733.5" width="5.6" height="5.6" fill="#ff1a1a"/>
<rect x="555.1" y="734.2" width="5.6" height="5.6" fill="#ff1a1a"/>
<rect x="581.3" y="734.9" width="5.6" height="5.6" fill="#ff1a1a"/>
<rect x="594.5" y="731.2" width="5.6" height="5.6" fill="#ff1a1a"/>
<rect x="620.2" y="749.4" width="5.6" height="5.6" fill="#ff1a1a"/>
<rect x="661.1" y="745.4" width="5.6" height="5.6" fill="#ff1a1a"/>
<polygon points="480.5,732.92 483.72,727.32 477.28,727.32" fill="#bf33ff"/>
<polygon points="493.2,732.22 496.42,726.62 489.98,726.62" fill="#bf33ff"/>
<polygon points="519.1,763.62 522.32,758.02 515.88,758.02" fill="#bf33ff"/>
<polygon points="545.1,732.22 548.32,726.62 541.88,726.62" fill="#bf33ff"/>
<polygon points="557.9,761.42 561.12,755.82 554.68,755.82" fill="#bf33ff"/>
<polygon points="584.1,734.52 587.32,728.92 580.88,728.92" fill="#bf33ff"/>
<polygon points="597.3,751.12 600.52,745.52 594.08,745.52" fill="#bf33ff"/>
<polygon points="623,749.52 626.22,743.92 619.78,743.92" fill="#bf33ff"/>
<polygon points="663.9,749.02 667.12,743.42 660.68,743.42" fill="#bf33ff"/>
<polygon points="480.5,724.58 483.72,730.18 477.28,730.18" fill="#3ee026"/>
<polygon points="493.2,724.58 496.42,730.18 489.98,730.18" fill="#3ee026"/>
<polygon points="519.1,748.38 522.32,753.98 515.88,753.98" fill="#3ee026"/>
<polygon points="545.1,724.98 548.32,730.58 541.88,730.58" fill="#3ee026"/>
<polygon points="557.9,753.48 561.12,759.08 554.68,759.08" fill="#3ee026"/>
<polygon points="584.1,728.88 587.32,734.48 580.88,734.48" fill="#3ee026"/>
<polygon points="597.3,753.78 600.52,759.38 594.08,759.38" fill="#3ee026"/>
<polygon points="623,721.68 626.22,727.28 619.78,727.28" fill="#3ee026"/>
<polygon points="663.9,718.48 667.12,724.08 660.68,724.08" fill="#3ee026"/>
<circle cx="480.5" cy="738" r="2.8" fill="#0000ff"/>
<circle cx="493.2" cy="735.1" r="2.8" fill="#0000ff"/>
<circle cx="519.1" cy="731.9" r="2.8" fill="#0000ff"/>
<circle cx="545.1" cy="737.4" r="2.8" fill="#0000ff"/>
<circle cx="557.9" cy="741.8" r="2.8" fill="#0000ff"/>
<circle cx="584.1" cy="747.4" r="2.8" fill="#0000ff"/>
<circle cx="597.3" cy="736.6" r="2.8" fill="#0000ff"/>
<circle cx="623" cy="735.7" r="2.8" fill="#0000ff"/>
<circle cx="663.9" cy="737.3" r="2.8" fill="#0000ff"/>
<text transform="translate(577.7 829.6) scale(1 1.13)" font-family="Liberation Sans" font-size="10.2" font-weight="bold" text-anchor="middle" fill="#1a1a1a" >Time(Day)</text>
<text x="0" y="0" transform="translate(453.4,736) rotate(-90)" font-family="Liberation Sans" font-weight="bold" font-size="10.2" text-anchor="middle" fill="#1a1a1a" textLength="32" lengthAdjust="spacingAndGlyphs">10^9/L</text>
<line x1="542" y1="665.9" x2="558" y2="665.9" stroke="#0000ff" stroke-width="1" />
<circle cx="550" cy="665.9" r="3" fill="#0000ff"/>
<text x="563.5" y="669.75" font-family="Liberation Sans" font-size="10.7" font-weight="normal" text-anchor="start" fill="#222" >Vehicle</text>
<line x1="542" y1="681" x2="558" y2="681" stroke="#ff1a1a" stroke-width="1" />
<rect x="547" y="678" width="6" height="6" fill="#ff1a1a"/>
<text x="563.5" y="684.85" font-family="Liberation Sans" font-size="10.7" font-weight="normal" text-anchor="start" fill="#222" >GQ1001 ADC 10 mg/kg</text>
<line x1="542" y1="696.1" x2="558" y2="696.1" stroke="#3ee026" stroke-width="1" />
<polygon points="550,692.65 553.45,698.65 546.55,698.65" fill="#3ee026"/>
<text x="563.5" y="699.95" font-family="Liberation Sans" font-size="10.7" font-weight="normal" text-anchor="start" fill="#222" >GQ1001 ADC 30 mg/kg</text>
<line x1="542" y1="711.2" x2="558" y2="711.2" stroke="#bf33ff" stroke-width="1" />
<polygon points="550,714.65 553.45,708.65 546.55,708.65" fill="#bf33ff"/>
<text x="563.5" y="715.05" font-family="Liberation Sans" font-size="10.7" font-weight="normal" text-anchor="start" fill="#222" >GQ1001 ADC 45 mg/kg</text>
</svg></body></html>
